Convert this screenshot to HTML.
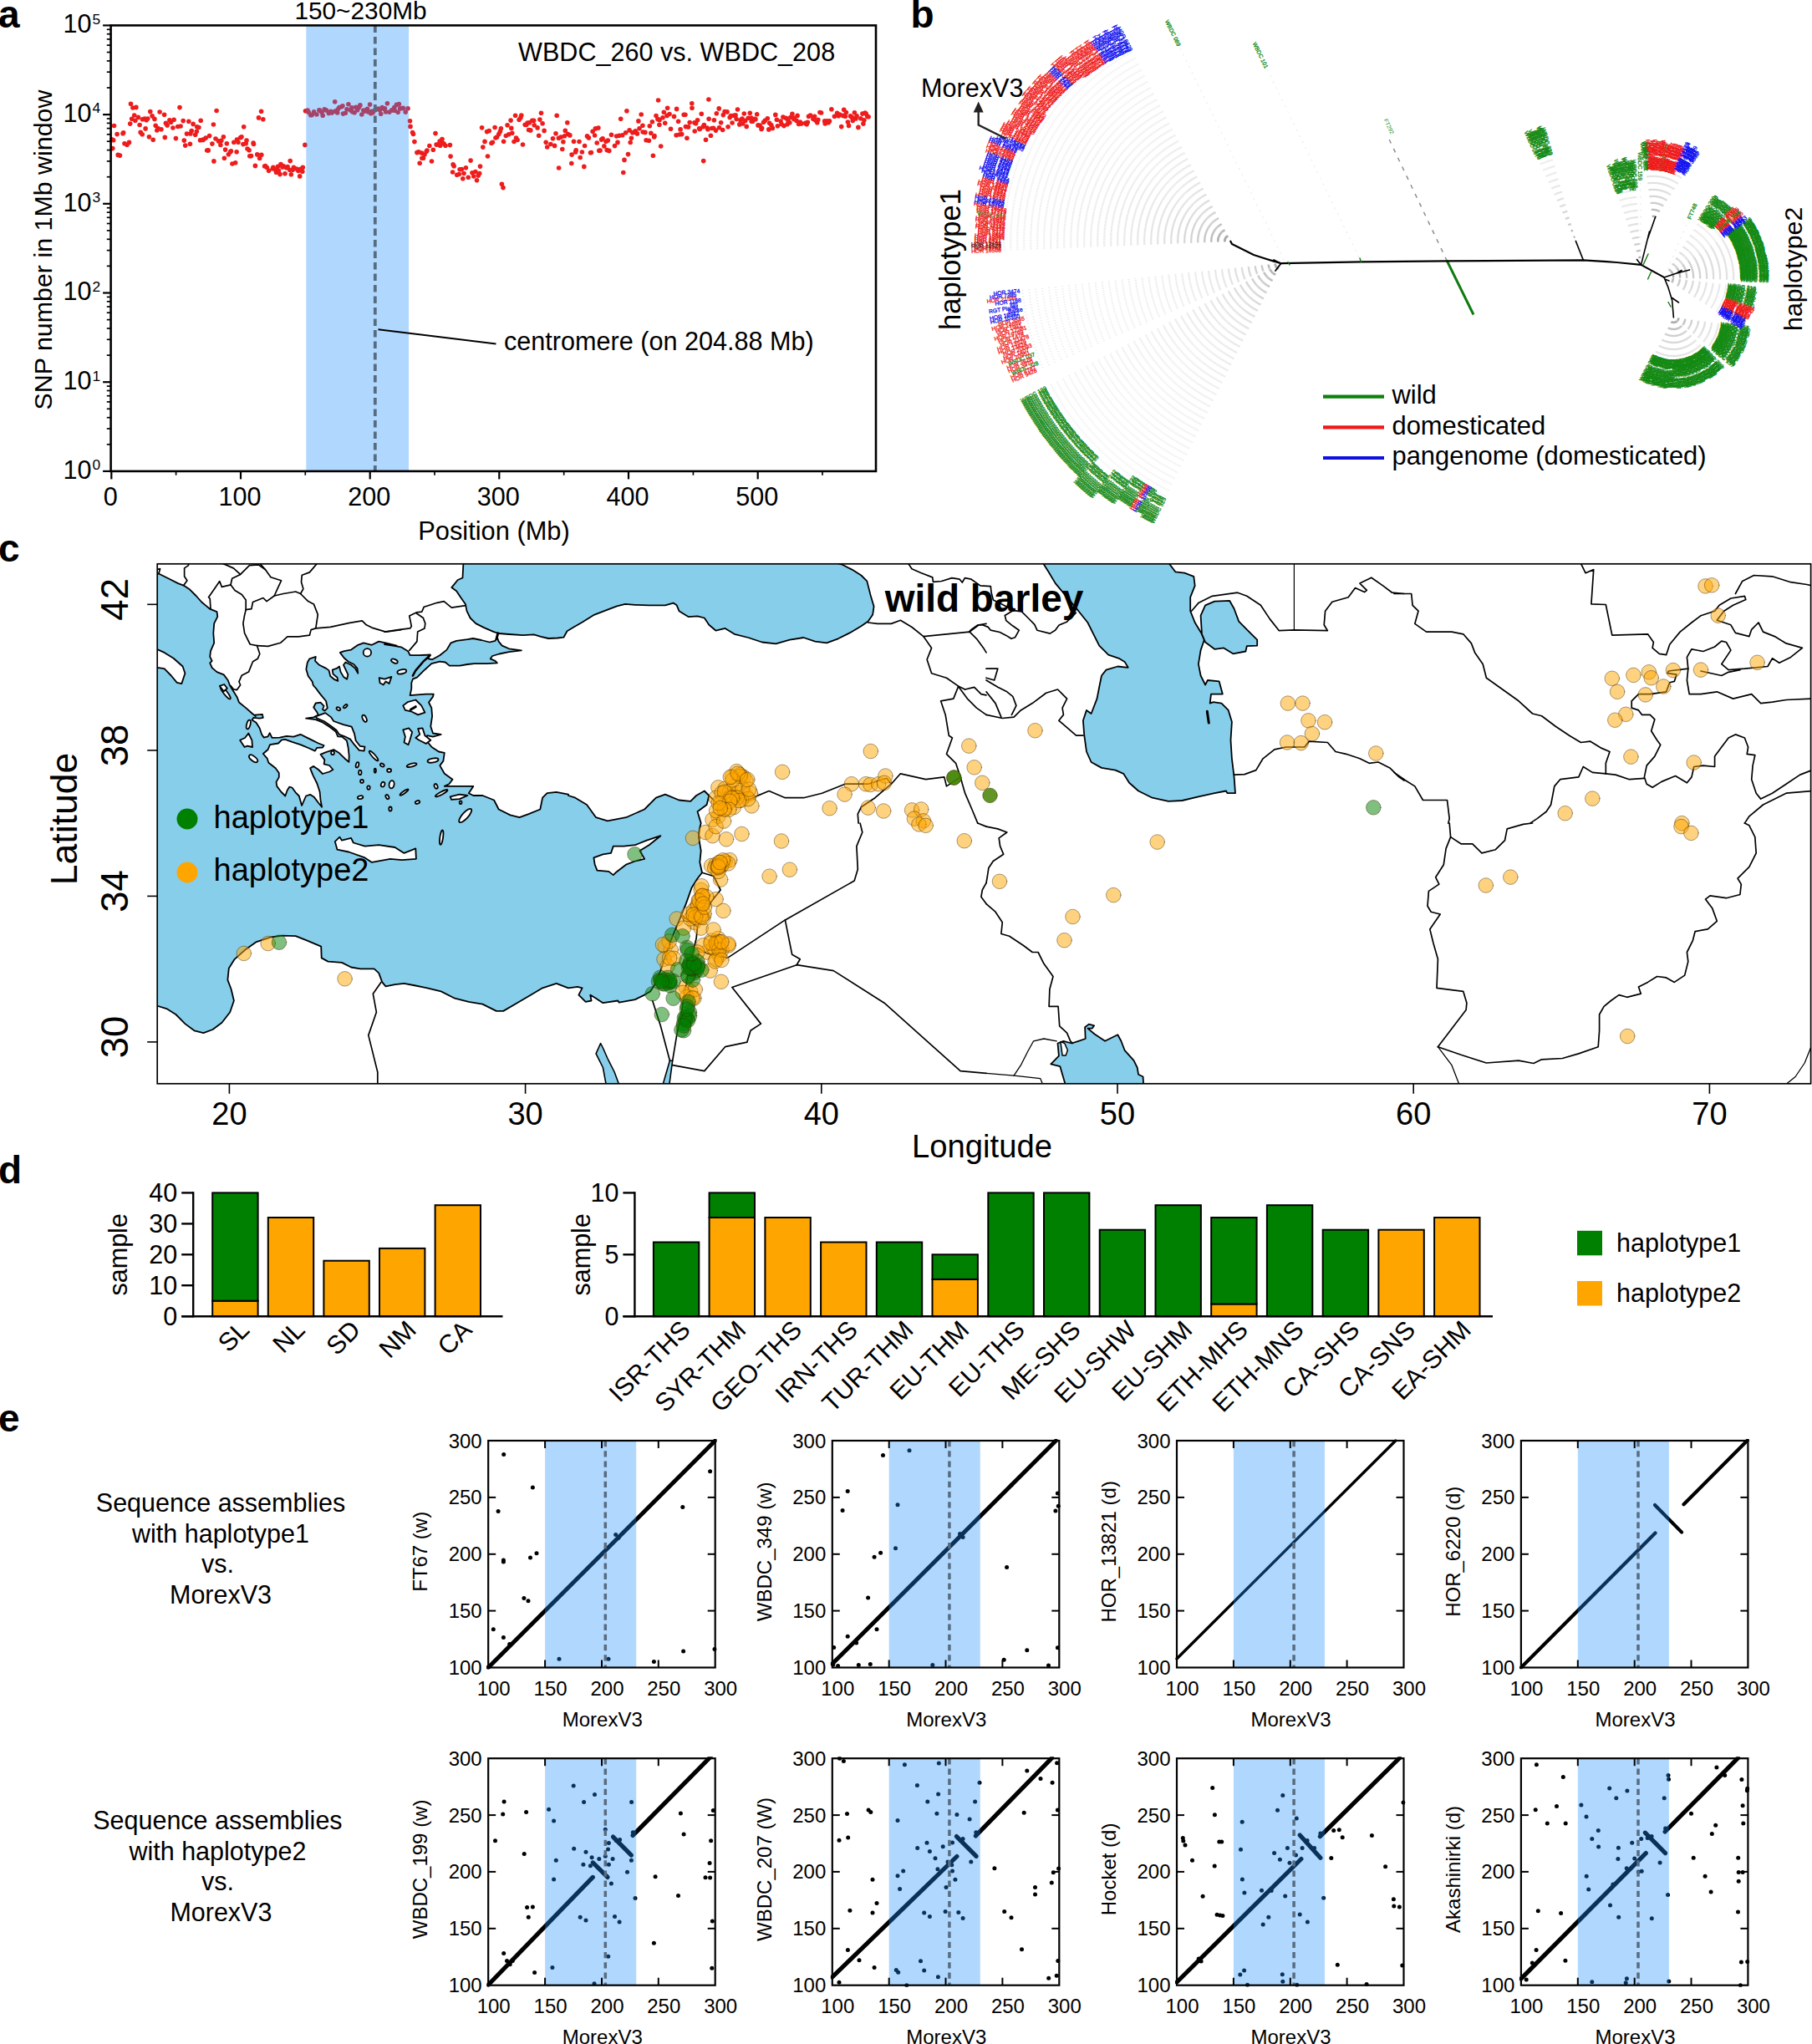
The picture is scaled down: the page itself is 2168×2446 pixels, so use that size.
<!DOCTYPE html>
<html><head><meta charset="utf-8"><title>Figure</title>
<style>
html,body{margin:0;padding:0;background:#fff}
svg{display:block}
text{font-family:"Liberation Sans",Arial,Helvetica,sans-serif}
</style></head><body>
<svg width="2168" height="2446" viewBox="0 0 2168 2446">
<rect width="2168" height="2446" fill="#fff"/>
<g id="panel-a">
<text x="-2" y="32.6" font-size="46" font-weight="bold">a</text>
<g fill="#ee1c1c"><circle cx="133.8" cy="166.7" r="2.8"/><circle cx="135.7" cy="167.8" r="2.8"/><circle cx="136.5" cy="150.5" r="2.8"/><circle cx="140.1" cy="160.6" r="2.8"/><circle cx="141.2" cy="185.4" r="2.8"/><circle cx="143.5" cy="186.1" r="2.8"/><circle cx="147" cy="159.8" r="2.8"/><circle cx="147.7" cy="158.7" r="2.8"/><circle cx="149" cy="171.7" r="2.8"/><circle cx="152" cy="173.2" r="2.8"/><circle cx="154.5" cy="170.4" r="2.8"/><circle cx="155.7" cy="148.1" r="2.8"/><circle cx="157.7" cy="142.2" r="2.8"/><circle cx="158.9" cy="129" r="2.8"/><circle cx="160.7" cy="138" r="2.8"/><circle cx="161.8" cy="144.2" r="2.8"/><circle cx="162.9" cy="128.4" r="2.8"/><circle cx="165.4" cy="140.4" r="2.8"/><circle cx="167.1" cy="149.5" r="2.8"/><circle cx="168.2" cy="158.4" r="2.8"/><circle cx="170.2" cy="160.8" r="2.8"/><circle cx="170.5" cy="142.8" r="2.8"/><circle cx="173" cy="142" r="2.8"/><circle cx="174.1" cy="153.9" r="2.8"/><circle cx="175.1" cy="143.7" r="2.8"/><circle cx="176.7" cy="142" r="2.8"/><circle cx="178.4" cy="163.7" r="2.8"/><circle cx="179.8" cy="133.6" r="2.8"/><circle cx="182.1" cy="138.7" r="2.8"/><circle cx="183.2" cy="167.3" r="2.8"/><circle cx="184.9" cy="142.4" r="2.8"/><circle cx="186.2" cy="150.2" r="2.8"/><circle cx="187.8" cy="156" r="2.8"/><circle cx="189" cy="153.6" r="2.8"/><circle cx="191.1" cy="134" r="2.8"/><circle cx="192.9" cy="154.7" r="2.8"/><circle cx="196.6" cy="137.3" r="2.8"/><circle cx="197.3" cy="164.4" r="2.8"/><circle cx="198.4" cy="147.4" r="2.8"/><circle cx="200.1" cy="149.9" r="2.8"/><circle cx="202.9" cy="143.9" r="2.8"/><circle cx="204.5" cy="146.3" r="2.8"/><circle cx="206.9" cy="153" r="2.8"/><circle cx="208.1" cy="143.3" r="2.8"/><circle cx="210.4" cy="165.6" r="2.8"/><circle cx="212.7" cy="151.5" r="2.8"/><circle cx="215" cy="128.6" r="2.8"/><circle cx="216.1" cy="151" r="2.8"/><circle cx="219.2" cy="144.6" r="2.8"/><circle cx="220.3" cy="168.1" r="2.8"/><circle cx="221.7" cy="174.1" r="2.8"/><circle cx="223.5" cy="160.1" r="2.8"/><circle cx="225.8" cy="145.2" r="2.8"/><circle cx="227.4" cy="172.3" r="2.8"/><circle cx="228" cy="159.9" r="2.8"/><circle cx="229.2" cy="156.6" r="2.8"/><circle cx="231.1" cy="148.4" r="2.8"/><circle cx="233.7" cy="161.3" r="2.8"/><circle cx="235.3" cy="157.2" r="2.8"/><circle cx="235.7" cy="151.7" r="2.8"/><circle cx="237.9" cy="152.5" r="2.8"/><circle cx="239.5" cy="167.7" r="2.8"/><circle cx="240.2" cy="144.3" r="2.8"/><circle cx="242.7" cy="167.4" r="2.8"/><circle cx="243.4" cy="167" r="2.8"/><circle cx="246.2" cy="165.1" r="2.8"/><circle cx="247.7" cy="180" r="2.8"/><circle cx="249.2" cy="179.9" r="2.8"/><circle cx="250.6" cy="162.6" r="2.8"/><circle cx="253.9" cy="172.1" r="2.8"/><circle cx="255.4" cy="149" r="2.8"/><circle cx="255.9" cy="192.9" r="2.8"/><circle cx="258" cy="166" r="2.8"/><circle cx="259.1" cy="132.5" r="2.8"/><circle cx="261.5" cy="168.9" r="2.8"/><circle cx="263.9" cy="173.5" r="2.8"/><circle cx="264.8" cy="168.3" r="2.8"/><circle cx="267.4" cy="163.8" r="2.8"/><circle cx="268.4" cy="189.2" r="2.8"/><circle cx="269.6" cy="179.1" r="2.8"/><circle cx="271.3" cy="171.8" r="2.8"/><circle cx="273.4" cy="184.7" r="2.8"/><circle cx="275.5" cy="182" r="2.8"/><circle cx="276.4" cy="180.8" r="2.8"/><circle cx="277.9" cy="196" r="2.8"/><circle cx="279.8" cy="170.2" r="2.8"/><circle cx="281.7" cy="194.8" r="2.8"/><circle cx="283.1" cy="181.8" r="2.8"/><circle cx="283.5" cy="167" r="2.8"/><circle cx="285" cy="170.2" r="2.8"/><circle cx="287.6" cy="164.8" r="2.8"/><circle cx="289" cy="163.7" r="2.8"/><circle cx="290.9" cy="172.6" r="2.8"/><circle cx="291.7" cy="151.8" r="2.8"/><circle cx="294.2" cy="171.7" r="2.8"/><circle cx="295" cy="168" r="2.8"/><circle cx="296" cy="178" r="2.8"/><circle cx="298.1" cy="179.7" r="2.8"/><circle cx="298.8" cy="186.7" r="2.8"/><circle cx="300.5" cy="186.6" r="2.8"/><circle cx="303.1" cy="171" r="2.8"/><circle cx="303.5" cy="172.5" r="2.8"/><circle cx="305.4" cy="198.4" r="2.8"/><circle cx="307.8" cy="184.9" r="2.8"/><circle cx="309.5" cy="140.9" r="2.8"/><circle cx="310.7" cy="189.5" r="2.8"/><circle cx="312.6" cy="133.3" r="2.8"/><circle cx="312.8" cy="185.2" r="2.8"/><circle cx="314.8" cy="142.7" r="2.8"/><circle cx="316.6" cy="199" r="2.8"/><circle cx="317.5" cy="198.5" r="2.8"/><circle cx="319.4" cy="200.5" r="2.8"/><circle cx="321.6" cy="204.3" r="2.8"/><circle cx="326.2" cy="202" r="2.8"/><circle cx="326.9" cy="200.2" r="2.8"/><circle cx="329.5" cy="203.1" r="2.8"/><circle cx="330.5" cy="206.3" r="2.8"/><circle cx="332.4" cy="199.3" r="2.8"/><circle cx="333.4" cy="204.2" r="2.8"/><circle cx="335" cy="208.6" r="2.8"/><circle cx="336" cy="196.5" r="2.8"/><circle cx="337.9" cy="199.9" r="2.8"/><circle cx="339.2" cy="198.7" r="2.8"/><circle cx="341" cy="207.8" r="2.8"/><circle cx="342.6" cy="200.8" r="2.8"/><circle cx="344.1" cy="199.6" r="2.8"/><circle cx="346.7" cy="203.3" r="2.8"/><circle cx="347.2" cy="192.6" r="2.8"/><circle cx="348.3" cy="208.8" r="2.8"/><circle cx="350.2" cy="203.2" r="2.8"/><circle cx="351.4" cy="200.4" r="2.8"/><circle cx="355" cy="202.1" r="2.8"/><circle cx="356.9" cy="204.5" r="2.8"/><circle cx="358.7" cy="210.9" r="2.8"/><circle cx="359.7" cy="202.3" r="2.8"/><circle cx="361.8" cy="205.2" r="2.8"/><circle cx="362.3" cy="200.3" r="2.8"/><circle cx="364.9" cy="173.4" r="2.8"/><circle cx="365.5" cy="132.8" r="2.8"/><circle cx="368.1" cy="132" r="2.8"/><circle cx="369.3" cy="134.5" r="2.8"/><circle cx="371.7" cy="137.8" r="2.8"/><circle cx="373.2" cy="137.4" r="2.8"/><circle cx="375.6" cy="133.9" r="2.8"/><circle cx="378.9" cy="137" r="2.8"/><circle cx="381.9" cy="131.9" r="2.8"/><circle cx="382.4" cy="132.1" r="2.8"/><circle cx="385" cy="134.6" r="2.8"/><circle cx="386.2" cy="138.2" r="2.8"/><circle cx="388.2" cy="130.9" r="2.8"/><circle cx="390.3" cy="131.9" r="2.8"/><circle cx="393.3" cy="135.4" r="2.8"/><circle cx="395.7" cy="133.4" r="2.8"/><circle cx="397.1" cy="134.9" r="2.8"/><circle cx="400.7" cy="121.8" r="2.8"/><circle cx="400.9" cy="133.1" r="2.8"/><circle cx="403.7" cy="135" r="2.8"/><circle cx="404.3" cy="130.7" r="2.8"/><circle cx="405.9" cy="128.5" r="2.8"/><circle cx="408.6" cy="127.7" r="2.8"/><circle cx="409.9" cy="126.7" r="2.8"/><circle cx="410.5" cy="136.1" r="2.8"/><circle cx="413.3" cy="135.2" r="2.8"/><circle cx="415" cy="130.7" r="2.8"/><circle cx="416.9" cy="124.7" r="2.8"/><circle cx="419.2" cy="131.7" r="2.8"/><circle cx="420.9" cy="128.9" r="2.8"/><circle cx="421.6" cy="133.8" r="2.8"/><circle cx="424.1" cy="134.7" r="2.8"/><circle cx="425.8" cy="128.3" r="2.8"/><circle cx="427.6" cy="131.8" r="2.8"/><circle cx="429.5" cy="128.4" r="2.8"/><circle cx="430.9" cy="125.9" r="2.8"/><circle cx="432.8" cy="137" r="2.8"/><circle cx="434.8" cy="132" r="2.8"/><circle cx="436.1" cy="133.1" r="2.8"/><circle cx="437.6" cy="132.1" r="2.8"/><circle cx="439.5" cy="130.4" r="2.8"/><circle cx="440.3" cy="133.8" r="2.8"/><circle cx="442.6" cy="125.1" r="2.8"/><circle cx="443.7" cy="135.8" r="2.8"/><circle cx="444.5" cy="133.3" r="2.8"/><circle cx="446.1" cy="134.8" r="2.8"/><circle cx="448.7" cy="131.7" r="2.8"/><circle cx="449.5" cy="131.1" r="2.8"/><circle cx="452.3" cy="130" r="2.8"/><circle cx="454.4" cy="131.8" r="2.8"/><circle cx="455.7" cy="136.2" r="2.8"/><circle cx="457.2" cy="128.6" r="2.8"/><circle cx="459.6" cy="130.5" r="2.8"/><circle cx="460.5" cy="129.8" r="2.8"/><circle cx="461.6" cy="134" r="2.8"/><circle cx="463.4" cy="123.8" r="2.8"/><circle cx="465.9" cy="134.1" r="2.8"/><circle cx="468.8" cy="131.8" r="2.8"/><circle cx="469.6" cy="131.8" r="2.8"/><circle cx="471.8" cy="128.6" r="2.8"/><circle cx="472.2" cy="132.3" r="2.8"/><circle cx="474.4" cy="125.4" r="2.8"/><circle cx="476.1" cy="134.2" r="2.8"/><circle cx="477.4" cy="124.5" r="2.8"/><circle cx="478.6" cy="129.9" r="2.8"/><circle cx="480.8" cy="129.5" r="2.8"/><circle cx="482.3" cy="129.4" r="2.8"/><circle cx="485.2" cy="134.1" r="2.8"/><circle cx="488" cy="129.8" r="2.8"/><circle cx="490.5" cy="144.8" r="2.8"/><circle cx="491" cy="151.4" r="2.8"/><circle cx="493.6" cy="158.5" r="2.8"/><circle cx="494.5" cy="160.5" r="2.8"/><circle cx="495.9" cy="169.6" r="2.8"/><circle cx="498.9" cy="182.6" r="2.8"/><circle cx="500.9" cy="181.9" r="2.8"/><circle cx="502.2" cy="195.2" r="2.8"/><circle cx="504.5" cy="183.1" r="2.8"/><circle cx="504.9" cy="189.3" r="2.8"/><circle cx="506.5" cy="189.2" r="2.8"/><circle cx="508" cy="185" r="2.8"/><circle cx="510.2" cy="181.2" r="2.8"/><circle cx="511" cy="180" r="2.8"/><circle cx="513.9" cy="174.5" r="2.8"/><circle cx="516.5" cy="193" r="2.8"/><circle cx="518.3" cy="179.2" r="2.8"/><circle cx="521" cy="159.6" r="2.8"/><circle cx="522.1" cy="173.1" r="2.8"/><circle cx="523.5" cy="173" r="2.8"/><circle cx="526.1" cy="169.1" r="2.8"/><circle cx="526.7" cy="174.3" r="2.8"/><circle cx="529" cy="166.5" r="2.8"/><circle cx="529.9" cy="171.2" r="2.8"/><circle cx="531.1" cy="172.1" r="2.8"/><circle cx="533" cy="174.3" r="2.8"/><circle cx="538.4" cy="173.6" r="2.8"/><circle cx="539.1" cy="187.1" r="2.8"/><circle cx="541.6" cy="206" r="2.8"/><circle cx="542.1" cy="196.9" r="2.8"/><circle cx="543.2" cy="198.8" r="2.8"/><circle cx="546.7" cy="209.2" r="2.8"/><circle cx="549.3" cy="208.5" r="2.8"/><circle cx="550.1" cy="202.7" r="2.8"/><circle cx="552.4" cy="202.6" r="2.8"/><circle cx="553.8" cy="213.7" r="2.8"/><circle cx="555" cy="207.5" r="2.8"/><circle cx="557.4" cy="200.8" r="2.8"/><circle cx="560.3" cy="212.2" r="2.8"/><circle cx="563.1" cy="192.1" r="2.8"/><circle cx="565" cy="206.8" r="2.8"/><circle cx="566.8" cy="211" r="2.8"/><circle cx="568.9" cy="205.5" r="2.8"/><circle cx="570.5" cy="215.7" r="2.8"/><circle cx="572.3" cy="210.1" r="2.8"/><circle cx="573.7" cy="207.5" r="2.8"/><circle cx="574.5" cy="199.1" r="2.8"/><circle cx="576.6" cy="152.7" r="2.8"/><circle cx="577.8" cy="176.1" r="2.8"/><circle cx="580" cy="169.4" r="2.8"/><circle cx="582.6" cy="157.6" r="2.8"/><circle cx="583.5" cy="187" r="2.8"/><circle cx="585.2" cy="156.6" r="2.8"/><circle cx="588" cy="171.3" r="2.8"/><circle cx="589.4" cy="170.2" r="2.8"/><circle cx="592.1" cy="152.5" r="2.8"/><circle cx="593" cy="165" r="2.8"/><circle cx="594.6" cy="164.1" r="2.8"/><circle cx="596.8" cy="160.6" r="2.8"/><circle cx="598.4" cy="157.3" r="2.8"/><circle cx="599.4" cy="153.8" r="2.8"/><circle cx="602.6" cy="169.2" r="2.8"/><circle cx="605.3" cy="162.5" r="2.8"/><circle cx="607.1" cy="149.7" r="2.8"/><circle cx="608.7" cy="160.7" r="2.8"/><circle cx="611.1" cy="144.1" r="2.8"/><circle cx="611.8" cy="153.4" r="2.8"/><circle cx="612.8" cy="159.2" r="2.8"/><circle cx="615" cy="169.5" r="2.8"/><circle cx="616.6" cy="138.2" r="2.8"/><circle cx="617.5" cy="165" r="2.8"/><circle cx="619.1" cy="167.5" r="2.8"/><circle cx="621.1" cy="143.3" r="2.8"/><circle cx="622.9" cy="141" r="2.8"/><circle cx="623.8" cy="138.1" r="2.8"/><circle cx="625.5" cy="173" r="2.8"/><circle cx="628.2" cy="149.2" r="2.8"/><circle cx="629.7" cy="149.5" r="2.8"/><circle cx="631.2" cy="147.1" r="2.8"/><circle cx="632.6" cy="155.5" r="2.8"/><circle cx="633.5" cy="146.7" r="2.8"/><circle cx="634.8" cy="155.9" r="2.8"/><circle cx="636.8" cy="144.2" r="2.8"/><circle cx="638.7" cy="144.3" r="2.8"/><circle cx="639.2" cy="149.8" r="2.8"/><circle cx="643.1" cy="152.9" r="2.8"/><circle cx="644.7" cy="162.3" r="2.8"/><circle cx="645.9" cy="143.1" r="2.8"/><circle cx="647.5" cy="135.2" r="2.8"/><circle cx="649.1" cy="147.7" r="2.8"/><circle cx="651.1" cy="156.4" r="2.8"/><circle cx="653.2" cy="170.2" r="2.8"/><circle cx="654.7" cy="176" r="2.8"/><circle cx="658.8" cy="172.5" r="2.8"/><circle cx="661.5" cy="165.7" r="2.8"/><circle cx="663.6" cy="174.4" r="2.8"/><circle cx="665" cy="159.8" r="2.8"/><circle cx="666.2" cy="138.3" r="2.8"/><circle cx="668.4" cy="165.2" r="2.8"/><circle cx="668.6" cy="201" r="2.8"/><circle cx="671.2" cy="164.1" r="2.8"/><circle cx="672.8" cy="178.5" r="2.8"/><circle cx="673.9" cy="169.7" r="2.8"/><circle cx="675.5" cy="162.7" r="2.8"/><circle cx="676.3" cy="156.4" r="2.8"/><circle cx="678.8" cy="146.8" r="2.8"/><circle cx="679.6" cy="160.5" r="2.8"/><circle cx="681.9" cy="161.9" r="2.8"/><circle cx="683.8" cy="195.5" r="2.8"/><circle cx="684.1" cy="185.1" r="2.8"/><circle cx="686.5" cy="169.3" r="2.8"/><circle cx="688.6" cy="181.9" r="2.8"/><circle cx="689.2" cy="179.8" r="2.8"/><circle cx="693" cy="169.5" r="2.8"/><circle cx="694.2" cy="188.5" r="2.8"/><circle cx="696.4" cy="182" r="2.8"/><circle cx="698.8" cy="199.4" r="2.8"/><circle cx="699.6" cy="174.5" r="2.8"/><circle cx="702.5" cy="162.9" r="2.8"/><circle cx="704.4" cy="164.9" r="2.8"/><circle cx="706.5" cy="182.7" r="2.8"/><circle cx="707.4" cy="182.5" r="2.8"/><circle cx="709.1" cy="157.3" r="2.8"/><circle cx="711.6" cy="162" r="2.8"/><circle cx="712.4" cy="153.9" r="2.8"/><circle cx="714.2" cy="171" r="2.8"/><circle cx="715.9" cy="153.1" r="2.8"/><circle cx="716.8" cy="180.3" r="2.8"/><circle cx="718.1" cy="180.1" r="2.8"/><circle cx="719.6" cy="167.1" r="2.8"/><circle cx="721.1" cy="165.7" r="2.8"/><circle cx="722.9" cy="174.9" r="2.8"/><circle cx="725" cy="169.2" r="2.8"/><circle cx="726.2" cy="179.6" r="2.8"/><circle cx="727.3" cy="168.1" r="2.8"/><circle cx="728.8" cy="180.4" r="2.8"/><circle cx="731.5" cy="161.3" r="2.8"/><circle cx="735.5" cy="174.6" r="2.8"/><circle cx="737.6" cy="163" r="2.8"/><circle cx="739" cy="170.4" r="2.8"/><circle cx="740.9" cy="162.3" r="2.8"/><circle cx="742.7" cy="142.3" r="2.8"/><circle cx="744.7" cy="161.8" r="2.8"/><circle cx="747" cy="191.4" r="2.8"/><circle cx="748.7" cy="158.7" r="2.8"/><circle cx="749.9" cy="132.7" r="2.8"/><circle cx="751.5" cy="184.6" r="2.8"/><circle cx="753.1" cy="155.9" r="2.8"/><circle cx="754.2" cy="170.5" r="2.8"/><circle cx="755.4" cy="165.3" r="2.8"/><circle cx="756.8" cy="158.7" r="2.8"/><circle cx="758.4" cy="158.2" r="2.8"/><circle cx="760.3" cy="156.9" r="2.8"/><circle cx="762.4" cy="159.9" r="2.8"/><circle cx="763.9" cy="144.9" r="2.8"/><circle cx="765" cy="153.7" r="2.8"/><circle cx="767.2" cy="137" r="2.8"/><circle cx="768.9" cy="150.2" r="2.8"/><circle cx="769.2" cy="158" r="2.8"/><circle cx="771.9" cy="158.4" r="2.8"/><circle cx="773.1" cy="167.7" r="2.8"/><circle cx="776.4" cy="168.3" r="2.8"/><circle cx="777.3" cy="150.8" r="2.8"/><circle cx="778.8" cy="159.3" r="2.8"/><circle cx="780.4" cy="145.8" r="2.8"/><circle cx="782.7" cy="164" r="2.8"/><circle cx="783" cy="162.6" r="2.8"/><circle cx="785" cy="138.5" r="2.8"/><circle cx="786.9" cy="142.6" r="2.8"/><circle cx="788.9" cy="149.2" r="2.8"/><circle cx="789.1" cy="143.4" r="2.8"/><circle cx="790.7" cy="175" r="2.8"/><circle cx="793" cy="140.7" r="2.8"/><circle cx="794.3" cy="134.2" r="2.8"/><circle cx="795.7" cy="147.2" r="2.8"/><circle cx="798" cy="138.4" r="2.8"/><circle cx="798.6" cy="129.2" r="2.8"/><circle cx="801" cy="136.5" r="2.8"/><circle cx="802.5" cy="154.3" r="2.8"/><circle cx="806.5" cy="139.4" r="2.8"/><circle cx="809.1" cy="161.7" r="2.8"/><circle cx="809.6" cy="130.4" r="2.8"/><circle cx="811.6" cy="145.3" r="2.8"/><circle cx="812.9" cy="161" r="2.8"/><circle cx="814.1" cy="154.9" r="2.8"/><circle cx="815.7" cy="160.6" r="2.8"/><circle cx="818.2" cy="137.3" r="2.8"/><circle cx="819.9" cy="137.2" r="2.8"/><circle cx="820.4" cy="151.6" r="2.8"/><circle cx="821.9" cy="165.3" r="2.8"/><circle cx="823.6" cy="151.9" r="2.8"/><circle cx="825.2" cy="146.5" r="2.8"/><circle cx="827.8" cy="123.7" r="2.8"/><circle cx="828" cy="129.3" r="2.8"/><circle cx="830.9" cy="146.8" r="2.8"/><circle cx="831.2" cy="157" r="2.8"/><circle cx="832.6" cy="147.8" r="2.8"/><circle cx="834.6" cy="143.8" r="2.8"/><circle cx="836.6" cy="153.7" r="2.8"/><circle cx="837.3" cy="154.4" r="2.8"/><circle cx="839.3" cy="136.2" r="2.8"/><circle cx="841.1" cy="151.8" r="2.8"/><circle cx="842.4" cy="149.5" r="2.8"/><circle cx="844.5" cy="167.3" r="2.8"/><circle cx="846.1" cy="153" r="2.8"/><circle cx="846.9" cy="154.8" r="2.8"/><circle cx="848.1" cy="142.2" r="2.8"/><circle cx="850.4" cy="162.2" r="2.8"/><circle cx="851.7" cy="153.5" r="2.8"/><circle cx="853.6" cy="153.2" r="2.8"/><circle cx="854.4" cy="143.8" r="2.8"/><circle cx="856.4" cy="156.1" r="2.8"/><circle cx="857.3" cy="135.7" r="2.8"/><circle cx="860.2" cy="129.9" r="2.8"/><circle cx="860.5" cy="152.8" r="2.8"/><circle cx="862.6" cy="146.7" r="2.8"/><circle cx="864.7" cy="155.5" r="2.8"/><circle cx="865.3" cy="137.6" r="2.8"/><circle cx="867.1" cy="133.5" r="2.8"/><circle cx="870" cy="133.9" r="2.8"/><circle cx="871.1" cy="151.8" r="2.8"/><circle cx="873.2" cy="140.6" r="2.8"/><circle cx="874.6" cy="138.5" r="2.8"/><circle cx="876.1" cy="147" r="2.8"/><circle cx="877.9" cy="138.2" r="2.8"/><circle cx="880.1" cy="137.9" r="2.8"/><circle cx="881.1" cy="142.5" r="2.8"/><circle cx="882.5" cy="131" r="2.8"/><circle cx="884.8" cy="148.9" r="2.8"/><circle cx="885.9" cy="143.7" r="2.8"/><circle cx="887.9" cy="142.1" r="2.8"/><circle cx="888.7" cy="148" r="2.8"/><circle cx="890.3" cy="136" r="2.8"/><circle cx="891.7" cy="144.4" r="2.8"/><circle cx="893.2" cy="151.4" r="2.8"/><circle cx="895.3" cy="141.3" r="2.8"/><circle cx="897.3" cy="135.2" r="2.8"/><circle cx="898.8" cy="141.1" r="2.8"/><circle cx="899.2" cy="145.2" r="2.8"/><circle cx="900.5" cy="145.3" r="2.8"/><circle cx="903.1" cy="142.2" r="2.8"/><circle cx="904" cy="142.8" r="2.8"/><circle cx="905.7" cy="136.8" r="2.8"/><circle cx="907" cy="149.9" r="2.8"/><circle cx="909.2" cy="150.1" r="2.8"/><circle cx="911" cy="154.4" r="2.8"/><circle cx="911.6" cy="153.2" r="2.8"/><circle cx="913.6" cy="146.3" r="2.8"/><circle cx="915.3" cy="144.3" r="2.8"/><circle cx="918.3" cy="141.7" r="2.8"/><circle cx="919.8" cy="154.9" r="2.8"/><circle cx="920.6" cy="147.2" r="2.8"/><circle cx="922.9" cy="149.8" r="2.8"/><circle cx="924.3" cy="153.4" r="2.8"/><circle cx="927.8" cy="137.4" r="2.8"/><circle cx="929.4" cy="143.3" r="2.8"/><circle cx="930.4" cy="150.7" r="2.8"/><circle cx="934.1" cy="145" r="2.8"/><circle cx="935.1" cy="148.6" r="2.8"/><circle cx="936.9" cy="140.1" r="2.8"/><circle cx="938" cy="150.6" r="2.8"/><circle cx="940.5" cy="141.4" r="2.8"/><circle cx="942" cy="148.8" r="2.8"/><circle cx="943.1" cy="144.7" r="2.8"/><circle cx="944.8" cy="146.8" r="2.8"/><circle cx="945.8" cy="140.5" r="2.8"/><circle cx="947.9" cy="136.3" r="2.8"/><circle cx="949.8" cy="142.4" r="2.8"/><circle cx="950.1" cy="141.1" r="2.8"/><circle cx="953" cy="144.4" r="2.8"/><circle cx="954.1" cy="138.4" r="2.8"/><circle cx="955.6" cy="148.5" r="2.8"/><circle cx="957.3" cy="146.1" r="2.8"/><circle cx="958.8" cy="147.9" r="2.8"/><circle cx="963.6" cy="147.4" r="2.8"/><circle cx="965.2" cy="148.8" r="2.8"/><circle cx="966.3" cy="146.4" r="2.8"/><circle cx="967.5" cy="139.3" r="2.8"/><circle cx="969.6" cy="138.1" r="2.8"/><circle cx="972.9" cy="142.2" r="2.8"/><circle cx="974.6" cy="139.3" r="2.8"/><circle cx="975.7" cy="144.1" r="2.8"/><circle cx="977.8" cy="146.7" r="2.8"/><circle cx="978.8" cy="143.3" r="2.8"/><circle cx="981" cy="134.5" r="2.8"/><circle cx="982.6" cy="135" r="2.8"/><circle cx="986.7" cy="144.9" r="2.8"/><circle cx="987.2" cy="148" r="2.8"/><circle cx="989.8" cy="144.9" r="2.8"/><circle cx="991.2" cy="146.8" r="2.8"/><circle cx="992.5" cy="144.9" r="2.8"/><circle cx="994.9" cy="130.8" r="2.8"/><circle cx="998.4" cy="139.2" r="2.8"/><circle cx="1001.6" cy="135.4" r="2.8"/><circle cx="1003.3" cy="138.7" r="2.8"/><circle cx="1004.7" cy="137" r="2.8"/><circle cx="1006.7" cy="151.6" r="2.8"/><circle cx="1008.7" cy="138.4" r="2.8"/><circle cx="1009.7" cy="131.2" r="2.8"/><circle cx="1011.4" cy="139.2" r="2.8"/><circle cx="1012.4" cy="134.6" r="2.8"/><circle cx="1014.4" cy="146" r="2.8"/><circle cx="1015.6" cy="150.4" r="2.8"/><circle cx="1017.5" cy="138.9" r="2.8"/><circle cx="1019.3" cy="140.4" r="2.8"/><circle cx="1020.3" cy="144.5" r="2.8"/><circle cx="1022.4" cy="134.8" r="2.8"/><circle cx="1024" cy="141.9" r="2.8"/><circle cx="1025.1" cy="138.8" r="2.8"/><circle cx="1026.9" cy="152.4" r="2.8"/><circle cx="1029.8" cy="141.8" r="2.8"/><circle cx="1031.9" cy="136.1" r="2.8"/><circle cx="1032.9" cy="148.1" r="2.8"/><circle cx="1033.9" cy="143.8" r="2.8"/><circle cx="1036.3" cy="136.3" r="2.8"/><circle cx="1037.8" cy="139.5" r="2.8"/><circle cx="1039.1" cy="139.7" r="2.8"/><circle cx="134.8" cy="177.6" r="2.8"/><circle cx="600.4" cy="220.3" r="2.8"/><circle cx="602" cy="224.6" r="2.8"/><circle cx="841.7" cy="192.6" r="2.8"/><circle cx="847.9" cy="119" r="2.8"/><circle cx="787.6" cy="120" r="2.8"/><circle cx="156.5" cy="124.3" r="2.8"/><circle cx="1035.1" cy="135" r="2.8"/><circle cx="745.8" cy="206.5" r="2.8"/><circle cx="781.4" cy="186.2" r="2.8"/></g>
<rect x="366.3" y="30.4" width="122.8" height="533.5" fill="rgba(30,144,255,0.35)"/>
<line x1="448.8" y1="30.4" x2="448.8" y2="563.9" stroke="#586c80" stroke-width="3.8" stroke-dasharray="8.5 5"/>
<rect x="132.6" y="30.4" width="915.4" height="533.5" fill="none" stroke="#000" stroke-width="2.6"/>
<line x1="123.1" y1="563.9" x2="132.6" y2="563.9" stroke="#000" stroke-width="2.2"/>
<text x="109.6" y="572.8" font-size="30.6" text-anchor="end">10</text>
<text x="110.6" y="562.2" font-size="17.4">0</text>
<line x1="127.8" y1="531.8" x2="132.6" y2="531.8" stroke="#000" stroke-width="1.7"/>
<line x1="127.8" y1="513" x2="132.6" y2="513" stroke="#000" stroke-width="1.7"/>
<line x1="127.8" y1="499.7" x2="132.6" y2="499.7" stroke="#000" stroke-width="1.7"/>
<line x1="127.8" y1="489.3" x2="132.6" y2="489.3" stroke="#000" stroke-width="1.7"/>
<line x1="127.8" y1="480.9" x2="132.6" y2="480.9" stroke="#000" stroke-width="1.7"/>
<line x1="127.8" y1="473.7" x2="132.6" y2="473.7" stroke="#000" stroke-width="1.7"/>
<line x1="127.8" y1="467.5" x2="132.6" y2="467.5" stroke="#000" stroke-width="1.7"/>
<line x1="127.8" y1="462.1" x2="132.6" y2="462.1" stroke="#000" stroke-width="1.7"/>
<line x1="123.1" y1="457.2" x2="132.6" y2="457.2" stroke="#000" stroke-width="2.2"/>
<text x="109.6" y="466.1" font-size="30.6" text-anchor="end">10</text>
<text x="110.6" y="455.5" font-size="17.4">1</text>
<line x1="127.8" y1="425.1" x2="132.6" y2="425.1" stroke="#000" stroke-width="1.7"/>
<line x1="127.8" y1="406.3" x2="132.6" y2="406.3" stroke="#000" stroke-width="1.7"/>
<line x1="127.8" y1="393" x2="132.6" y2="393" stroke="#000" stroke-width="1.7"/>
<line x1="127.8" y1="382.6" x2="132.6" y2="382.6" stroke="#000" stroke-width="1.7"/>
<line x1="127.8" y1="374.2" x2="132.6" y2="374.2" stroke="#000" stroke-width="1.7"/>
<line x1="127.8" y1="367" x2="132.6" y2="367" stroke="#000" stroke-width="1.7"/>
<line x1="127.8" y1="360.8" x2="132.6" y2="360.8" stroke="#000" stroke-width="1.7"/>
<line x1="127.8" y1="355.4" x2="132.6" y2="355.4" stroke="#000" stroke-width="1.7"/>
<line x1="123.1" y1="350.5" x2="132.6" y2="350.5" stroke="#000" stroke-width="2.2"/>
<text x="109.6" y="359.4" font-size="30.6" text-anchor="end">10</text>
<text x="110.6" y="348.8" font-size="17.4">2</text>
<line x1="127.8" y1="318.4" x2="132.6" y2="318.4" stroke="#000" stroke-width="1.7"/>
<line x1="127.8" y1="299.6" x2="132.6" y2="299.6" stroke="#000" stroke-width="1.7"/>
<line x1="127.8" y1="286.3" x2="132.6" y2="286.3" stroke="#000" stroke-width="1.7"/>
<line x1="127.8" y1="275.9" x2="132.6" y2="275.9" stroke="#000" stroke-width="1.7"/>
<line x1="127.8" y1="267.5" x2="132.6" y2="267.5" stroke="#000" stroke-width="1.7"/>
<line x1="127.8" y1="260.3" x2="132.6" y2="260.3" stroke="#000" stroke-width="1.7"/>
<line x1="127.8" y1="254.1" x2="132.6" y2="254.1" stroke="#000" stroke-width="1.7"/>
<line x1="127.8" y1="248.7" x2="132.6" y2="248.7" stroke="#000" stroke-width="1.7"/>
<line x1="123.1" y1="243.8" x2="132.6" y2="243.8" stroke="#000" stroke-width="2.2"/>
<text x="109.6" y="252.7" font-size="30.6" text-anchor="end">10</text>
<text x="110.6" y="242.1" font-size="17.4">3</text>
<line x1="127.8" y1="211.7" x2="132.6" y2="211.7" stroke="#000" stroke-width="1.7"/>
<line x1="127.8" y1="192.9" x2="132.6" y2="192.9" stroke="#000" stroke-width="1.7"/>
<line x1="127.8" y1="179.6" x2="132.6" y2="179.6" stroke="#000" stroke-width="1.7"/>
<line x1="127.8" y1="169.2" x2="132.6" y2="169.2" stroke="#000" stroke-width="1.7"/>
<line x1="127.8" y1="160.8" x2="132.6" y2="160.8" stroke="#000" stroke-width="1.7"/>
<line x1="127.8" y1="153.6" x2="132.6" y2="153.6" stroke="#000" stroke-width="1.7"/>
<line x1="127.8" y1="147.4" x2="132.6" y2="147.4" stroke="#000" stroke-width="1.7"/>
<line x1="127.8" y1="142" x2="132.6" y2="142" stroke="#000" stroke-width="1.7"/>
<line x1="123.1" y1="137.1" x2="132.6" y2="137.1" stroke="#000" stroke-width="2.2"/>
<text x="109.6" y="146" font-size="30.6" text-anchor="end">10</text>
<text x="110.6" y="135.4" font-size="17.4">4</text>
<line x1="127.8" y1="105" x2="132.6" y2="105" stroke="#000" stroke-width="1.7"/>
<line x1="127.8" y1="86.2" x2="132.6" y2="86.2" stroke="#000" stroke-width="1.7"/>
<line x1="127.8" y1="72.9" x2="132.6" y2="72.9" stroke="#000" stroke-width="1.7"/>
<line x1="127.8" y1="62.5" x2="132.6" y2="62.5" stroke="#000" stroke-width="1.7"/>
<line x1="127.8" y1="54.1" x2="132.6" y2="54.1" stroke="#000" stroke-width="1.7"/>
<line x1="127.8" y1="46.9" x2="132.6" y2="46.9" stroke="#000" stroke-width="1.7"/>
<line x1="127.8" y1="40.7" x2="132.6" y2="40.7" stroke="#000" stroke-width="1.7"/>
<line x1="127.8" y1="35.3" x2="132.6" y2="35.3" stroke="#000" stroke-width="1.7"/>
<line x1="123.1" y1="30.4" x2="132.6" y2="30.4" stroke="#000" stroke-width="2.2"/>
<text x="109.6" y="39.3" font-size="30.6" text-anchor="end">10</text>
<text x="110.6" y="28.7" font-size="17.4">5</text>
<line x1="133.3" y1="563.9" x2="133.3" y2="573.4" stroke="#000" stroke-width="2.2"/>
<text x="132.3" y="605" font-size="30.6" text-anchor="middle">0</text>
<line x1="210.6" y1="563.9" x2="210.6" y2="568.7" stroke="#000" stroke-width="1.7"/>
<line x1="288" y1="563.9" x2="288" y2="573.4" stroke="#000" stroke-width="2.2"/>
<text x="287" y="605" font-size="30.6" text-anchor="middle">100</text>
<line x1="365.3" y1="563.9" x2="365.3" y2="568.7" stroke="#000" stroke-width="1.7"/>
<line x1="442.7" y1="563.9" x2="442.7" y2="573.4" stroke="#000" stroke-width="2.2"/>
<text x="441.7" y="605" font-size="30.6" text-anchor="middle">200</text>
<line x1="520" y1="563.9" x2="520" y2="568.7" stroke="#000" stroke-width="1.7"/>
<line x1="597.3" y1="563.9" x2="597.3" y2="573.4" stroke="#000" stroke-width="2.2"/>
<text x="596.3" y="605" font-size="30.6" text-anchor="middle">300</text>
<line x1="674.7" y1="563.9" x2="674.7" y2="568.7" stroke="#000" stroke-width="1.7"/>
<line x1="752" y1="563.9" x2="752" y2="573.4" stroke="#000" stroke-width="2.2"/>
<text x="751" y="605" font-size="30.6" text-anchor="middle">400</text>
<line x1="829.4" y1="563.9" x2="829.4" y2="568.7" stroke="#000" stroke-width="1.7"/>
<line x1="906.7" y1="563.9" x2="906.7" y2="573.4" stroke="#000" stroke-width="2.2"/>
<text x="905.7" y="605" font-size="30.6" text-anchor="middle">500</text>
<line x1="984" y1="563.9" x2="984" y2="568.7" stroke="#000" stroke-width="1.7"/>
<text x="62" y="299" font-size="30.4" text-anchor="middle" transform="rotate(-90 62 299)">SNP number in 1Mb window</text>
<text x="591" y="646" font-size="30.8" text-anchor="middle">Position (Mb)</text>
<text x="431.5" y="22.5" font-size="29.8" text-anchor="middle">150~230Mb</text>
<text x="620" y="72.5" font-size="30.6">WBDC_260 vs. WBDC_208</text>
<text x="603" y="419" font-size="30.6">centromere (on 204.88 Mb)</text>
<line x1="452.5" y1="394.3" x2="593.5" y2="411.4" stroke="#000" stroke-width="2"/>
</g>
<g id="panel-b">
<text x="1089.5" y="32.8" font-size="46" font-weight="bold">b</text>
<path d="M1469.5 283.4L1353.9 62.2M1469.5 283.4L1351.9 63.1M1469.4 283.4L1349.8 64.1M1469.4 283.5L1347.8 65M1469.3 283.5L1345.7 65.9M1469.3 283.5L1343.7 66.9M1469.2 283.5L1341.7 67.9M1469.2 283.6L1339.7 68.9M1469.2 283.6L1337.7 69.9M1469.1 283.6L1335.7 71M1469.1 283.6L1333.7 72.1M1469 283.7L1331.7 73.1M1469 283.7L1329.8 74.2M1468.9 283.7L1327.8 75.3M1468.9 283.8L1325.8 76.5M1468.8 283.8L1323.9 77.6M1468.8 283.8L1322 78.8M1468.8 283.9L1320 80M1468.7 283.9L1318.1 81.2M1468.7 283.9L1316.2 82.4M1468.6 283.9L1314.3 83.7M1468.6 284L1312.4 84.9M1468.6 284L1310.5 86.2M1468.5 284L1308.7 87.5M1468.5 284.1L1306.8 88.8M1468.4 284.1L1305 90.1M1468.4 284.1L1303.1 91.5M1468.4 284.2L1301.3 92.8M1468.3 284.2L1299.5 94.2M1468.3 284.2L1295.7 93.4M1468.2 284.3L1293.9 94.8M1468.2 284.3L1292.1 96.3M1468.2 284.4L1290.3 97.7M1468.1 284.4L1288.5 99.2M1468.1 284.4L1286.7 100.7M1468 284.5L1285 102.2M1468 284.5L1283.2 103.7M1468 284.5L1281.5 105.3M1467.9 284.6L1279.8 106.8M1467.9 284.6L1278.1 108.4M1467.9 284.7L1276.4 110M1467.8 284.7L1274.7 111.6M1467.8 284.7L1273.1 113.3M1467.8 284.8L1271.4 114.9M1467.7 284.8L1269.8 116.5M1467.7 284.9L1268.2 118.2M1467.7 284.9L1266.5 119.9M1467.6 284.9L1264.9 121.6M1467.6 285L1263.4 123.3M1467.6 285L1261.8 125.1M1467.5 285.1L1260.2 126.8M1467.5 285.1L1258.7 128.6M1467.5 285.1L1257.2 130.3M1467.4 285.2L1255.7 132.1M1467.4 285.2L1254.2 133.9M1467.4 285.3L1252.7 135.7M1467.3 285.3L1251.2 137.6M1467.3 285.4L1252.3 141.1M1467.3 285.4L1250.9 142.9M1467.3 285.4L1249.4 144.8M1467.2 285.5L1248.1 146.6M1467.2 285.5L1246.7 148.5M1467.2 285.6L1245.3 150.4M1467.1 285.6L1244 152.3M1467.1 285.7L1242.8 154.3M1467.1 285.7L1241.6 156.3M1467.1 285.8L1240.4 158.3M1467 285.8L1239.3 160.4M1467 285.9L1235.6 161M1467 285.9L1234.4 163M1467 285.9L1233.4 165.1M1466.9 286L1232.3 167.2M1466.9 286L1231.2 169.3M1466.9 286.1L1230.2 171.4M1466.9 286.1L1229.2 173.6M1466.9 286.2L1228.2 175.7M1466.8 286.2L1227.2 177.8M1466.8 286.3L1226.3 180M1466.8 286.3L1218.9 179.4M1466.8 286.4L1217.9 181.6M1466.8 286.4L1217 183.8M1466.7 286.5L1216.1 186M1466.7 286.5L1215.2 188.3M1466.7 286.6L1214.3 190.5M1466.7 286.6L1213.5 192.8M1466.7 286.7L1212.7 195.1M1466.6 286.7L1211.9 197.3M1466.6 286.8L1211.1 199.6M1466.6 286.8L1210.3 201.9M1466.6 286.9L1209.6 204.2M1466.6 286.9L1208.8 206.5M1466.6 287L1208.1 208.8M1466.5 287L1207.4 211.1M1466.5 287.1L1206.8 213.4M1466.5 287.1L1209 216.5M1466.5 287.2L1208.4 218.8M1466.5 287.2L1207.8 221.2M1466.5 287.3L1207.2 223.5M1466.5 287.3L1206.6 225.8M1466.4 287.4L1206.1 228.1M1466.4 287.4L1205.6 230.4M1466.4 287.5L1205.1 232.8M1466.4 287.5L1204.6 235.1M1466.4 287.6L1204.2 237.5M1466.4 287.6L1203.7 239.8M1466.4 287.7L1203.3 242.1M1466.4 287.7L1202.9 244.5M1466.4 287.8L1202.5 246.9M1466.4 287.8L1202.2 249.2M1466.4 287.9L1205.8 252.1M1466.3 287.9L1205.5 254.5M1466.3 288L1205.2 256.8M1466.3 288L1204.9 259.1M1466.3 288.1L1204.7 261.5M1466.3 288.1L1204.5 263.8M1466.3 288.2L1204.2 266.1M1466.3 288.2L1204.1 268.5M1466.3 288.3L1203.9 270.8M1466.3 288.4L1203.7 273.2M1466.3 288.4L1203.6 275.5M1466.3 288.5L1203.5 277.9M1466.3 288.5L1203.4 280.2M1466.3 288.6L1203.4 282.6M1466.3 288.6L1203.3 284.9M1466.3 288.7L1199.3 287.3M1466.3 288.7L1199.3 289.6M1466.3 288.8L1199.3 292M1466.3 288.8L1199.4 294.4M1466.3 288.9L1199.4 296.8M1466.3 288.9L1199.5 299.2M1526.7 315.8L1221.9 347.9M1526.7 315.9L1217.4 352.1M1526.7 316L1217.8 355.8M1526.8 316L1223.3 358.9M1526.8 316.1L1218.9 363.3M1526.8 316.2L1219.4 367M1526.8 316.2L1225 369.8M1526.8 316.3L1220.8 374.4M1526.8 316.4L1221.5 378M1526.8 316.5L1227.1 380.7M1526.8 316.5L1223.1 385.4M1526.9 316.6L1223.9 389M1526.9 316.7L1229.6 391.5M1526.9 316.7L1225.7 396.3M1526.9 316.8L1226.7 399.9M1526.9 316.9L1232.5 402.1M1527 316.9L1228.8 407.1M1527 317L1229.9 410.7M1527 317.1L1235.8 412.7M1527 317.1L1232.2 417.8M1527 317.2L1233.5 421.4M1527.1 317.3L1239.4 423.2M1527.1 317.3L1236.1 428.4M1527.1 317.4L1237.4 431.9M1527.1 317.5L1243.5 433.5M1527.2 317.5L1240.3 438.9M1527.2 317.6L1241.8 442.3M1527.4 318L1253 463.3M1527.4 318L1254.2 465.5M1527.4 318.1L1255.4 467.7M1527.5 318.1L1256.6 469.9M1527.5 318.2L1257.8 472M1527.5 318.2L1259 474.2M1527.5 318.3L1260.3 476.4M1527.6 318.3L1261.6 478.5M1527.6 318.3L1262.9 480.6M1527.6 318.4L1264.2 482.8M1527.6 318.4L1265.5 484.9M1527.7 318.5L1266.9 487M1527.7 318.5L1268.2 489.1M1527.7 318.5L1269.6 491.2M1527.7 318.6L1271 493.2M1527.8 318.6L1272.4 495.3M1527.8 318.7L1273.9 497.3M1527.8 318.7L1275.3 499.4M1527.8 318.7L1276.8 501.4M1527.9 318.8L1278.2 503.4M1527.9 318.8L1279.7 505.4M1527.9 318.8L1281.2 507.4M1528 318.9L1282.8 509.4M1528 318.9L1284.3 511.3M1528 319L1285.9 513.3M1528.1 319L1287.4 515.2M1528.1 319L1289 517.2M1528.1 319.1L1290.6 519.1M1528.1 319.1L1292.2 521M1528.2 319.1L1293.9 522.9M1528.2 319.2L1295.5 524.7M1528.2 319.2L1297.2 526.6M1528.3 319.2L1298.8 528.5M1528.3 319.3L1300.5 530.3M1528.3 319.3L1302.2 532.1M1528.4 319.3L1303.9 533.9M1528.4 319.4L1305.7 535.7M1528.4 319.4L1307.4 537.5M1528.5 319.4L1309.2 539.3M1528.5 319.5L1311 541M1528.5 319.5L1312.7 542.8M1528.6 319.5L1314.5 544.5M1528.6 319.6L1310.2 552.8M1528.6 319.6L1312.1 554.5M1528.7 319.6L1314 556.3M1528.7 319.7L1315.9 558M1528.7 319.7L1317.8 559.7M1528.8 319.7L1319.8 561.4M1528.8 319.8L1321.7 563M1528.8 319.8L1323.7 564.7M1528.9 319.8L1325.6 566.3M1528.9 319.9L1327.6 568M1529 319.9L1335.9 561.8M1529 319.9L1337.8 563.3M1529 319.9L1339.8 564.8M1529.1 320L1341.7 566.4M1529.1 320L1343.7 567.9M1529.1 320L1345.7 569.3M1529.2 320.1L1347.7 570.8M1529.2 320.1L1349.8 572.3M1529.3 320.1L1351.8 573.7M1529.3 320.1L1358.4 568.5M1529.3 320.2L1360.4 569.9M1529.4 320.2L1362.4 571.2M1529.4 320.2L1364.4 572.6M1529.5 320.2L1366.5 573.9M1529.5 320.3L1368.5 575.2M1529.5 320.3L1370.6 576.5M1529.6 320.3L1372.6 577.7M1529.6 320.3L1374.7 579M1529.7 320.4L1376.8 580.2M1529.7 320.4L1378.9 581.5M1529.7 320.4L1381 582.7M1529.8 320.4L1383.1 583.9M1529.8 320.5L1383.3 588.5M1529.9 320.5L1385.5 589.7M1529.9 320.5L1387.6 590.9M1529.9 320.5L1389.8 592M1530 320.6L1392 593.1M1530 320.6L1394.2 594.2M1536.1 310.8L1411.3 56.2M1625.9 307.8L1516.1 82.7M1884.2 284.6L1856.2 187M1884.2 284.6L1855 187.4M1884.1 284.6L1852.8 184.9M1884.1 284.6L1851.5 185.3M1884 284.6L1851.2 188.5M1884 284.6L1850 189M1883.9 284.6L1848.8 189.4M1883.9 284.7L1847.6 189.9M1883.8 284.7L1846.3 190.4M1883.8 284.7L1844 188.1M1883.7 284.7L1843.9 191.3M1883.7 284.7L1842.7 191.9M1883.6 284.8L1840.3 189.7M1962.9 308.9L1957.2 226.6M1962.8 308.9L1955.9 226.7M1962.7 308.9L1955 229.8M1962.6 308.9L1953.5 227M1962.5 309L1952.6 230.1M1962.4 309L1951 227.3M1962.3 309L1949.2 223.5M1962.2 309L1947.9 223.7M1962.1 309L1947.3 227.9M1962 309L1946.1 228.1M1961.9 309.1L1944.9 228.3M1961.7 309.1L1943.6 228.6M1961.6 309.1L1941.5 225M1961.5 309.1L1941.2 229.2M1961.4 309.2L1940 229.5M1961.3 309.2L1939.6 232.7M1961.2 309.2L1938.5 233.1M1961.1 309.3L1937.3 233.4M1961 309.3L1935.2 230.9M1963.4 308.9L1962.5 217.4M1980.7 260.8L2013.1 210.9M1980.7 260.8L2013.1 209.1M1980.6 260.7L2012.3 208.6M1980.5 260.7L2011.4 208.1M1980.5 260.7L2010.6 207.6M1980.4 260.6L2009.7 207.1M1980.3 260.6L2008.9 206.7M1980.3 260.5L2007.3 207.5M1980.2 260.5L2007.1 205.8M1980.1 260.5L2006.2 205.3M1980.1 260.4L2005.3 204.9M1980 260.4L2004.4 204.5M1979.9 260.4L2001 210.1M1979.9 260.4L2000.7 208.4M1979.8 260.3L1999.4 209.5M1979.7 260.3L1998.5 209.2M1979.7 260.3L1997.7 208.9M1979.6 260.3L1996.9 208.6M1979.5 260.2L1996 208.3M1979.4 260.2L1995.2 208M1979.4 260.2L1994.3 207.8M1979.3 260.2L1993.5 207.5M1979.2 260.2L1992.6 207.3M1979.2 260.1L1992.1 205.6M1979.1 260.1L1990.9 206.9M1979 260.1L1990.3 205.3M1978.9 260.1L1989.1 206.6M1978.9 260.1L1988.3 206.4M1978.8 260.1L1987.4 206.2M1978.7 260.1L1986.5 206.1M1978.6 260L1985.8 204.5M1978.6 260L1984.8 205.9M1978.5 260L1983.9 205.8M1978.4 260L1983 205.7M1978.3 260L1982.1 205.6M1978.3 260L1981.3 204.1M1978.2 260L1980.4 204M1978.1 260L1979.5 204M1978 260L1978.6 205.5M1978 260L1977.7 205.5M1977.9 260L1976.8 205.5M1977.8 260L1975.8 204M1977.7 260L1974.9 204.1M1977.7 260L1974 204.1M1977.6 260L1973.1 204.2M1977.5 260L1972.2 204.3M1977.5 260L1971.3 204.4M1977.4 260L1970.4 204.5M1977.3 260L1969.7 206.1M2001 332.2L2080.5 334.7M2001 332.1L2080.5 333.9M2001 332L2080.5 333M2001 331.9L2080.5 332.1M2001 331.8L2080.5 331.3M2001 331.7L2080.5 330.4M2001 331.6L2081.3 329.5M2001 331.5L2080.4 328.7M2001 331.4L2080.4 327.8M2001 331.3L2080.4 327M2001 331.3L2081.1 326.1M2001 331.2L2080.3 325.3M2001 331.1L2081 324.3M2001 331L2080.1 323.5M2000.9 330.9L2080 322.7M2000.9 330.8L2080.7 321.7M2000.9 330.7L2079.8 321M2000.9 330.6L2080.5 320M2000.9 330.5L2080.4 319.2M2000.9 330.4L2080.3 318.3M2000.9 330.3L2079.3 317.6M2000.9 330.2L2079.2 316.7M2000.8 330.1L2079.1 315.9M2000.8 330L2079.7 314.9M2000.8 329.9L2079.5 314M2000.8 329.8L2078.6 313.3M2000.8 329.7L2078.4 312.5M2000.7 329.6L2078.2 311.7M2000.7 329.5L2078 310.8M2000.7 329.5L2077.8 310M2000.7 329.4L2077.6 309.2M2000.6 329.3L2077.3 308.3M2000.6 329.2L2077.9 307.3M2000.6 329.1L2076.9 306.7M2000.6 329L2076.6 305.8M2000.5 328.9L2076.4 305M2000.5 328.8L2076.9 304M2000.5 328.7L2075.8 303.4M2000.4 328.6L2076.3 302.3M2000.4 328.5L2075.3 301.8M2000.4 328.4L2075.7 300.7M2000.3 328.4L2074.7 300.1M2000.3 328.3L2074.4 299.3M2000.3 328.2L2074.1 298.5M2000.2 328.1L2073.7 297.7M2000.2 328L2074.1 296.6M2000.2 327.9L2073.1 296.2M2000.1 327.8L2072.7 295.4M2000.1 327.7L2072.4 294.6M2000 327.6L2072 293.8M2000 327.6L2072.3 292.7M2000 327.5L2072 291.9M1999.9 327.4L2070.9 291.5M1999.9 327.3L2070.5 290.7M1999.8 327.2L2070.8 289.6M1999.8 327.1L2069.7 289.2M1999.7 327L2069.2 288.5M1999.7 327L2069.5 287.3M1999.6 326.9L2068.4 287M1999.6 326.8L2068 286.2M1999.5 326.7L2068.2 285.1M1999.5 326.6L2067.1 284.7M1999.4 326.5L2066.6 284M1999.4 326.5L2066.1 283.3M1999.3 326.4L2065.7 282.6M1999.3 326.3L2065.9 281.4M1999.2 326.2L2060.4 283.7M1999.1 326.1L2059.7 282.7M1999 326L2059 281.7M1999 325.8L2058.3 280.8M1998.9 325.7L2057.5 279.8M1998.8 325.6L2056.8 278.9M1998.7 325.5L2056 277.9M1998.6 325.4L2055.2 277M1998.5 325.3L2054.4 276.1M1998.4 325.2L2053.6 275.2M1998.3 325.1L2052.8 274.3M1998.2 325L2052 273.4M1998.1 324.9L2051.2 272.6M1998 324.8L2047.3 274.4M1997.9 324.7L2046.5 273.6M1997.8 324.6L2044.3 274.3M1997.7 324.5L2044.8 272M1997.6 324.4L2042.6 272.7M1997.5 324.3L2043 270.5M1997.4 324.2L2042.1 269.7M1997.2 324.1L2041.2 269M1997.1 324L2039.1 269.9M1997 323.9L2039.4 267.6M1996.9 323.8L2037.3 268.5M1996.8 323.7L2036.4 267.8M1996.7 323.7L2035.4 267.2M1996.5 323.6L2035.6 264.9M1996.4 323.5L2034.6 264.3M1996.3 323.4L2032.6 265.3M1994.9 322.7L2020.3 263.4M2000.9 333.1L2065.9 341.1M2000.9 333.3L2065.8 342.2M2000.9 333.4L2065.6 343.3M2000.9 333.6L2065.5 344.4M2000.8 333.7L2067.2 345.8M2000.8 333.8L2065.1 346.6M2000.8 334L2064.8 347.6M2000.7 334.1L2064.6 348.7M2000.7 334.3L2066.3 350.3M2000.7 334.4L2064.1 350.9M2000.6 334.6L2063.8 351.9M2000.6 334.7L2063.5 353M2000.6 334.8L2063.2 354.1M2000.5 335L2064.7 355.7M2000.5 335.1L2062.5 356.2M2000.4 335.3L2064 357.9M2000.4 335.4L2061.8 358.2M2000.3 335.5L2063.2 360M2000.3 335.7L2061 360.3M2000.2 335.8L2060.5 361.3M2000.2 335.9L2060.1 362.3M2000.1 336.1L2059.6 363.3M2000 336.2L2059.2 364.3M2000 336.3L2058.7 365.3M1999.9 336.5L2060 367.2M1999.8 336.6L2057.7 367.3M1999.8 336.7L2057.2 368.3M1999.7 336.8L2058.4 370.2M1999.6 337L2056.1 370.2M1999.5 337.1L2057.2 372.2M1999.5 337.2L2054.9 372.1M1999.4 337.3L2056 374.1M2000.1 384.3L1979.3 424.3M2000.2 384.4L1980.7 423.3M2000.2 384.4L1981.4 423.6M2000.3 384.4L1982.1 423.9M2000.4 384.5L1982.1 425.6M2000.4 384.5L1983.4 424.5M2000.5 384.5L1983.6 426.2M2000.6 384.6L1984.3 426.5M2000.7 384.6L1985.1 426.8M2000.7 384.6L1986.3 425.6M2000.8 384.6L1987 425.9M2000.9 384.7L1987.7 426.1M2001 384.7L1988 427.8M2001 384.7L1989.2 426.6M2001.1 384.7L1989.9 426.8M2001.2 384.8L1990.7 427M2001.3 384.8L1991.4 427.1M2001.3 384.8L1992.2 427.3M2001.4 384.8L1992.6 428.9M2001.5 384.8L1993.6 427.6M2001.6 384.8L1994.1 429.2M2001.7 384.8L1995.1 427.9M2001.7 384.9L1995.7 429.4M2001.8 384.9L1996.5 429.5M2001.9 384.9L1997.3 429.6M2002 384.9L1998.2 428.2M2002 384.9L1998.9 428.3M2002.1 384.9L1999.7 428.3M2002.2 384.9L2000.5 428.4M2002.3 384.9L2001.2 428.4M2002.4 384.9L2002 428.4M2002.4 384.9L2002.7 428.4M2002.5 384.9L2003.5 428.4M2002.6 384.9L2004.3 428.4M2002.7 384.9L2005 428.3M2002.7 384.9L2005.9 429.8M2002.8 384.9L2006.5 428.2M2002.9 384.9L2007.5 429.6M2003 384.9L2008.1 428.1M2003.1 384.9L2008.8 428M2003.1 384.8L2009.6 427.9M2003.2 384.8L2010.3 427.7M2003.3 384.8L2011.3 429.1M2003.4 384.8L2011.8 427.5M2003.4 384.8L2012.9 428.8M2003.5 384.8L2013.6 428.6M2003.6 384.8L2014.1 427M2003.7 384.7L2014.8 426.8M2003.8 384.7L2015.5 426.6M2003.8 384.7L2016.7 427.8M2003.9 384.7L2017.4 427.6M2004 384.6L2017.7 425.9M2004.1 384.6L2018.4 425.7M2004.1 384.6L2019.1 425.4M2004.2 384.6L2020.4 426.5M2004.3 384.5L2020.6 424.9M2004.3 384.5L2021.3 424.6M2004.4 384.5L2022.6 425.6M2004.5 384.4L2023.3 425.3M2004.6 384.4L2023.4 423.6M2004.6 384.4L2024 423.3M2004.7 384.3L2024.7 423M2004.8 384.3L2025.4 422.6M2004.8 384.3L2026.1 422.2M2004.9 384.2L2026.7 421.9M2005 384.2L2027.4 421.5M2005 384.1L2028.8 422.3M2005.1 384.1L2029.5 421.9M2005.2 384.1L2029.3 420.2M2005.2 384L2029.9 419.8M2005.3 384L2031.4 420.6M2005.4 383.9L2032.1 420.1M2005.4 383.9L2031.8 418.5M2005.5 383.8L2032.4 418M2005.6 383.8L2033 417.5M2005.6 383.7L2033.6 417.1M2005.7 383.7L2034.2 416.6M2005.7 383.6L2034.7 416.1M2005.8 383.6L2035.3 415.5M2005.8 383.5L2036.9 416.1M2005.9 383.5L2036.4 414.5M2006.3 383L2047.1 416.1M2006.3 383L2047.7 415.4M2006.4 382.9L2046.6 413.4M2006.4 382.9L2047.1 412.7M2006.5 382.8L2047.7 412M2006.5 382.7L2048.2 411.3M2006.6 382.7L2050.3 411.7M2006.6 382.6L2049.1 409.8M2006.7 382.5L2049.6 409.1M2006.7 382.5L2051.8 409.3M2006.7 382.4L2050.5 407.6M2006.8 382.3L2051 406.8M2006.8 382.3L2051.4 406M2006.8 382.2L2051.8 405.2M2006.9 382.1L2054 405.3M2006.9 382L2052.6 403.6M2007 382L2054.8 403.7M2007 381.9L2055.1 402.8M2007 381.8L2053.6 401.2M2007 381.7L2055.8 401.1M2007.1 381.7L2054.3 399.6M2007.1 381.6L2054.6 398.7M2007.1 381.5L2056.8 398.6M2007.2 381.4L2055.2 397.1M2007.2 381.4L2055.4 396.2M2007.2 381.3L2055.7 395.4M2007.2 381.2L2055.9 394.5M2007.2 381.1L2056.2 393.7M2007.3 381.1L2058.3 393.3M2007.3 381L2058.5 392.4M2007.3 380.9L2056.8 391.1M2007.3 380.8L2056.9 390.2M2007.3 380.8L2059.1 389.7M2007.3 380.7L2057.2 388.5M2007.4 380.6L2057.4 387.6" fill="none" stroke="#a8a8a8" stroke-width="0.27" stroke-dasharray="2.2 5.8"/>
<g fill="#128a12" font-size="6.8" stroke="#128a12" stroke-width="0.3"><text x="1203.4" y="259" dy="2.3" text-anchor="end" transform="rotate(6.3 1203.4 259)">WBDC 018</text><text x="1238" y="423.7" dy="2.3" text-anchor="end" transform="rotate(-20.2 1238 423.7)">WBDC 037</text><text x="1242.1" y="434.1" dy="2.3" text-anchor="end" transform="rotate(-22.2 1242.1 434.1)">WBDC 328</text><text x="1251.7" y="464" dy="2.3" text-anchor="end" transform="rotate(-27.9 1251.7 464)">WBDC 199</text><text x="1252.8" y="466.2" dy="2.3" text-anchor="end" transform="rotate(-28.4 1252.8 466.2)">WBDC 298</text><text x="1254" y="468.4" dy="2.3" text-anchor="end" transform="rotate(-28.8 1254 468.4)">WBDC 235</text><text x="1255.3" y="470.6" dy="2.3" text-anchor="end" transform="rotate(-29.3 1255.3 470.6)">WBDC 226</text><text x="1256.5" y="472.8" dy="2.3" text-anchor="end" transform="rotate(-29.7 1256.5 472.8)">WBDC 237</text><text x="1257.7" y="475" dy="2.3" text-anchor="end" transform="rotate(-30.2 1257.7 475)">WBDC 278</text><text x="1259" y="477.1" dy="2.3" text-anchor="end" transform="rotate(-30.6 1259 477.1)">WBDC 043</text><text x="1260.3" y="479.3" dy="2.3" text-anchor="end" transform="rotate(-31.1 1260.3 479.3)">WBDC 266</text><text x="1261.6" y="481.4" dy="2.3" text-anchor="end" transform="rotate(-31.5 1261.6 481.4)">WBDC 264</text><text x="1262.9" y="483.6" dy="2.3" text-anchor="end" transform="rotate(-32 1262.9 483.6)">WBDC 016</text><text x="1264.3" y="485.7" dy="2.3" text-anchor="end" transform="rotate(-32.4 1264.3 485.7)">WBDC 159</text><text x="1265.6" y="487.8" dy="2.3" text-anchor="end" transform="rotate(-32.9 1265.6 487.8)">WBDC 308</text><text x="1267" y="489.9" dy="2.3" text-anchor="end" transform="rotate(-33.3 1267 489.9)">WBDC 045</text><text x="1268.4" y="492" dy="2.3" text-anchor="end" transform="rotate(-33.8 1268.4 492)">WBDC 247</text><text x="1269.8" y="494.1" dy="2.3" text-anchor="end" transform="rotate(-34.2 1269.8 494.1)">WBDC 058</text><text x="1271.2" y="496.1" dy="2.3" text-anchor="end" transform="rotate(-34.7 1271.2 496.1)">WBDC 255</text><text x="1272.6" y="498.2" dy="2.3" text-anchor="end" transform="rotate(-35.1 1272.6 498.2)">WBDC 315</text><text x="1274.1" y="500.2" dy="2.3" text-anchor="end" transform="rotate(-35.6 1274.1 500.2)">WBDC 338</text><text x="1275.5" y="502.3" dy="2.3" text-anchor="end" transform="rotate(-36 1275.5 502.3)">WBDC 249</text><text x="1277" y="504.3" dy="2.3" text-anchor="end" transform="rotate(-36.5 1277 504.3)">WBDC 131</text><text x="1278.5" y="506.3" dy="2.3" text-anchor="end" transform="rotate(-36.9 1278.5 506.3)">WBDC 006</text><text x="1280" y="508.3" dy="2.3" text-anchor="end" transform="rotate(-37.4 1280 508.3)">WBDC 189</text><text x="1281.6" y="510.3" dy="2.3" text-anchor="end" transform="rotate(-37.8 1281.6 510.3)">WBDC 348</text><text x="1283.1" y="512.3" dy="2.3" text-anchor="end" transform="rotate(-38.3 1283.1 512.3)">WBDC 314</text><text x="1284.7" y="514.2" dy="2.3" text-anchor="end" transform="rotate(-38.7 1284.7 514.2)">WBDC 104</text><text x="1286.3" y="516.2" dy="2.3" text-anchor="end" transform="rotate(-39.2 1286.3 516.2)">WBDC 266</text><text x="1287.9" y="518.1" dy="2.3" text-anchor="end" transform="rotate(-39.6 1287.9 518.1)">WBDC 087</text><text x="1289.5" y="520" dy="2.3" text-anchor="end" transform="rotate(-40.1 1289.5 520)">WBDC 176</text><text x="1291.1" y="521.9" dy="2.3" text-anchor="end" transform="rotate(-40.6 1291.1 521.9)">WBDC 338</text><text x="1292.7" y="523.8" dy="2.3" text-anchor="end" transform="rotate(-41 1292.7 523.8)">WBDC 227</text><text x="1294.4" y="525.7" dy="2.3" text-anchor="end" transform="rotate(-41.5 1294.4 525.7)">WBDC 256</text><text x="1296" y="527.6" dy="2.3" text-anchor="end" transform="rotate(-41.9 1296 527.6)">WBDC 124</text><text x="1297.7" y="529.5" dy="2.3" text-anchor="end" transform="rotate(-42.4 1297.7 529.5)">WBDC 168</text><text x="1299.4" y="531.3" dy="2.3" text-anchor="end" transform="rotate(-42.8 1299.4 531.3)">WBDC 208</text><text x="1301.1" y="533.1" dy="2.3" text-anchor="end" transform="rotate(-43.3 1301.1 533.1)">WBDC 102</text><text x="1302.9" y="535" dy="2.3" text-anchor="end" transform="rotate(-43.7 1302.9 535)">WBDC 325</text><text x="1304.6" y="536.8" dy="2.3" text-anchor="end" transform="rotate(-44.2 1304.6 536.8)">WBDC 221</text><text x="1306.4" y="538.6" dy="2.3" text-anchor="end" transform="rotate(-44.6 1306.4 538.6)">WBDC 103</text><text x="1308.1" y="540.3" dy="2.3" text-anchor="end" transform="rotate(-45.1 1308.1 540.3)">WBDC 110</text><text x="1309.9" y="542.1" dy="2.3" text-anchor="end" transform="rotate(-45.5 1309.9 542.1)">WBDC 197</text><text x="1311.7" y="543.9" dy="2.3" text-anchor="end" transform="rotate(-46 1311.7 543.9)">WBDC 113</text><text x="1313.5" y="545.6" dy="2.3" text-anchor="end" transform="rotate(-46.4 1313.5 545.6)">WBDC 299</text><text x="1309.2" y="553.9" dy="2.3" text-anchor="end" transform="rotate(-46.9 1309.2 553.9)">WBDC 163</text><text x="1311.1" y="555.6" dy="2.3" text-anchor="end" transform="rotate(-47.3 1311.1 555.6)">WBDC 108</text><text x="1313" y="557.4" dy="2.3" text-anchor="end" transform="rotate(-47.8 1313 557.4)">WBDC 070</text><text x="1314.9" y="559.1" dy="2.3" text-anchor="end" transform="rotate(-48.2 1314.9 559.1)">WBDC 069</text><text x="1316.8" y="560.8" dy="2.3" text-anchor="end" transform="rotate(-48.7 1316.8 560.8)">WBDC 255</text><text x="1318.8" y="562.5" dy="2.3" text-anchor="end" transform="rotate(-49.1 1318.8 562.5)">WBDC 180</text><text x="1320.7" y="564.2" dy="2.3" text-anchor="end" transform="rotate(-49.6 1320.7 564.2)">WBDC 021</text><text x="1322.7" y="565.9" dy="2.3" text-anchor="end" transform="rotate(-50 1322.7 565.9)">WBDC 033</text><text x="1324.7" y="567.5" dy="2.3" text-anchor="end" transform="rotate(-50.5 1324.7 567.5)">WBDC 142</text><text x="1326.7" y="569.1" dy="2.3" text-anchor="end" transform="rotate(-50.9 1326.7 569.1)">WBDC 087</text><text x="1334.9" y="562.9" dy="2.3" text-anchor="end" transform="rotate(-51.4 1334.9 562.9)">WBDC 242</text><text x="1336.9" y="564.5" dy="2.3" text-anchor="end" transform="rotate(-51.9 1336.9 564.5)">WBDC 141</text><text x="1338.9" y="566" dy="2.3" text-anchor="end" transform="rotate(-52.3 1338.9 566)">WBDC 110</text><text x="1340.8" y="567.5" dy="2.3" text-anchor="end" transform="rotate(-52.8 1340.8 567.5)">WBDC 212</text><text x="1342.8" y="569.1" dy="2.3" text-anchor="end" transform="rotate(-53.2 1342.8 569.1)">WBDC 196</text><text x="1344.8" y="570.5" dy="2.3" text-anchor="end" transform="rotate(-53.7 1344.8 570.5)">WBDC 321</text><text x="1346.9" y="572" dy="2.3" text-anchor="end" transform="rotate(-54.1 1346.9 572)">WBDC 267</text><text x="1348.9" y="573.5" dy="2.3" text-anchor="end" transform="rotate(-54.6 1348.9 573.5)">WBDC 253</text><text x="1350.9" y="574.9" dy="2.3" text-anchor="end" transform="rotate(-55 1350.9 574.9)">WBDC 345</text><text x="1357.5" y="569.8" dy="2.3" text-anchor="end" transform="rotate(-55.5 1357.5 569.8)">WBDC 232</text><text x="1359.5" y="571.1" dy="2.3" text-anchor="end" transform="rotate(-55.9 1359.5 571.1)">WBDC 165</text><text x="1361.6" y="572.5" dy="2.3" text-anchor="end" transform="rotate(-56.4 1361.6 572.5)">WBDC 039</text><text x="1363.6" y="573.8" dy="2.3" text-anchor="end" transform="rotate(-56.8 1363.6 573.8)">WBDC 017</text><text x="1365.6" y="575.1" dy="2.3" text-anchor="end" transform="rotate(-57.3 1365.6 575.1)">WBDC 143</text><text x="1367.7" y="576.5" dy="2.3" text-anchor="end" transform="rotate(-57.7 1367.7 576.5)">WBDC 312</text><text x="1369.8" y="577.8" dy="2.3" text-anchor="end" transform="rotate(-58.2 1369.8 577.8)">WBDC 022</text><text x="1378.1" y="582.8" dy="2.3" text-anchor="end" transform="rotate(-60 1378.1 582.8)">WBDC 329</text><text x="1380.2" y="584" dy="2.3" text-anchor="end" transform="rotate(-60.4 1380.2 584)">WBDC 070</text><text x="1382.4" y="585.2" dy="2.3" text-anchor="end" transform="rotate(-60.9 1382.4 585.2)">WBDC 208</text><text x="1382.6" y="589.9" dy="2.3" text-anchor="end" transform="rotate(-61.3 1382.6 589.9)">WBDC 013</text><text x="1384.8" y="591" dy="2.3" text-anchor="end" transform="rotate(-61.8 1384.8 591)">WBDC 137</text><text x="1386.9" y="592.2" dy="2.3" text-anchor="end" transform="rotate(-62.2 1386.9 592.2)">WBDC 122</text><text x="1389.1" y="593.3" dy="2.3" text-anchor="end" transform="rotate(-62.7 1389.1 593.3)">WBDC 073</text><text x="1391.3" y="594.5" dy="2.3" text-anchor="end" transform="rotate(-63.1 1391.3 594.5)">WBDC 025</text><text x="1393.5" y="595.6" dy="2.3" text-anchor="end" transform="rotate(-63.6 1393.5 595.6)">WBDC 323</text><text x="1410.7" y="54.9" dy="2.3" text-anchor="end" transform="rotate(63.9 1410.7 54.9)">WBDC 089</text><text x="1515.4" y="81.3" dy="2.3" text-anchor="end" transform="rotate(64 1515.4 81.3)">WBDC 101</text><text x="1855.8" y="185.5" dy="2.3" text-anchor="end" transform="rotate(74 1855.8 185.5)">WBDC 229</text><text x="1854.5" y="185.9" dy="2.3" text-anchor="end" transform="rotate(73.3 1854.5 185.9)">WBDC 323</text><text x="1852.4" y="183.4" dy="2.3" text-anchor="end" transform="rotate(72.6 1852.4 183.4)">WBDC 336</text><text x="1851.1" y="183.9" dy="2.3" text-anchor="end" transform="rotate(71.9 1851.1 183.9)">WBDC 189</text><text x="1850.8" y="187.1" dy="2.3" text-anchor="end" transform="rotate(71.2 1850.8 187.1)">WBDC 351</text><text x="1849.5" y="187.6" dy="2.3" text-anchor="end" transform="rotate(70.5 1849.5 187.6)">WBDC 103</text><text x="1848.3" y="188" dy="2.3" text-anchor="end" transform="rotate(69.8 1848.3 188)">WBDC 132</text><text x="1847" y="188.5" dy="2.3" text-anchor="end" transform="rotate(69 1847 188.5)">WBDC 006</text><text x="1845.8" y="189" dy="2.3" text-anchor="end" transform="rotate(68.3 1845.8 189)">WBDC 274</text><text x="1843.4" y="186.7" dy="2.3" text-anchor="end" transform="rotate(67.6 1843.4 186.7)">WBDC 019</text><text x="1843.3" y="190" dy="2.3" text-anchor="end" transform="rotate(66.9 1843.3 190)">WBDC 116</text><text x="1842.1" y="190.5" dy="2.3" text-anchor="end" transform="rotate(66.2 1842.1 190.5)">WBDC 178</text><text x="1839.7" y="188.3" dy="2.3" text-anchor="end" transform="rotate(65.5 1839.7 188.3)">WBDC 267</text><text x="1957.1" y="225.1" dy="2.3" text-anchor="end" transform="rotate(86 1957.1 225.1)">WBDC 202</text><text x="1955.8" y="225.2" dy="2.3" text-anchor="end" transform="rotate(85.2 1955.8 225.2)">WBDC 045</text><text x="1954.8" y="228.3" dy="2.3" text-anchor="end" transform="rotate(84.4 1954.8 228.3)">WBDC 199</text><text x="1953.3" y="225.5" dy="2.3" text-anchor="end" transform="rotate(83.6 1953.3 225.5)">WBDC 231</text><text x="1952.4" y="228.6" dy="2.3" text-anchor="end" transform="rotate(82.8 1952.4 228.6)">WBDC 101</text><text x="1950.8" y="225.8" dy="2.3" text-anchor="end" transform="rotate(82.1 1950.8 225.8)">WBDC 193</text><text x="1948.9" y="222" dy="2.3" text-anchor="end" transform="rotate(81.3 1948.9 222)">WBDC 238</text><text x="1947.6" y="222.2" dy="2.3" text-anchor="end" transform="rotate(80.5 1947.6 222.2)">WBDC 334</text><text x="1947" y="226.4" dy="2.3" text-anchor="end" transform="rotate(79.7 1947 226.4)">WBDC 051</text><text x="1945.8" y="226.6" dy="2.3" text-anchor="end" transform="rotate(78.9 1945.8 226.6)">WBDC 110</text><text x="1944.5" y="226.9" dy="2.3" text-anchor="end" transform="rotate(78.1 1944.5 226.9)">WBDC 200</text><text x="1943.3" y="227.1" dy="2.3" text-anchor="end" transform="rotate(77.3 1943.3 227.1)">WBDC 159</text><text x="1941.1" y="223.5" dy="2.3" text-anchor="end" transform="rotate(76.5 1941.1 223.5)">WBDC 135</text><text x="1940.8" y="227.7" dy="2.3" text-anchor="end" transform="rotate(75.7 1940.8 227.7)">WBDC 179</text><text x="1939.6" y="228.1" dy="2.3" text-anchor="end" transform="rotate(75 1939.6 228.1)">WBDC 020</text><text x="1939.2" y="231.3" dy="2.3" text-anchor="end" transform="rotate(74.2 1939.2 231.3)">WBDC 176</text><text x="1938" y="231.6" dy="2.3" text-anchor="end" transform="rotate(73.4 1938 231.6)">WBDC 141</text><text x="1936.9" y="232" dy="2.3" text-anchor="end" transform="rotate(72.6 1936.9 232)">WBDC 015</text><text x="1934.8" y="229.5" dy="2.3" text-anchor="end" transform="rotate(71.8 1934.8 229.5)">WBDC 033</text><text x="1962.4" y="215.9" dy="2.3" text-anchor="end" transform="rotate(89.4 1962.4 215.9)">WBDC 159</text><text x="1988.5" y="204.9" dy="2.3" transform="rotate(-80.1 1988.5 204.9)">WBDC 117</text><text x="1987.6" y="204.8" dy="2.3" transform="rotate(-80.9 1987.6 204.8)">WBDC 352</text><text x="1973" y="202.7" dy="2.3" text-anchor="end" transform="rotate(85.4 1973 202.7)">WBDC 112</text><text x="1972.1" y="202.8" dy="2.3" text-anchor="end" transform="rotate(84.6 1972.1 202.8)">WBDC 111</text><text x="1971.2" y="202.9" dy="2.3" text-anchor="end" transform="rotate(83.7 1971.2 202.9)">WBDC 314</text><text x="1970.2" y="203" dy="2.3" text-anchor="end" transform="rotate(82.9 1970.2 203)">WBDC 070</text><text x="1969.5" y="204.6" dy="2.3" text-anchor="end" transform="rotate(82 1969.5 204.6)">WBDC 322</text><text x="2082" y="334.8" dy="2.3" transform="rotate(1.8 2082 334.8)">WBDC 093</text><text x="2082" y="333.9" dy="2.3" transform="rotate(1.2 2082 333.9)">WBDC 309</text><text x="2082" y="333" dy="2.3" transform="rotate(0.7 2082 333)">WBDC 100</text><text x="2082" y="332.1" dy="2.3" transform="rotate(0.1 2082 332.1)">WBDC 100</text><text x="2082" y="331.3" dy="2.3" transform="rotate(-0.4 2082 331.3)">WBDC 069</text><text x="2082" y="330.4" dy="2.3" transform="rotate(-1 2082 330.4)">WBDC 068</text><text x="2082.8" y="329.5" dy="2.3" transform="rotate(-1.5 2082.8 329.5)">WBDC 046</text><text x="2081.9" y="328.6" dy="2.3" transform="rotate(-2.1 2081.9 328.6)">WBDC 199</text><text x="2081.9" y="327.8" dy="2.3" transform="rotate(-2.6 2081.9 327.8)">WBDC 223</text><text x="2081.9" y="326.9" dy="2.3" transform="rotate(-3.2 2081.9 326.9)">WBDC 279</text><text x="2082.6" y="326" dy="2.3" transform="rotate(-3.7 2082.6 326)">WBDC 065</text><text x="2081.7" y="325.1" dy="2.3" transform="rotate(-4.3 2081.7 325.1)">WBDC 207</text><text x="2082.5" y="324.2" dy="2.3" transform="rotate(-4.8 2082.5 324.2)">WBDC 351</text><text x="2081.6" y="323.4" dy="2.3" transform="rotate(-5.4 2081.6 323.4)">WBDC 050</text><text x="2081.5" y="322.5" dy="2.3" transform="rotate(-5.9 2081.5 322.5)">WBDC 292</text><text x="2082.2" y="321.6" dy="2.3" transform="rotate(-6.5 2082.2 321.6)">WBDC 184</text><text x="2081.3" y="320.8" dy="2.3" transform="rotate(-7 2081.3 320.8)">WBDC 060</text><text x="2082" y="319.8" dy="2.3" transform="rotate(-7.6 2082 319.8)">WBDC 259</text><text x="2081.9" y="318.9" dy="2.3" transform="rotate(-8.1 2081.9 318.9)">WBDC 176</text><text x="2081.8" y="318.1" dy="2.3" transform="rotate(-8.7 2081.8 318.1)">WBDC 352</text><text x="2080.8" y="317.3" dy="2.3" transform="rotate(-9.2 2080.8 317.3)">WBDC 037</text><text x="2080.7" y="316.5" dy="2.3" transform="rotate(-9.8 2080.7 316.5)">WBDC 055</text><text x="2080.5" y="315.6" dy="2.3" transform="rotate(-10.3 2080.5 315.6)">WBDC 020</text><text x="2081.2" y="314.6" dy="2.3" transform="rotate(-10.9 2081.2 314.6)">WBDC 315</text><text x="2081" y="313.7" dy="2.3" transform="rotate(-11.4 2081 313.7)">WBDC 292</text><text x="2080" y="313" dy="2.3" transform="rotate(-12 2080 313)">WBDC 076</text><text x="2079.8" y="312.2" dy="2.3" transform="rotate(-12.5 2079.8 312.2)">WBDC 095</text><text x="2079.6" y="311.3" dy="2.3" transform="rotate(-13.1 2079.6 311.3)">WBDC 105</text><text x="2079.4" y="310.5" dy="2.3" transform="rotate(-13.6 2079.4 310.5)">WBDC 081</text><text x="2079.2" y="309.6" dy="2.3" transform="rotate(-14.2 2079.2 309.6)">WBDC 345</text><text x="2079" y="308.8" dy="2.3" transform="rotate(-14.7 2079 308.8)">WBDC 297</text><text x="2078.8" y="307.9" dy="2.3" transform="rotate(-15.3 2078.8 307.9)">WBDC 069</text><text x="2079.3" y="306.9" dy="2.3" transform="rotate(-15.8 2079.3 306.9)">WBDC 237</text><text x="2078.3" y="306.2" dy="2.3" transform="rotate(-16.4 2078.3 306.2)">WBDC 050</text><text x="2078.1" y="305.4" dy="2.3" transform="rotate(-16.9 2078.1 305.4)">WBDC 201</text><text x="2077.8" y="304.6" dy="2.3" transform="rotate(-17.5 2077.8 304.6)">WBDC 219</text><text x="2078.3" y="303.5" dy="2.3" transform="rotate(-18 2078.3 303.5)">WBDC 182</text><text x="2077.3" y="302.9" dy="2.3" transform="rotate(-18.6 2077.3 302.9)">WBDC 108</text><text x="2077.7" y="301.8" dy="2.3" transform="rotate(-19.1 2077.7 301.8)">WBDC 192</text><text x="2076.7" y="301.3" dy="2.3" transform="rotate(-19.7 2076.7 301.3)">WBDC 325</text><text x="2077.1" y="300.2" dy="2.3" transform="rotate(-20.2 2077.1 300.2)">WBDC 021</text><text x="2076.1" y="299.6" dy="2.3" transform="rotate(-20.8 2076.1 299.6)">WBDC 093</text><text x="2075.8" y="298.8" dy="2.3" transform="rotate(-21.3 2075.8 298.8)">WBDC 233</text><text x="2075.4" y="298" dy="2.3" transform="rotate(-21.9 2075.4 298)">WBDC 190</text><text x="2075.1" y="297.2" dy="2.3" transform="rotate(-22.4 2075.1 297.2)">WBDC 100</text><text x="2075.5" y="296.1" dy="2.3" transform="rotate(-23 2075.5 296.1)">WBDC 085</text><text x="2074.4" y="295.6" dy="2.3" transform="rotate(-23.5 2074.4 295.6)">WBDC 263</text><text x="2074.1" y="294.8" dy="2.3" transform="rotate(-24.1 2074.1 294.8)">WBDC 166</text><text x="2073.7" y="294" dy="2.3" transform="rotate(-24.6 2073.7 294)">WBDC 323</text><text x="2073.3" y="293.2" dy="2.3" transform="rotate(-25.2 2073.3 293.2)">WBDC 292</text><text x="2073.7" y="292" dy="2.3" transform="rotate(-25.7 2073.7 292)">WBDC 098</text><text x="2073.3" y="291.2" dy="2.3" transform="rotate(-26.3 2073.3 291.2)">WBDC 300</text><text x="2072.2" y="290.8" dy="2.3" transform="rotate(-26.8 2072.2 290.8)">WBDC 133</text><text x="2071.8" y="290" dy="2.3" transform="rotate(-27.4 2071.8 290)">WBDC 060</text><text x="2072.1" y="288.9" dy="2.3" transform="rotate(-27.9 2072.1 288.9)">WBDC 082</text><text x="2071" y="288.5" dy="2.3" transform="rotate(-28.5 2071 288.5)">WBDC 069</text><text x="2070.6" y="287.7" dy="2.3" transform="rotate(-29 2070.6 287.7)">WBDC 276</text><text x="2070.8" y="286.6" dy="2.3" transform="rotate(-29.6 2070.8 286.6)">WBDC 190</text><text x="2069.7" y="286.2" dy="2.3" transform="rotate(-30.1 2069.7 286.2)">WBDC 093</text><text x="2069.3" y="285.4" dy="2.3" transform="rotate(-30.7 2069.3 285.4)">WBDC 106</text><text x="2069.5" y="284.3" dy="2.3" transform="rotate(-31.2 2069.5 284.3)">WBDC 095</text><text x="2068.3" y="284" dy="2.3" transform="rotate(-31.8 2068.3 284)">WBDC 175</text><text x="2067.9" y="283.2" dy="2.3" transform="rotate(-32.3 2067.9 283.2)">WBDC 241</text><text x="2067.4" y="282.5" dy="2.3" transform="rotate(-32.9 2067.4 282.5)">WBDC 006</text><text x="2066.9" y="281.7" dy="2.3" transform="rotate(-33.4 2066.9 281.7)">WBDC 328</text><text x="2067.1" y="280.6" dy="2.3" transform="rotate(-34 2067.1 280.6)">WBDC 026</text><text x="2056.4" y="276" dy="2.3" transform="rotate(-40.5 2056.4 276)">WBDC 295</text><text x="2055.6" y="275.1" dy="2.3" transform="rotate(-41.3 2055.6 275.1)">WBDC 012</text><text x="2054.8" y="274.2" dy="2.3" transform="rotate(-42.1 2054.8 274.2)">WBDC 059</text><text x="2048.4" y="273.3" dy="2.3" transform="rotate(-45.6 2048.4 273.3)">WBDC 228</text><text x="2047.5" y="272.5" dy="2.3" transform="rotate(-46.4 2047.5 272.5)">WBDC 259</text><text x="2045.3" y="273.2" dy="2.3" transform="rotate(-47.3 2045.3 273.2)">WBDC 101</text><text x="2045.8" y="270.9" dy="2.3" transform="rotate(-48.1 2045.8 270.9)">WBDC 006</text><text x="2043.6" y="271.6" dy="2.3" transform="rotate(-48.9 2043.6 271.6)">WBDC 133</text><text x="2044" y="269.3" dy="2.3" transform="rotate(-49.7 2044 269.3)">WBDC 142</text><text x="2043.1" y="268.6" dy="2.3" transform="rotate(-50.6 2043.1 268.6)">WBDC 282</text><text x="2042.2" y="267.8" dy="2.3" transform="rotate(-51.4 2042.2 267.8)">WBDC 267</text><text x="2040" y="268.7" dy="2.3" transform="rotate(-52.2 2040 268.7)">WBDC 327</text><text x="2040.3" y="266.4" dy="2.3" transform="rotate(-53 2040.3 266.4)">WBDC 331</text><text x="2038.2" y="267.3" dy="2.3" transform="rotate(-53.9 2038.2 267.3)">WBDC 282</text><text x="2037.2" y="266.6" dy="2.3" transform="rotate(-54.7 2037.2 266.6)">WBDC 198</text><text x="2036.3" y="266" dy="2.3" transform="rotate(-55.5 2036.3 266)">WBDC 198</text><text x="2036.4" y="263.6" dy="2.3" transform="rotate(-56.3 2036.4 263.6)">WBDC 087</text><text x="2035.5" y="263" dy="2.3" transform="rotate(-57.2 2035.5 263)">WBDC 278</text><text x="2033.4" y="264.1" dy="2.3" transform="rotate(-58 2033.4 264.1)">WBDC 220</text><text x="2020.9" y="262" dy="2.3" transform="rotate(-66.8 2020.9 262)">FT748</text><text x="2067.4" y="341.3" dy="2.3" transform="rotate(7 2067.4 341.3)">WBDC 216</text><text x="2067.3" y="342.4" dy="2.3" transform="rotate(7.8 2067.3 342.4)">WBDC 270</text><text x="2067.1" y="343.5" dy="2.3" transform="rotate(8.7 2067.1 343.5)">WBDC 307</text><text x="2066.9" y="344.6" dy="2.3" transform="rotate(9.5 2066.9 344.6)">WBDC 188</text><text x="2068.7" y="346.1" dy="2.3" transform="rotate(10.4 2068.7 346.1)">WBDC 147</text><text x="2066.5" y="346.8" dy="2.3" transform="rotate(11.2 2066.5 346.8)">WBDC 336</text><text x="2066.3" y="348" dy="2.3" transform="rotate(12 2066.3 348)">WBDC 288</text><text x="2066.1" y="349.1" dy="2.3" transform="rotate(12.9 2066.1 349.1)">WBDC 340</text><text x="2067.7" y="350.6" dy="2.3" transform="rotate(13.7 2067.7 350.6)">WBDC 152</text><text x="2065.5" y="351.2" dy="2.3" transform="rotate(14.5 2065.5 351.2)">WBDC 008</text><text x="2065.2" y="352.3" dy="2.3" transform="rotate(15.4 2065.2 352.3)">WBDC 300</text><text x="2064.9" y="353.4" dy="2.3" transform="rotate(16.2 2064.9 353.4)">WBDC 325</text><text x="2064.6" y="354.5" dy="2.3" transform="rotate(17.1 2064.6 354.5)">WBDC 210</text><text x="2066.2" y="356.2" dy="2.3" transform="rotate(17.9 2066.2 356.2)">WBDC 200</text><text x="2063.9" y="356.6" dy="2.3" transform="rotate(18.7 2063.9 356.6)">WBDC 162</text><text x="1978.6" y="425.6" dy="2.3" text-anchor="end" transform="rotate(-62.5 1978.6 425.6)">WBDC 066</text><text x="1980" y="424.6" dy="2.3" text-anchor="end" transform="rotate(-63.4 1980 424.6)">WBDC 247</text><text x="1980.7" y="425" dy="2.3" text-anchor="end" transform="rotate(-64.3 1980.7 425)">WBDC 258</text><text x="1981.4" y="425.3" dy="2.3" text-anchor="end" transform="rotate(-65.2 1981.4 425.3)">WBDC 260</text><text x="1981.5" y="427" dy="2.3" text-anchor="end" transform="rotate(-66.1 1981.5 427)">WBDC 184</text><text x="1982.9" y="425.9" dy="2.3" text-anchor="end" transform="rotate(-67 1982.9 425.9)">WBDC 140</text><text x="1983" y="427.6" dy="2.3" text-anchor="end" transform="rotate(-67.9 1983 427.6)">WBDC 351</text><text x="1983.8" y="427.9" dy="2.3" text-anchor="end" transform="rotate(-68.8 1983.8 427.9)">WBDC 290</text><text x="1984.5" y="428.2" dy="2.3" text-anchor="end" transform="rotate(-69.7 1984.5 428.2)">WBDC 303</text><text x="1985.8" y="427.1" dy="2.3" text-anchor="end" transform="rotate(-70.6 1985.8 427.1)">WBDC 325</text><text x="1986.5" y="427.3" dy="2.3" text-anchor="end" transform="rotate(-71.5 1986.5 427.3)">WBDC 123</text><text x="1987.3" y="427.6" dy="2.3" text-anchor="end" transform="rotate(-72.4 1987.3 427.6)">WBDC 128</text><text x="1987.6" y="429.2" dy="2.3" text-anchor="end" transform="rotate(-73.3 1987.6 429.2)">WBDC 335</text><text x="1988.8" y="428" dy="2.3" text-anchor="end" transform="rotate(-74.2 1988.8 428)">WBDC 350</text><text x="1989.5" y="428.2" dy="2.3" text-anchor="end" transform="rotate(-75.1 1989.5 428.2)">WBDC 322</text><text x="1990.3" y="428.4" dy="2.3" text-anchor="end" transform="rotate(-76 1990.3 428.4)">WBDC 005</text><text x="1991.1" y="428.6" dy="2.3" text-anchor="end" transform="rotate(-76.9 1991.1 428.6)">WBDC 133</text><text x="1991.8" y="428.8" dy="2.3" text-anchor="end" transform="rotate(-77.8 1991.8 428.8)">WBDC 014</text><text x="1992.3" y="430.4" dy="2.3" text-anchor="end" transform="rotate(-78.7 1992.3 430.4)">WBDC 020</text><text x="1993.4" y="429.1" dy="2.3" text-anchor="end" transform="rotate(-79.6 1993.4 429.1)">WBDC 114</text><text x="1993.9" y="430.7" dy="2.3" text-anchor="end" transform="rotate(-80.5 1993.9 430.7)">WBDC 143</text><text x="1994.9" y="429.3" dy="2.3" text-anchor="end" transform="rotate(-81.4 1994.9 429.3)">WBDC 045</text><text x="1995.5" y="430.9" dy="2.3" text-anchor="end" transform="rotate(-82.3 1995.5 430.9)">WBDC 083</text><text x="1996.3" y="431" dy="2.3" text-anchor="end" transform="rotate(-83.2 1996.3 431)">WBDC 121</text><text x="1997.1" y="431.1" dy="2.3" text-anchor="end" transform="rotate(-84.1 1997.1 431.1)">WBDC 192</text><text x="1998" y="429.7" dy="2.3" text-anchor="end" transform="rotate(-85 1998 429.7)">WBDC 246</text><text x="1998.8" y="429.8" dy="2.3" text-anchor="end" transform="rotate(-85.9 1998.8 429.8)">WBDC 108</text><text x="1999.6" y="429.8" dy="2.3" text-anchor="end" transform="rotate(-86.8 1999.6 429.8)">WBDC 176</text><text x="2000.4" y="429.9" dy="2.3" text-anchor="end" transform="rotate(-87.7 2000.4 429.9)">WBDC 069</text><text x="2001.2" y="429.9" dy="2.3" text-anchor="end" transform="rotate(-88.6 2001.2 429.9)">WBDC 062</text><text x="2002" y="429.9" dy="2.3" text-anchor="end" transform="rotate(-89.5 2002 429.9)">WBDC 320</text><text x="2002.7" y="429.9" dy="2.3" transform="rotate(-270.4 2002.7 429.9)">WBDC 228</text><text x="2003.5" y="429.9" dy="2.3" transform="rotate(-271.3 2003.5 429.9)">WBDC 133</text><text x="2004.3" y="429.9" dy="2.3" transform="rotate(-272.2 2004.3 429.9)">WBDC 078</text><text x="2005.1" y="429.8" dy="2.3" transform="rotate(-273.1 2005.1 429.8)">WBDC 079</text><text x="2006" y="431.3" dy="2.3" transform="rotate(-274 2006 431.3)">WBDC 306</text><text x="2006.7" y="429.7" dy="2.3" transform="rotate(-274.9 2006.7 429.7)">WBDC 149</text><text x="2007.6" y="431.1" dy="2.3" transform="rotate(-275.8 2007.6 431.1)">WBDC 095</text><text x="2008.2" y="429.6" dy="2.3" transform="rotate(-276.7 2008.2 429.6)">WBDC 335</text><text x="2009" y="429.5" dy="2.3" transform="rotate(-277.6 2009 429.5)">WBDC 298</text><text x="2009.8" y="429.4" dy="2.3" transform="rotate(-278.5 2009.8 429.4)">WBDC 237</text><text x="2010.6" y="429.2" dy="2.3" transform="rotate(-279.4 2010.6 429.2)">WBDC 041</text><text x="2011.6" y="430.6" dy="2.3" transform="rotate(-280.3 2011.6 430.6)">WBDC 043</text><text x="2012.1" y="428.9" dy="2.3" transform="rotate(-281.2 2012.1 428.9)">WBDC 289</text><text x="2013.2" y="430.3" dy="2.3" transform="rotate(-282.1 2013.2 430.3)">WBDC 249</text><text x="2014" y="430.1" dy="2.3" transform="rotate(-283 2014 430.1)">WBDC 238</text><text x="2014.4" y="428.4" dy="2.3" transform="rotate(-283.9 2014.4 428.4)">WBDC 005</text><text x="2015.2" y="428.2" dy="2.3" transform="rotate(-284.8 2015.2 428.2)">WBDC 159</text><text x="2015.9" y="428" dy="2.3" transform="rotate(-285.7 2015.9 428)">WBDC 339</text><text x="2017.1" y="429.3" dy="2.3" transform="rotate(-286.6 2017.1 429.3)">WBDC 042</text><text x="2017.9" y="429" dy="2.3" transform="rotate(-287.5 2017.9 429)">WBDC 156</text><text x="2018.2" y="427.3" dy="2.3" transform="rotate(-288.4 2018.2 427.3)">WBDC 168</text><text x="2018.9" y="427.1" dy="2.3" transform="rotate(-289.3 2018.9 427.1)">WBDC 074</text><text x="2019.7" y="426.8" dy="2.3" transform="rotate(-290.2 2019.7 426.8)">WBDC 184</text><text x="2020.9" y="427.9" dy="2.3" transform="rotate(-291.1 2020.9 427.9)">WBDC 168</text><text x="2021.1" y="426.3" dy="2.3" transform="rotate(-292 2021.1 426.3)">WBDC 061</text><text x="2021.9" y="426" dy="2.3" transform="rotate(-292.9 2021.9 426)">WBDC 226</text><text x="2023.2" y="427" dy="2.3" transform="rotate(-293.8 2023.2 427)">WBDC 305</text><text x="2023.9" y="426.7" dy="2.3" transform="rotate(-294.7 2023.9 426.7)">WBDC 143</text><text x="2024" y="425" dy="2.3" transform="rotate(-295.6 2024 425)">WBDC 272</text><text x="2024.7" y="424.6" dy="2.3" transform="rotate(-296.5 2024.7 424.6)">WBDC 235</text><text x="2025.4" y="424.3" dy="2.3" transform="rotate(-297.4 2025.4 424.3)">WBDC 114</text><text x="2026.1" y="423.9" dy="2.3" transform="rotate(-298.3 2026.1 423.9)">WBDC 265</text><text x="2026.8" y="423.5" dy="2.3" transform="rotate(-299.2 2026.8 423.5)">WBDC 044</text><text x="2027.5" y="423.2" dy="2.3" transform="rotate(-300.1 2027.5 423.2)">WBDC 188</text><text x="2028.2" y="422.8" dy="2.3" transform="rotate(-301 2028.2 422.8)">WBDC 187</text><text x="2029.6" y="423.6" dy="2.3" transform="rotate(-301.9 2029.6 423.6)">WBDC 203</text><text x="2030.3" y="423.2" dy="2.3" transform="rotate(-302.8 2030.3 423.2)">WBDC 199</text><text x="2030.1" y="421.5" dy="2.3" transform="rotate(-303.7 2030.1 421.5)">WBDC 289</text><text x="2030.8" y="421.1" dy="2.3" transform="rotate(-304.6 2030.8 421.1)">WBDC 200</text><text x="2032.3" y="421.8" dy="2.3" transform="rotate(-305.5 2032.3 421.8)">WBDC 080</text><text x="2033" y="421.4" dy="2.3" transform="rotate(-306.4 2033 421.4)">WBDC 289</text><text x="2032.7" y="419.7" dy="2.3" transform="rotate(-307.3 2032.7 419.7)">WBDC 091</text><text x="2033.3" y="419.2" dy="2.3" transform="rotate(-308.2 2033.3 419.2)">WBDC 233</text><text x="2033.9" y="418.7" dy="2.3" transform="rotate(-309.1 2033.9 418.7)">WBDC 012</text><text x="2034.5" y="418.2" dy="2.3" transform="rotate(-310 2034.5 418.2)">WBDC 265</text><text x="2035.1" y="417.7" dy="2.3" transform="rotate(-310.9 2035.1 417.7)">WBDC 279</text><text x="2035.7" y="417.2" dy="2.3" transform="rotate(-311.8 2035.7 417.2)">WBDC 291</text><text x="2036.3" y="416.6" dy="2.3" transform="rotate(-312.7 2036.3 416.6)">WBDC 012</text><text x="2037.9" y="417.2" dy="2.3" transform="rotate(-313.6 2037.9 417.2)">WBDC 217</text><text x="2037.4" y="415.6" dy="2.3" transform="rotate(-314.5 2037.4 415.6)">WBDC 298</text><text x="2048.3" y="417" dy="2.3" transform="rotate(-321 2048.3 417)">WBDC 157</text><text x="2048.8" y="416.3" dy="2.3" transform="rotate(-321.9 2048.8 416.3)">WBDC 044</text><text x="2047.8" y="414.3" dy="2.3" transform="rotate(-322.8 2047.8 414.3)">WBDC 042</text><text x="2048.4" y="413.6" dy="2.3" transform="rotate(-323.7 2048.4 413.6)">WBDC 054</text><text x="2048.9" y="412.9" dy="2.3" transform="rotate(-324.6 2048.9 412.9)">WBDC 044</text><text x="2049.4" y="412.1" dy="2.3" transform="rotate(-325.6 2049.4 412.1)">WBDC 325</text><text x="2051.6" y="412.5" dy="2.3" transform="rotate(-326.5 2051.6 412.5)">WBDC 074</text><text x="2050.4" y="410.6" dy="2.3" transform="rotate(-327.4 2050.4 410.6)">WBDC 333</text><text x="2050.9" y="409.9" dy="2.3" transform="rotate(-328.3 2050.9 409.9)">WBDC 126</text><text x="2053.1" y="410.1" dy="2.3" transform="rotate(-329.2 2053.1 410.1)">WBDC 113</text><text x="2051.8" y="408.3" dy="2.3" transform="rotate(-330.1 2051.8 408.3)">WBDC 268</text><text x="2052.3" y="407.5" dy="2.3" transform="rotate(-331 2052.3 407.5)">WBDC 236</text><text x="2052.7" y="406.7" dy="2.3" transform="rotate(-331.9 2052.7 406.7)">WBDC 180</text><text x="2053.1" y="405.9" dy="2.3" transform="rotate(-332.9 2053.1 405.9)">WBDC 171</text><text x="2055.3" y="406" dy="2.3" transform="rotate(-333.8 2055.3 406)">WBDC 070</text><text x="2053.9" y="404.3" dy="2.3" transform="rotate(-334.7 2053.9 404.3)">WBDC 250</text><text x="2056.1" y="404.3" dy="2.3" transform="rotate(-335.6 2056.1 404.3)">WBDC 038</text><text x="2056.5" y="403.4" dy="2.3" transform="rotate(-336.5 2056.5 403.4)">WBDC 317</text><text x="2055" y="401.8" dy="2.3" transform="rotate(-337.4 2055 401.8)">WBDC 211</text><text x="2057.2" y="401.7" dy="2.3" transform="rotate(-338.3 2057.2 401.7)">WBDC 179</text><text x="2055.7" y="400.1" dy="2.3" transform="rotate(-339.2 2055.7 400.1)">WBDC 194</text><text x="2056" y="399.3" dy="2.3" transform="rotate(-340.1 2056 399.3)">WBDC 238</text><text x="2058.2" y="399.1" dy="2.3" transform="rotate(-341.1 2058.2 399.1)">WBDC 328</text><text x="2056.6" y="397.5" dy="2.3" transform="rotate(-342 2056.6 397.5)">WBDC 269</text><text x="2056.9" y="396.7" dy="2.3" transform="rotate(-342.9 2056.9 396.7)">WBDC 006</text><text x="2057.1" y="395.8" dy="2.3" transform="rotate(-343.8 2057.1 395.8)">WBDC 216</text><text x="2057.4" y="394.9" dy="2.3" transform="rotate(-344.7 2057.4 394.9)">WBDC 075</text><text x="2057.6" y="394.1" dy="2.3" transform="rotate(-345.6 2057.6 394.1)">WBDC 084</text><text x="2059.8" y="393.6" dy="2.3" transform="rotate(-346.5 2059.8 393.6)">WBDC 193</text><text x="2060" y="392.7" dy="2.3" transform="rotate(-347.4 2060 392.7)">WBDC 086</text><text x="2058.2" y="391.4" dy="2.3" transform="rotate(-348.4 2058.2 391.4)">WBDC 105</text><text x="2058.4" y="390.5" dy="2.3" transform="rotate(-349.3 2058.4 390.5)">WBDC 218</text><text x="2060.5" y="390" dy="2.3" transform="rotate(-350.2 2060.5 390)">WBDC 150</text><text x="2058.7" y="388.7" dy="2.3" transform="rotate(-351.1 2058.7 388.7)">WBDC 031</text><text x="2058.8" y="387.8" dy="2.3" transform="rotate(-352 2058.8 387.8)">WBDC 158</text></g>
<g fill="#f01818" font-size="6.8" stroke="#f01818" stroke-width="0.3"><text x="1323" y="76.4" dy="2.3" text-anchor="end" transform="rotate(54.9 1323 76.4)">HOR 8525</text><text x="1321.1" y="77.6" dy="2.3" text-anchor="end" transform="rotate(54.4 1321.1 77.6)">HOR 17806</text><text x="1319.2" y="78.8" dy="2.3" text-anchor="end" transform="rotate(53.9 1319.2 78.8)">HOR 10471</text><text x="1317.2" y="80" dy="2.3" text-anchor="end" transform="rotate(53.4 1317.2 80)">HOR 1974</text><text x="1315.3" y="81.2" dy="2.3" text-anchor="end" transform="rotate(52.9 1315.3 81.2)">HOR 3301</text><text x="1313.4" y="82.5" dy="2.3" text-anchor="end" transform="rotate(52.4 1313.4 82.5)">HOR 19453</text><text x="1311.5" y="83.7" dy="2.3" text-anchor="end" transform="rotate(51.9 1311.5 83.7)">HOR 4536</text><text x="1309.6" y="85" dy="2.3" text-anchor="end" transform="rotate(51.4 1309.6 85)">HOR 14120</text><text x="1307.7" y="86.3" dy="2.3" text-anchor="end" transform="rotate(50.9 1307.7 86.3)">HOR 4532</text><text x="1305.9" y="87.7" dy="2.3" text-anchor="end" transform="rotate(50.4 1305.9 87.7)">HOR 10532</text><text x="1304" y="89" dy="2.3" text-anchor="end" transform="rotate(49.9 1304 89)">HOR 13665</text><text x="1302.2" y="90.3" dy="2.3" text-anchor="end" transform="rotate(49.4 1302.2 90.3)">HOR 3189</text><text x="1300.3" y="91.7" dy="2.3" text-anchor="end" transform="rotate(48.9 1300.3 91.7)">HOR 1553</text><text x="1298.5" y="93.1" dy="2.3" text-anchor="end" transform="rotate(48.4 1298.5 93.1)">HOR 1017</text><text x="1294.7" y="92.3" dy="2.3" text-anchor="end" transform="rotate(47.9 1294.7 92.3)">HOR 2714</text><text x="1292.9" y="93.7" dy="2.3" text-anchor="end" transform="rotate(47.4 1292.9 93.7)">HOR 16400</text><text x="1291" y="95.2" dy="2.3" text-anchor="end" transform="rotate(46.9 1291 95.2)">HOR 13303</text><text x="1289.2" y="96.6" dy="2.3" text-anchor="end" transform="rotate(46.4 1289.2 96.6)">HOR 14022</text><text x="1287.5" y="98.1" dy="2.3" text-anchor="end" transform="rotate(45.9 1287.5 98.1)">HOR 14755</text><text x="1285.7" y="99.6" dy="2.3" text-anchor="end" transform="rotate(45.4 1285.7 99.6)">HOR 3393</text><text x="1283.9" y="101.2" dy="2.3" text-anchor="end" transform="rotate(44.9 1283.9 101.2)">HOR 19554</text><text x="1277" y="107.4" dy="2.3" text-anchor="end" transform="rotate(42.9 1277 107.4)">HOR 9073</text><text x="1275.3" y="109" dy="2.3" text-anchor="end" transform="rotate(42.4 1275.3 109)">HOR 4311</text><text x="1273.6" y="110.6" dy="2.3" text-anchor="end" transform="rotate(41.9 1273.6 110.6)">HOR 1358</text><text x="1271.9" y="112.3" dy="2.3" text-anchor="end" transform="rotate(41.4 1271.9 112.3)">HOR 2962</text><text x="1270.3" y="113.9" dy="2.3" text-anchor="end" transform="rotate(40.9 1270.3 113.9)">HOR 16235</text><text x="1268.6" y="115.6" dy="2.3" text-anchor="end" transform="rotate(40.4 1268.6 115.6)">HOR 16952</text><text x="1267" y="117.3" dy="2.3" text-anchor="end" transform="rotate(39.9 1267 117.3)">HOR 6822</text><text x="1265.4" y="119" dy="2.3" text-anchor="end" transform="rotate(39.4 1265.4 119)">HOR 19326</text><text x="1263.8" y="120.7" dy="2.3" text-anchor="end" transform="rotate(38.9 1263.8 120.7)">HOR 17674</text><text x="1262.2" y="122.4" dy="2.3" text-anchor="end" transform="rotate(38.4 1262.2 122.4)">HOR 7248</text><text x="1260.6" y="124.1" dy="2.3" text-anchor="end" transform="rotate(37.9 1260.6 124.1)">HOR 5291</text><text x="1259.1" y="125.9" dy="2.3" text-anchor="end" transform="rotate(37.4 1259.1 125.9)">HOR 14737</text><text x="1257.5" y="127.7" dy="2.3" text-anchor="end" transform="rotate(36.9 1257.5 127.7)">HOR 13574</text><text x="1256" y="129.4" dy="2.3" text-anchor="end" transform="rotate(36.4 1256 129.4)">HOR 4817</text><text x="1254.5" y="131.2" dy="2.3" text-anchor="end" transform="rotate(35.9 1254.5 131.2)">HOR 13938</text><text x="1253" y="133.1" dy="2.3" text-anchor="end" transform="rotate(35.4 1253 133.1)">HOR 14787</text><text x="1251.5" y="134.9" dy="2.3" text-anchor="end" transform="rotate(34.9 1251.5 134.9)">HOR 7975</text><text x="1250" y="136.7" dy="2.3" text-anchor="end" transform="rotate(34.4 1250 136.7)">HOR 1015</text><text x="1251" y="140.3" dy="2.3" text-anchor="end" transform="rotate(33.9 1251 140.3)">HOR 20422</text><text x="1249.6" y="142.1" dy="2.3" text-anchor="end" transform="rotate(33.4 1249.6 142.1)">HOR 10966</text><text x="1248.2" y="144" dy="2.3" text-anchor="end" transform="rotate(32.9 1248.2 144)">HOR 1643</text><text x="1246.8" y="145.8" dy="2.3" text-anchor="end" transform="rotate(32.4 1246.8 145.8)">HOR 7904</text><text x="1245.4" y="147.7" dy="2.3" text-anchor="end" transform="rotate(31.9 1245.4 147.7)">HOR 7137</text><text x="1244" y="149.6" dy="2.3" text-anchor="end" transform="rotate(31.4 1244 149.6)">HOR 13919</text><text x="1242.7" y="151.6" dy="2.3" text-anchor="end" transform="rotate(30.9 1242.7 151.6)">HOR 20726</text><text x="1241.5" y="153.5" dy="2.3" text-anchor="end" transform="rotate(30.4 1241.5 153.5)">HOR 19905</text><text x="1240.3" y="155.6" dy="2.3" text-anchor="end" transform="rotate(29.8 1240.3 155.6)">HOR 4287</text><text x="1239.1" y="157.6" dy="2.3" text-anchor="end" transform="rotate(29.3 1239.1 157.6)">HOR 2379</text><text x="1238" y="159.6" dy="2.3" text-anchor="end" transform="rotate(28.8 1238 159.6)">HOR 5795</text><text x="1234.2" y="160.3" dy="2.3" text-anchor="end" transform="rotate(28.3 1234.2 160.3)">HOR 9463</text><text x="1233.1" y="162.3" dy="2.3" text-anchor="end" transform="rotate(27.8 1233.1 162.3)">HOR 1313</text><text x="1232" y="164.4" dy="2.3" text-anchor="end" transform="rotate(27.3 1232 164.4)">HOR 20999</text><text x="1231" y="166.5" dy="2.3" text-anchor="end" transform="rotate(26.8 1231 166.5)">HOR 11779</text><text x="1229.9" y="168.7" dy="2.3" text-anchor="end" transform="rotate(26.3 1229.9 168.7)">HOR 10709</text><text x="1228.9" y="170.8" dy="2.3" text-anchor="end" transform="rotate(25.8 1228.9 170.8)">HOR 13654</text><text x="1227.8" y="172.9" dy="2.3" text-anchor="end" transform="rotate(25.3 1227.8 172.9)">HOR 3405</text><text x="1215.6" y="183.2" dy="2.3" text-anchor="end" transform="rotate(22.3 1215.6 183.2)">HOR 13651</text><text x="1214.7" y="185.5" dy="2.3" text-anchor="end" transform="rotate(21.8 1214.7 185.5)">HOR 6990</text><text x="1213.8" y="187.7" dy="2.3" text-anchor="end" transform="rotate(21.3 1213.8 187.7)">HOR 21553</text><text x="1212.9" y="190" dy="2.3" text-anchor="end" transform="rotate(20.8 1212.9 190)">HOR 6050</text><text x="1212.1" y="192.3" dy="2.3" text-anchor="end" transform="rotate(20.3 1212.1 192.3)">HOR 11184</text><text x="1206.3" y="220.8" dy="2.3" text-anchor="end" transform="rotate(14.3 1206.3 220.8)">HOR 3266</text><text x="1205.8" y="223.1" dy="2.3" text-anchor="end" transform="rotate(13.8 1205.8 223.1)">HOR 9820</text><text x="1205.2" y="225.4" dy="2.3" text-anchor="end" transform="rotate(13.3 1205.2 225.4)">HOR 14481</text><text x="1204.6" y="227.8" dy="2.3" text-anchor="end" transform="rotate(12.8 1204.6 227.8)">HOR 15604</text><text x="1204.1" y="230.1" dy="2.3" text-anchor="end" transform="rotate(12.3 1204.1 230.1)">HOR 9161</text><text x="1203.6" y="232.5" dy="2.3" text-anchor="end" transform="rotate(11.8 1203.6 232.5)">HOR 2981</text><text x="1203.1" y="234.8" dy="2.3" text-anchor="end" transform="rotate(11.3 1203.1 234.8)">HOR 2526</text><text x="1202.7" y="237.2" dy="2.3" text-anchor="end" transform="rotate(10.8 1202.7 237.2)">HOR 6775</text><text x="1202.2" y="239.5" dy="2.3" text-anchor="end" transform="rotate(10.3 1202.2 239.5)">HOR 10239</text><text x="1200.7" y="249" dy="2.3" text-anchor="end" transform="rotate(8.3 1200.7 249)">HOR 20329</text><text x="1204.3" y="251.9" dy="2.3" text-anchor="end" transform="rotate(7.8 1204.3 251.9)">HOR 16558</text><text x="1204" y="254.3" dy="2.3" text-anchor="end" transform="rotate(7.3 1204 254.3)">HOR 12713</text><text x="1203.7" y="256.6" dy="2.3" text-anchor="end" transform="rotate(6.8 1203.7 256.6)">HOR 11217</text><text x="1203.2" y="261.3" dy="2.3" text-anchor="end" transform="rotate(5.8 1203.2 261.3)">HOR 1696</text><text x="1203" y="263.7" dy="2.3" text-anchor="end" transform="rotate(5.3 1203 263.7)">HOR 20607</text><text x="1202.8" y="266" dy="2.3" text-anchor="end" transform="rotate(4.8 1202.8 266)">HOR 21846</text><text x="1202.6" y="268.4" dy="2.3" text-anchor="end" transform="rotate(4.3 1202.6 268.4)">HOR 3204</text><text x="1202.4" y="270.7" dy="2.3" text-anchor="end" transform="rotate(3.8 1202.4 270.7)">HOR 11192</text><text x="1202.3" y="273.1" dy="2.3" text-anchor="end" transform="rotate(3.3 1202.3 273.1)">HOR 11449</text><text x="1202.1" y="275.4" dy="2.3" text-anchor="end" transform="rotate(2.8 1202.1 275.4)">HOR 5476</text><text x="1202" y="277.8" dy="2.3" text-anchor="end" transform="rotate(2.3 1202 277.8)">HOR 3373</text><text x="1201.9" y="280.2" dy="2.3" text-anchor="end" transform="rotate(1.8 1201.9 280.2)">HOR 3466</text><text x="1201.9" y="282.5" dy="2.3" text-anchor="end" transform="rotate(1.3 1201.9 282.5)">HOR 15846</text><text x="1201.8" y="284.9" dy="2.3" text-anchor="end" transform="rotate(0.8 1201.8 284.9)">HOR 18894</text><text x="1197.8" y="287.2" dy="2.3" text-anchor="end" transform="rotate(0.3 1197.8 287.2)">HOR 2457</text><text x="1197.8" y="289.6" dy="2.3" text-anchor="end" transform="rotate(-0.2 1197.8 289.6)">HOR 5244</text><text x="1197.9" y="296.8" dy="2.3" text-anchor="end" transform="rotate(-1.7 1197.9 296.8)">HOR 3782</text><text x="1198" y="299.2" dy="2.3" text-anchor="end" transform="rotate(-2.2 1198 299.2)">HOR 16508</text><text x="1216.3" y="356" dy="2.3" text-anchor="end" transform="rotate(-7.4 1216.3 356)">HOR 21599</text><text x="1225.7" y="381" dy="2.3" text-anchor="end" transform="rotate(-12.1 1225.7 381)">HOR 3545</text><text x="1221.6" y="385.7" dy="2.3" text-anchor="end" transform="rotate(-12.8 1221.6 385.7)">HOR 14669</text><text x="1222.4" y="389.4" dy="2.3" text-anchor="end" transform="rotate(-13.4 1222.4 389.4)">HOR 1991</text><text x="1228.2" y="391.8" dy="2.3" text-anchor="end" transform="rotate(-14.1 1228.2 391.8)">HOR 17381</text><text x="1224.3" y="396.7" dy="2.3" text-anchor="end" transform="rotate(-14.8 1224.3 396.7)">HOR 19769</text><text x="1225.3" y="400.3" dy="2.3" text-anchor="end" transform="rotate(-15.5 1225.3 400.3)">HOR 1476</text><text x="1231.1" y="402.6" dy="2.3" text-anchor="end" transform="rotate(-16.2 1231.1 402.6)">HOR 21478</text><text x="1227.4" y="407.6" dy="2.3" text-anchor="end" transform="rotate(-16.8 1227.4 407.6)">HOR 13528</text><text x="1228.5" y="411.2" dy="2.3" text-anchor="end" transform="rotate(-17.5 1228.5 411.2)">HOR 13424</text><text x="1234.4" y="413.2" dy="2.3" text-anchor="end" transform="rotate(-18.2 1234.4 413.2)">HOR 20093</text><text x="1230.8" y="418.3" dy="2.3" text-anchor="end" transform="rotate(-18.9 1230.8 418.3)">HOR 1407</text><text x="1232.1" y="421.9" dy="2.3" text-anchor="end" transform="rotate(-19.5 1232.1 421.9)">HOR 20951</text><text x="1234.7" y="429" dy="2.3" text-anchor="end" transform="rotate(-20.9 1234.7 429)">HOR 3628</text><text x="1236" y="432.5" dy="2.3" text-anchor="end" transform="rotate(-21.6 1236 432.5)">HOR 3970</text><text x="1238.9" y="439.4" dy="2.3" text-anchor="end" transform="rotate(-22.9 1238.9 439.4)">HOR 4787</text><text x="1240.4" y="442.9" dy="2.3" text-anchor="end" transform="rotate(-23.6 1240.4 442.9)">HOR 9428</text><text x="1371.8" y="579" dy="2.3" text-anchor="end" transform="rotate(-58.6 1371.8 579)">HOR 10210</text><text x="1373.9" y="580.3" dy="2.3" text-anchor="end" transform="rotate(-59.1 1373.9 580.3)">HOR 19696</text><text x="2001.6" y="208.7" dy="2.3" transform="rotate(-67.2 2001.6 208.7)">HOR 4054</text><text x="2001.3" y="207" dy="2.3" transform="rotate(-68.1 2001.3 207)">HOR 6464</text><text x="1999.9" y="208.1" dy="2.3" transform="rotate(-69 1999.9 208.1)">HOR 18652</text><text x="1999.1" y="207.7" dy="2.3" transform="rotate(-69.8 1999.1 207.7)">HOR 14558</text><text x="1998.2" y="207.4" dy="2.3" transform="rotate(-70.7 1998.2 207.4)">HOR 9821</text><text x="1997.3" y="207.1" dy="2.3" transform="rotate(-71.5 1997.3 207.1)">HOR 16504</text><text x="1996.5" y="206.9" dy="2.3" transform="rotate(-72.4 1996.5 206.9)">HOR 5160</text><text x="1995.6" y="206.6" dy="2.3" transform="rotate(-73.2 1995.6 206.6)">HOR 15210</text><text x="1994.7" y="206.3" dy="2.3" transform="rotate(-74.1 1994.7 206.3)">HOR 18202</text><text x="1993.9" y="206.1" dy="2.3" transform="rotate(-74.9 1993.9 206.1)">HOR 4559</text><text x="1993" y="205.9" dy="2.3" transform="rotate(-75.8 1993 205.9)">HOR 14747</text><text x="1992.4" y="204.2" dy="2.3" transform="rotate(-76.6 1992.4 204.2)">HOR 1963</text><text x="1991.2" y="205.4" dy="2.3" transform="rotate(-77.5 1991.2 205.4)">HOR 5242</text><text x="1990.6" y="203.8" dy="2.3" transform="rotate(-78.4 1990.6 203.8)">HOR 1746</text><text x="1989.4" y="205.1" dy="2.3" transform="rotate(-79.2 1989.4 205.1)">HOR 7360</text><text x="1986.7" y="204.6" dy="2.3" transform="rotate(-81.8 1986.7 204.6)">HOR 11553</text><text x="1986" y="203" dy="2.3" transform="rotate(-82.6 1986 203)">HOR 12644</text><text x="1984.9" y="204.4" dy="2.3" transform="rotate(-83.5 1984.9 204.4)">HOR 21308</text><text x="1984" y="204.3" dy="2.3" transform="rotate(-84.3 1984 204.3)">HOR 4436</text><text x="1983.1" y="204.2" dy="2.3" transform="rotate(-85.2 1983.1 204.2)">HOR 20078</text><text x="1982.2" y="204.1" dy="2.3" transform="rotate(-86 1982.2 204.1)">HOR 17727</text><text x="1981.4" y="202.6" dy="2.3" transform="rotate(-86.9 1981.4 202.6)">HOR 9210</text><text x="1980.5" y="202.5" dy="2.3" transform="rotate(-87.8 1980.5 202.5)">HOR 7479</text><text x="1979.5" y="202.5" dy="2.3" transform="rotate(-88.6 1979.5 202.5)">HOR 18378</text><text x="1978.6" y="204" dy="2.3" transform="rotate(-89.5 1978.6 204)">HOR 1761</text><text x="1977.7" y="204" dy="2.3" text-anchor="end" transform="rotate(89.7 1977.7 204)">HOR 21742</text><text x="1976.8" y="204" dy="2.3" text-anchor="end" transform="rotate(88.8 1976.8 204)">HOR 18345</text><text x="1975.8" y="202.5" dy="2.3" text-anchor="end" transform="rotate(88 1975.8 202.5)">HOR 6233</text><text x="1974.9" y="202.6" dy="2.3" text-anchor="end" transform="rotate(87.1 1974.9 202.6)">HOR 7693</text><text x="1973.9" y="202.6" dy="2.3" text-anchor="end" transform="rotate(86.3 1973.9 202.6)">HOR 18498</text><text x="2058.7" y="278.9" dy="2.3" transform="rotate(-38.1 2058.7 278.9)">HOR 7986</text><text x="2057.9" y="277.9" dy="2.3" transform="rotate(-38.9 2057.9 277.9)">HOR 4919</text><text x="2057.2" y="277" dy="2.3" transform="rotate(-39.7 2057.2 277)">HOR 13955</text><text x="2053.9" y="273.3" dy="2.3" transform="rotate(-43 2053.9 273.3)">HOR 21165</text><text x="2053.1" y="272.4" dy="2.3" transform="rotate(-43.8 2053.1 272.4)">HOR 4540</text><text x="2052.2" y="271.5" dy="2.3" transform="rotate(-44.6 2052.2 271.5)">HOR 8767</text><text x="2065.4" y="358.4" dy="2.3" transform="rotate(19.6 2065.4 358.4)">HOR 14034</text><text x="2063.2" y="358.8" dy="2.3" transform="rotate(20.4 2063.2 358.8)">HOR 20062</text><text x="2064.6" y="360.5" dy="2.3" transform="rotate(21.3 2064.6 360.5)">HOR 11460</text><text x="2062.3" y="360.9" dy="2.3" transform="rotate(22.1 2062.3 360.9)">HOR 8330</text><text x="2061.9" y="361.9" dy="2.3" transform="rotate(22.9 2061.9 361.9)">HOR 16650</text><text x="2061.5" y="362.9" dy="2.3" transform="rotate(23.8 2061.5 362.9)">HOR 8985</text><text x="2061" y="364" dy="2.3" transform="rotate(24.6 2061 364)">HOR 18149</text><text x="2060.5" y="365" dy="2.3" transform="rotate(25.5 2060.5 365)">HOR 16346</text><text x="2060" y="366" dy="2.3" transform="rotate(26.3 2060 366)">HOR 9034</text><text x="2061.3" y="367.9" dy="2.3" transform="rotate(27.1 2061.3 367.9)">HOR 4771</text></g>
<g fill="#1010f0" font-size="6.8" stroke="#1010f0" stroke-width="0.3"><text x="1353.2" y="60.9" dy="2.3" text-anchor="end" transform="rotate(62.4 1353.2 60.9)">HOR 8629</text><text x="1351.2" y="61.8" dy="2.3" text-anchor="end" transform="rotate(61.9 1351.2 61.8)">HOR 17640</text><text x="1349.1" y="62.7" dy="2.3" text-anchor="end" transform="rotate(61.4 1349.1 62.7)">HOR 17774</text><text x="1347" y="63.7" dy="2.3" text-anchor="end" transform="rotate(60.9 1347 63.7)">HOR 8316</text><text x="1345" y="64.6" dy="2.3" text-anchor="end" transform="rotate(60.4 1345 64.6)">HOR 5646</text><text x="1343" y="65.6" dy="2.3" text-anchor="end" transform="rotate(59.9 1343 65.6)">HOR 7490</text><text x="1340.9" y="66.6" dy="2.3" text-anchor="end" transform="rotate(59.4 1340.9 66.6)">HOR 21170</text><text x="1338.9" y="67.6" dy="2.3" text-anchor="end" transform="rotate(58.9 1338.9 67.6)">HOR 18313</text><text x="1336.9" y="68.7" dy="2.3" text-anchor="end" transform="rotate(58.4 1336.9 68.7)">HOR 2168</text><text x="1334.9" y="69.7" dy="2.3" text-anchor="end" transform="rotate(57.9 1334.9 69.7)">HOR 1492</text><text x="1332.9" y="70.8" dy="2.3" text-anchor="end" transform="rotate(57.4 1332.9 70.8)">HOR 11691</text><text x="1330.9" y="71.9" dy="2.3" text-anchor="end" transform="rotate(56.9 1330.9 71.9)">HOR 4828</text><text x="1328.9" y="73" dy="2.3" text-anchor="end" transform="rotate(56.4 1328.9 73)">HOR 17376</text><text x="1327" y="74.1" dy="2.3" text-anchor="end" transform="rotate(55.9 1327 74.1)">HOR 5557</text><text x="1325" y="75.3" dy="2.3" text-anchor="end" transform="rotate(55.4 1325 75.3)">HOR 5161</text><text x="1282.2" y="102.7" dy="2.3" text-anchor="end" transform="rotate(44.4 1282.2 102.7)">HOR 4252</text><text x="1280.4" y="104.2" dy="2.3" text-anchor="end" transform="rotate(43.9 1280.4 104.2)">HOR 2427</text><text x="1278.7" y="105.8" dy="2.3" text-anchor="end" transform="rotate(43.4 1278.7 105.8)">HOR 1248</text><text x="1226.8" y="175.1" dy="2.3" text-anchor="end" transform="rotate(24.8 1226.8 175.1)">Morex</text><text x="1225.8" y="177.2" dy="2.3" text-anchor="end" transform="rotate(24.3 1225.8 177.2)">HOR 3434</text><text x="1224.9" y="179.4" dy="2.3" text-anchor="end" transform="rotate(23.8 1224.9 179.4)">HOR 20095</text><text x="1217.5" y="178.8" dy="2.3" text-anchor="end" transform="rotate(23.3 1217.5 178.8)">HOR 13179</text><text x="1216.6" y="181" dy="2.3" text-anchor="end" transform="rotate(22.8 1216.6 181)">HOR 20243</text><text x="1211.3" y="194.5" dy="2.3" text-anchor="end" transform="rotate(19.8 1211.3 194.5)">HOR 8483</text><text x="1210.4" y="196.8" dy="2.3" text-anchor="end" transform="rotate(19.3 1210.4 196.8)">HOR 4220</text><text x="1209.7" y="199.1" dy="2.3" text-anchor="end" transform="rotate(18.8 1209.7 199.1)">HOR 2286</text><text x="1208.9" y="201.4" dy="2.3" text-anchor="end" transform="rotate(18.3 1208.9 201.4)">HOR 2553</text><text x="1208.1" y="203.7" dy="2.3" text-anchor="end" transform="rotate(17.8 1208.1 203.7)">HOR 9394</text><text x="1207.4" y="206" dy="2.3" text-anchor="end" transform="rotate(17.3 1207.4 206)">HOR 7416</text><text x="1206.7" y="208.4" dy="2.3" text-anchor="end" transform="rotate(16.8 1206.7 208.4)">HOR 9044</text><text x="1206" y="210.7" dy="2.3" text-anchor="end" transform="rotate(16.3 1206 210.7)">HOR 18041</text><text x="1205.3" y="213" dy="2.3" text-anchor="end" transform="rotate(15.8 1205.3 213)">HOR 4742</text><text x="1207.6" y="216.1" dy="2.3" text-anchor="end" transform="rotate(15.3 1207.6 216.1)">HOR 2214</text><text x="1206.9" y="218.5" dy="2.3" text-anchor="end" transform="rotate(14.8 1206.9 218.5)">HOR 7959</text><text x="1201.8" y="241.9" dy="2.3" text-anchor="end" transform="rotate(9.8 1201.8 241.9)">HOR 13084</text><text x="1201.4" y="244.3" dy="2.3" text-anchor="end" transform="rotate(9.3 1201.4 244.3)">HOR 4020</text><text x="1201" y="246.6" dy="2.3" text-anchor="end" transform="rotate(8.8 1201 246.6)">HOR 15756</text><text x="1220.4" y="348" dy="2.3" text-anchor="end" transform="rotate(-6 1220.4 348)">HOR 3474</text><text x="1215.9" y="352.3" dy="2.3" text-anchor="end" transform="rotate(-6.7 1215.9 352.3)">HOR 7385</text><text x="1221.8" y="359.1" dy="2.3" text-anchor="end" transform="rotate(-8 1221.8 359.1)">HOR 1168</text><text x="1217.4" y="363.5" dy="2.3" text-anchor="end" transform="rotate(-8.7 1217.4 363.5)">Igri</text><text x="1218" y="367.2" dy="2.3" text-anchor="end" transform="rotate(-9.4 1218 367.2)">RGT Planet</text><text x="1223.5" y="370.1" dy="2.3" text-anchor="end" transform="rotate(-10.1 1223.5 370.1)">Barke</text><text x="1219.3" y="374.6" dy="2.3" text-anchor="end" transform="rotate(-10.7 1219.3 374.6)">HOR 18942</text><text x="1220" y="378.3" dy="2.3" text-anchor="end" transform="rotate(-11.4 1220 378.3)">HOR 10350</text><text x="1376" y="581.5" dy="2.3" text-anchor="end" transform="rotate(-59.5 1376 581.5)">HOR 12606</text><text x="2013.9" y="209.6" dy="2.3" transform="rotate(-57 2013.9 209.6)">HOR 3832</text><text x="2013.9" y="207.8" dy="2.3" transform="rotate(-57.9 2013.9 207.8)">HOR 5603</text><text x="2013.1" y="207.3" dy="2.3" transform="rotate(-58.7 2013.1 207.3)">HOR 8211</text><text x="2012.2" y="206.8" dy="2.3" transform="rotate(-59.6 2012.2 206.8)">HOR 4627</text><text x="2011.3" y="206.3" dy="2.3" transform="rotate(-60.4 2011.3 206.3)">HOR 19309</text><text x="2010.4" y="205.8" dy="2.3" transform="rotate(-61.3 2010.4 205.8)">HOR 5202</text><text x="2009.6" y="205.3" dy="2.3" transform="rotate(-62.1 2009.6 205.3)">HOR 4411</text><text x="2008" y="206.2" dy="2.3" transform="rotate(-63 2008 206.2)">HOR 9588</text><text x="2007.8" y="204.4" dy="2.3" transform="rotate(-63.8 2007.8 204.4)">HOR 4292</text><text x="2006.9" y="204" dy="2.3" transform="rotate(-64.7 2006.9 204)">HOR 4744</text><text x="2005.9" y="203.6" dy="2.3" transform="rotate(-65.5 2005.9 203.6)">HOR 13354</text><text x="2005" y="203.1" dy="2.3" transform="rotate(-66.4 2005 203.1)">HOR 14126</text><text x="2061.6" y="282.8" dy="2.3" transform="rotate(-34.8 2061.6 282.8)">HOR 5472</text><text x="2060.9" y="281.8" dy="2.3" transform="rotate(-35.6 2060.9 281.8)">HOR 4539</text><text x="2060.2" y="280.8" dy="2.3" transform="rotate(-36.4 2060.2 280.8)">HOR 19663</text><text x="2059.5" y="279.8" dy="2.3" transform="rotate(-37.2 2059.5 279.8)">HOR 9432</text><text x="2059" y="368" dy="2.3" transform="rotate(28 2059 368)">HOR 7834</text><text x="2058.5" y="369" dy="2.3" transform="rotate(28.8 2058.5 369)">HOR 1852</text><text x="2059.7" y="371" dy="2.3" transform="rotate(29.6 2059.7 371)">HOR 3036</text><text x="2057.4" y="371" dy="2.3" transform="rotate(30.5 2057.4 371)">HOR 7831</text><text x="2058.5" y="373" dy="2.3" transform="rotate(31.3 2058.5 373)">Akashinriki</text><text x="2056.2" y="372.9" dy="2.3" transform="rotate(32.2 2056.2 372.9)">HOR 7873</text><text x="2057.3" y="374.9" dy="2.3" transform="rotate(33 2057.3 374.9)">HOR 3244</text></g>
<g fill="#7a1010" font-size="6.8" stroke="#7a1010" stroke-width="0.3"><text x="1197.8" y="292" dy="2.3" text-anchor="end" transform="rotate(-0.7 1197.8 292)">HOR 12194</text><text x="1197.9" y="294.4" dy="2.3" text-anchor="end" transform="rotate(-1.2 1197.9 294.4)">HOR 12528</text></g>
<line x1="1731.4" y1="312.4" x2="1660.5" y2="163.5" stroke="#8c8c8c" stroke-width="1.5" stroke-dasharray="5 7"/>
<line x1="1731.4" y1="312.4" x2="1763" y2="376.5" stroke="#0e7a0e" stroke-width="3"/>
<text x="1655.5" y="143.5" font-size="6.8" fill="#128a12" transform="rotate(64.5 1655.5 143.5)" style="fill:#128a12">FT292</text>
<path d="M1472.3 288.7 L1474 292 L1500 305 Q1518 311 1532.7 315.2 L1628.5 313.4 L1731.4 312.4 L1894.4 311.4 Q1930 313 1963.5 316.9 L1991 331.9" fill="none" stroke="#000" stroke-width="2.2" stroke-linecap="round" stroke-linejoin="round"/>
<path d="M1532.7 315.2 L1526 324 M1532.7 315.2 L1524 311" fill="none" stroke="#000" stroke-width="1.8" stroke-linecap="round" stroke-linejoin="round"/>
<path d="M1894.4 311.4 L1885.3 288.4" fill="none" stroke="#000" stroke-width="1.6" stroke-linecap="round" stroke-linejoin="round"/>
<path d="M1963.5 316.9 L1971 287 L1980.7 259.6 M1963.5 316.9 L1958.5 310.5 M1971 287 L1973.5 277" fill="none" stroke="#000" stroke-width="1.6" stroke-linecap="round" stroke-linejoin="round"/>
<path d="M1991 331.9 L2006 327 L2021.5 322.9 M2006 327 L2012 323.5 M1991 331.9 L1996.1 344.4 L2000.6 359.2 L2002.4 379.9 M2000.6 356.5 L2008.5 362 M1993 334.5 L1997 336" fill="none" stroke="#000" stroke-width="1.6" stroke-linecap="round" stroke-linejoin="round"/>
<path d="M1975.7 325 L1971.6 334 M1996 361.5 L1999 367 M1628.5 313.4 L1627 309 M1543 317 L1541 313.5 M1966 317 L1972 304" fill="none" stroke="#0e7a0e" stroke-width="1.4" stroke-linecap="round" stroke-linejoin="round"/>
<line x1="1583" y1="474.6" x2="1656" y2="474.6" stroke="#0e800e" stroke-width="4.2"/>
<text x="1665.5" y="482.8" font-size="30.9">wild</text>
<line x1="1583" y1="511.3" x2="1656" y2="511.3" stroke="#f01818" stroke-width="4.2"/>
<text x="1665.5" y="519.5" font-size="30.9">domesticated</text>
<line x1="1583" y1="548" x2="1656" y2="548" stroke="#1010e0" stroke-width="4.2"/>
<text x="1665.5" y="556.2" font-size="30.9">pangenome (domesticated)</text>
<text x="1148.6" y="310.5" font-size="34.5" text-anchor="middle" transform="rotate(-90 1148.6 310.5)">haplotype1</text>
<text x="2155.8" y="321.8" font-size="30.3" text-anchor="middle" transform="rotate(-90 2155.8 321.8)">haplotype2</text>
<text x="1102" y="116.3" font-size="30.6">MorexV3</text>
<path d="M1203.7 166 L1170.7 149.6 L1170.7 132" fill="none" stroke="#222" stroke-width="2.4" stroke-linejoin="miter"/><path d="M1170.7 121.5 L1176.7 134.5 L1164.7 134.5 Z" fill="#222"/>
</g>
<g id="panel-c">
<text x="-2" y="672.4" font-size="46" font-weight="bold">c</text>
<clipPath id="mapclip"><rect x="188.2" y="674.8" width="1978.4" height="622"/></clipPath>
<g clip-path="url(#mapclip)" stroke-linejoin="round" stroke-linecap="round">
<polygon points="183.2,687 189.9,686.5 201.5,692.3 213.1,698.1 219.7,700.6 227.2,705.6 234.6,713 241.3,720.5 246.2,724.6 251.2,728.7 259.5,732.1 260.3,737.8 256.2,746.1 255.3,757.7 256.2,769.3 252,779.2 251.2,785.9 253.7,790.8 251.2,793.3 253.7,799.1 259.5,804.1 267.7,807.4 272.7,814 275.2,820.6 279.3,827.3 283.5,833.9 286,840.5 294.2,847.1 301.7,853.7 305.8,857.1 304.8,855.6 313.9,854.8 314.8,858.9 310.6,859.7 303.2,858.9 301.5,861.4 306.5,864.7 310.6,871.3 313.1,878.8 315.6,882.6 320.6,881.3 322.7,877.1 325.5,882.9 334.6,882.6 342.9,880.9 351.2,881.6 359.5,878.8 366.1,882.1 372.7,885.4 381,889.5 387.6,892 386,894.5 379.3,894.8 376.9,898.6 369.4,895.3 359.5,891.2 349.5,887.9 341.3,884.9 337.1,885.4 333,889.5 323,891.2 320.6,897 314.8,902 319.7,907.7 321.4,912.7 329.7,919.3 333.8,925.1 333.8,930.1 330.5,935.9 331.3,940.9 336.3,947.5 341.3,952.5 343.7,945.8 346.2,941.7 349.5,942.5 353.7,948.3 357.8,952.5 361.1,964 366.1,952.5 371.1,950.8 376,954.1 381,960.7 385.1,965.7 383.5,957.4 382.6,947.5 379.3,937.5 374.4,927.6 371.1,919.3 375.2,916.9 381,921 386,926 394.2,923.5 398.4,921 394.2,916 387.6,914.4 388.4,909.4 383.5,902.8 389.3,900.3 399.2,897 405.8,901.1 412.5,907.7 417.4,911.9 417.7,904.4 416.6,894.5 414.9,886.2 409.1,881.6 404.2,881.3 401.7,875.5 394.2,869.7 386,864.4 377.7,861.1 366.1,859.7 375.2,858.4 381,855.6 379.3,852.3 375.2,846.5 377.7,841.5 383.5,840.7 387.6,844.8 386,849 388.4,850.6 391.8,847.3 390.1,839 382.6,829.9 377.7,823.3 374.7,820 373.7,815.7 368.7,809 366.3,800.8 367.9,792.5 370.4,788.3 377.8,785.9 377,790.8 382,795.8 390.3,799.9 393.6,802.4 395.2,809 400.2,813.2 404.3,814.8 403.5,810.7 398.5,806.6 397.7,801.6 402.7,799.9 406,797.5 407.6,804.1 411,809.9 415.1,812.7 416.4,807.4 413.4,800.8 411,795.8 413.4,792.5 420.1,795.8 425,799.9 428.3,805.7 427.5,799.9 423.4,795 416.8,791.7 411.8,787.5 406.8,780.9 411.8,779.2 420.1,777.6 428.3,771.8 435,769.3 444.9,771.8 453.2,767.6 461.5,769.3 474.7,772.6 460,771 469.9,772.6 479.9,774.3 488.1,779.2 490.6,784.2 501.4,784.2 514.6,783.5 512.2,788.3 517.1,789.2 526.2,784.2 534.5,777.6 539.5,769.3 546.1,766.8 559.3,765.2 566,764 575.9,766 585.8,768.5 592.5,766.8 594.9,762.7 596.6,767.6 600.7,772.6 609,776.3 623.9,778.4 609,780.1 597.4,782.5 589.1,785 586.7,788.3 592.5,790.8 594.9,793.3 582.5,794.1 567.6,794.1 559.3,795 550.2,796.6 537.8,796.6 532.8,792.5 526.2,791.7 516.3,794.1 507.2,802.4 498.9,810.7 493.9,812.7 492.3,817.3 492.3,823.9 490.6,832.2 499.7,831.4 509.7,830.6 518.8,830.6 517.9,833.9 513,840.5 516.3,847.1 517.1,857.1 515.3,869.2 518,877.5 527.7,878.9 518,881.6 511.1,880.2 509.7,885.8 516.6,894 524.9,899.5 531.8,900.9 530.4,910.6 526.3,916.1 531.8,925.8 541.5,932.7 537.3,938.2 531.8,940.9 549.8,940.9 566.3,940.9 560.8,949.2 566.3,952 577.4,952 591.1,957.5 596.7,968.5 610.5,975.4 621.5,978.2 632.5,974.1 646.3,968.5 649.1,954.7 654.6,949.2 665.7,947.8 680,950.6 680,952 688.3,954.7 702.1,963 713.1,978.2 726.9,982.3 749,978.2 771.1,968.5 784.9,954.7 795.9,950.6 812.5,957.5 826.2,958.9 833.1,952 842.8,946.5 848.3,952 845.6,963 834.5,971.3 838.7,985.1 837.3,990.5 835.9,1001.6 838.7,1018.1 837.3,1031.9 840,1044.3 834.5,1051.2 827.6,1062.3 820.7,1081.6 815.2,1095.4 808.3,1111.9 801.4,1128.5 795.9,1145 790.4,1161.6 783.5,1178.2 778,1186.4 771.1,1190.6 760,1196.1 740.7,1199.7 739.3,1197.5 721.4,1200.2 713.1,1194.7 706.2,1190.6 707.6,1197.5 700.7,1198.9 692.4,1190.6 696.6,1182.3 691,1180.9 680,1182.3 665.7,1176.8 649.1,1182.3 635.3,1190.6 618.7,1200.2 602.2,1209.9 593.9,1209.9 577.4,1201.6 560.8,1198.9 544.2,1194.7 527.7,1186.4 511.1,1182.3 497.3,1179.5 483.5,1176.8 472.5,1178.2 461.5,1180.4 457.3,1175.4 453.2,1164.4 447.7,1159.4 431.1,1159.4 420.1,1157.5 409,1151.9 392.5,1150.6 384.7,1146.4 384.2,1132.6 367.6,1125.7 353.8,1120.2 337.3,1119.7 323.5,1121.6 306.9,1127.1 293.1,1136.8 280.7,1147.8 273.8,1158.8 272.4,1172.6 276.6,1183.7 279.9,1197.5 275.2,1211.3 265.5,1223.7 254.5,1232 243.5,1236.1 232.4,1233.3 221.4,1225.1 210.4,1214 199.3,1207.1 187.7,1203.5 183.2,1203" fill="#87ceeb" stroke="#000" stroke-width="1.8"/>
<polyline points="514.6,784.2 506.4,791.7 497.3,802.4 493.9,808.7" fill="none" stroke="#000" stroke-width="2.5"/>
<polygon points="183.2,776 187.7,776.8 196.6,780.9 207.6,787.8 218.6,797.5 221.4,805.7 217.3,818.1 211.7,816.8 204.8,808.5 196.6,800.2 187.7,798.8 183.2,799" fill="#fff" stroke="#000" stroke-width="1.8"/>
<polygon points="554.4,674.1 553.5,691.5 547.7,694 540.3,703.1 546.1,707.2 551.1,714.7 556.9,722.9 558.5,731.2 562.6,739.5 569.3,746.1 579.2,751.1 590.8,756.1 596.6,758 609,759 625.6,760.2 638.8,759.4 647.1,761.9 656.2,764 667,763.5 674.4,762.7 678.5,755.2 686.8,750.3 696.8,744.5 710,736.2 724.9,730.4 738.1,725.4 748.1,722.9 760,723.8 776.6,724.3 795.9,724.3 805.6,721.6 809.7,724.3 812.5,731.2 823.5,738.1 834.5,737.3 842.8,739.5 848.3,747.8 856.6,754.7 867.6,751.9 878.7,758.8 895.2,763 911.8,768.5 928.3,770.4 944.9,765.7 961.5,763 975.3,767.6 989.1,769.3 1002.8,764.3 1016.6,757.4 1030.4,749.2 1038.7,743.6 1044.2,735.4 1045.6,725.7 1041.5,711.9 1037.3,695.4 1030.4,688.5 1019.4,681.6 1008.4,676 1000.1,673.3" fill="#87ceeb" stroke="#000" stroke-width="1.8"/>
<polyline points="595.8,757.7 594.1,764.3" fill="none" stroke="#000" stroke-width="3"/>
<polygon points="1247.6,673.3 1254.5,684.3 1262.8,698.1 1276.6,714.7 1290.4,731.2 1301.4,745 1308.3,758.8 1315.2,772.6 1326.2,783.7 1338.7,787.8 1345.6,791.9 1349.7,798.8 1337.3,797.5 1323.5,801.6 1318,808.5 1315.2,822.3 1312.5,836.1 1305.6,854 1300,849.9 1295.9,862.3 1297.3,880.2 1300,899.5 1305.6,912 1318,918.9 1334.5,921.6 1344.2,925.8 1351.1,936.8 1362.1,946.5 1378.7,954.7 1398,958.9 1414.5,958 1433.9,953.4 1453.2,949.2 1467,946.5 1468.4,949.2 1478,949.2 1476.6,929.9 1473.9,907.8 1472.5,885.8 1473.9,863.7 1469.7,849.9 1461.5,841.6 1451.8,840.2 1447.7,841.6 1449,830.6 1462.8,830.6 1458.7,815.4 1444.9,814 1442.1,819.5 1436.6,808.5 1433.9,794.7 1436.6,778.1 1440.8,765.7 1438,758.8 1429.7,745 1424.2,731.2 1424.2,714.7 1429.7,700.9 1428.3,689.8 1417.3,685.7 1406.3,684.3 1398,673.3" fill="#87ceeb" stroke="#000" stroke-width="1.8"/>
<polygon points="1438,758.8 1436.6,736.7 1442.1,724.3 1453.2,719.6 1471.1,718.8 1476.6,728.5 1482.2,743.6 1494.6,756.1 1504.2,765.7 1504.2,772.6 1491.8,773.2 1490.4,779.5 1475.3,782.3 1464.2,775.4 1453.2,776.8 1442.1,768.5" fill="#87ceeb" stroke="#000" stroke-width="1.8"/>
<polyline points="1444.3,851.3 1446.3,865.1" fill="none" stroke="#000" stroke-width="3"/>
<polygon points="1275.2,1299.6 1268.3,1276.1 1257.3,1273.4 1266.9,1263.7 1265.5,1248.5 1272.4,1245.8 1282.1,1248.5 1290.4,1245.8 1298.7,1243 1298.1,1229.2 1302.8,1225.6 1309.1,1227.3 1306.9,1230.6 1301.4,1230.6 1309.7,1237.5 1322.1,1245.8 1337.3,1238.3 1341.4,1245.8 1345.6,1256.8 1356.6,1269.2 1360.7,1277.5 1362.1,1285.8 1367.6,1288.5 1368.2,1299.6" fill="#87ceeb" stroke="#000" stroke-width="1.8"/>
<polygon points="1268.9,1246.6 1273.8,1248.5 1277.4,1256.8 1275.2,1263.1 1271.1,1263.1" fill="#fff" stroke="#000" stroke-width="1.5"/>
<polygon points="718.6,1248.5 713.1,1260.9 721.4,1277.5 725.5,1299.6 741.3,1299.6 735.2,1283 726.9,1266.5 721.4,1254" fill="#87ceeb" stroke="#000" stroke-width="1.6"/>
<polygon points="801.4,1269.2 792.6,1299.6 800.6,1299.6 804.7,1269.2" fill="#87ceeb" stroke="#000" stroke-width="1.6"/>
<polygon points="377.7,857.3 389.3,853.1 395.9,858.1 399.2,863 410.8,867.2 420.7,869.7 424,877.9 425.7,886.2 430.7,892.8 436.5,893.7 435.6,898.6 429.8,897.8 424,891.2 419.1,884.6 412.5,881.3 405.8,878.8 402.5,873.8 395.9,868.8 387.6,863 379.3,859.7" fill="#fff" stroke="#000" stroke-width="1.8"/>
<polygon points="400.8,1007.1 406.3,1001.6 409,1005.7 420.1,1002.9 422.8,1008.5 436.6,1012.6 453.2,1011.2 472.5,1014 483.5,1020.9 497.3,1015.4 497.9,1027.8 480.8,1029.2 467,1027.8 444.9,1031.9 436.6,1026.4 417.3,1019.5 403.5,1016.7" fill="#fff" stroke="#000" stroke-width="1.8"/>
<ellipse cx="528.2" cy="1002.1" rx="1.9" ry="8.8" fill="#fff" stroke="#000" stroke-width="1.8" transform="rotate(8 528.2 1002.1)"/>
<polygon points="710.4,1026.4 721.4,1022.3 731,1020.9 733.8,1012.6 746.2,1012.6 760,1011.2 773.8,1005.7 790.4,1000.2 776.6,1011.2 765.5,1018.1 771.1,1027.8 760,1030.5 749,1034.7 736.6,1044.3 733.8,1047.1 728.3,1042.9 714.5,1041.6 711.7,1034.7" fill="#fff" stroke="#000" stroke-width="1.8"/>
<polygon points="482.2,844.4 487.7,840.2 497.3,837.5 504.2,844.4 508.4,852.6 500.1,855.4 491.8,851.3 484.9,849.9" fill="#fff" stroke="#000" stroke-width="1.8"/>
<polyline points="491.3,849.3 497.3,845.7" fill="none" stroke="#000" stroke-width="3"/>
<polygon points="482.2,873.3 489.1,871.4 493.2,876.1 490.4,885.8 488.5,891.3 483.5,888.5 484.9,881.6" fill="#fff" stroke="#000" stroke-width="1.8"/>
<polygon points="500.1,872 505.6,871.4 508.4,880.2 515.3,885.8 509.7,889.9 501.5,885.8 497.3,883 502.3,878.9" fill="#fff" stroke="#000" stroke-width="1.8"/>
<polygon points="453.7,811.2 460.1,812.6 468.4,809.9 465.6,818.1 461.5,815.4 458.7,819.5 454.6,817.3" fill="#fff" stroke="#000" stroke-width="1.8"/>
<ellipse cx="439.4" cy="780.9" rx="4.7" ry="4.7" fill="#fff" stroke="#000" stroke-width="1.8" transform="rotate(0 439.4 780.9)"/>
<ellipse cx="471.9" cy="791.1" rx="4.1" ry="2.2" fill="#fff" stroke="#000" stroke-width="1.8" transform="rotate(25 471.9 791.1)"/>
<ellipse cx="480.8" cy="803.8" rx="5.5" ry="2.5" fill="#fff" stroke="#000" stroke-width="1.8" transform="rotate(-12 480.8 803.8)"/>
<ellipse cx="436.1" cy="859.8" rx="2.2" ry="4.4" fill="#fff" stroke="#000" stroke-width="1.8" transform="rotate(-25 436.1 859.8)"/>
<ellipse cx="404.9" cy="848.2" rx="2.5" ry="1.7" fill="#fff" stroke="#000" stroke-width="1.8" transform="rotate(30 404.9 848.2)"/>
<ellipse cx="413.2" cy="845.2" rx="2.8" ry="1.4" fill="#fff" stroke="#000" stroke-width="1.8" transform="rotate(-40 413.2 845.2)"/>
<ellipse cx="447.1" cy="904.5" rx="7.7" ry="1.9" fill="#fff" stroke="#000" stroke-width="1.8" transform="rotate(48 447.1 904.5)"/>
<ellipse cx="457.3" cy="915.6" rx="2.5" ry="1.7" fill="#fff" stroke="#000" stroke-width="1.8" transform="rotate(30 457.3 915.6)"/>
<ellipse cx="465.6" cy="921.9" rx="2.5" ry="1.9" fill="#fff" stroke="#000" stroke-width="1.8" transform="rotate(0 465.6 921.9)"/>
<ellipse cx="427.5" cy="915.3" rx="1.7" ry="3.3" fill="#fff" stroke="#000" stroke-width="1.8" transform="rotate(15 427.5 915.3)"/>
<ellipse cx="430.8" cy="924.4" rx="1.7" ry="2.8" fill="#fff" stroke="#000" stroke-width="1.8" transform="rotate(0 430.8 924.4)"/>
<ellipse cx="433" cy="934.9" rx="1.9" ry="1.9" fill="#fff" stroke="#000" stroke-width="1.8" transform="rotate(0 433 934.9)"/>
<ellipse cx="441" cy="942.6" rx="1.7" ry="2.2" fill="#fff" stroke="#000" stroke-width="1.8" transform="rotate(0 441 942.6)"/>
<ellipse cx="431.1" cy="954.2" rx="3.3" ry="1.9" fill="#fff" stroke="#000" stroke-width="1.8" transform="rotate(-10 431.1 954.2)"/>
<ellipse cx="448.8" cy="922.2" rx="1.1" ry="2.5" fill="#fff" stroke="#000" stroke-width="1.8" transform="rotate(0 448.8 922.2)"/>
<ellipse cx="458.1" cy="938.7" rx="2.2" ry="3" fill="#fff" stroke="#000" stroke-width="1.8" transform="rotate(20 458.1 938.7)"/>
<ellipse cx="468.6" cy="938.7" rx="3" ry="4.7" fill="#fff" stroke="#000" stroke-width="1.8" transform="rotate(10 468.6 938.7)"/>
<ellipse cx="483.5" cy="948.1" rx="6.1" ry="1.4" fill="#fff" stroke="#000" stroke-width="1.8" transform="rotate(-35 483.5 948.1)"/>
<ellipse cx="463.4" cy="953.6" rx="1.7" ry="2.8" fill="#fff" stroke="#000" stroke-width="1.8" transform="rotate(-30 463.4 953.6)"/>
<ellipse cx="467" cy="968" rx="1.7" ry="2.5" fill="#fff" stroke="#000" stroke-width="1.8" transform="rotate(0 467 968)"/>
<ellipse cx="499.5" cy="960" rx="2.8" ry="1.7" fill="#fff" stroke="#000" stroke-width="1.8" transform="rotate(-20 499.5 960)"/>
<ellipse cx="492.6" cy="915.6" rx="6.1" ry="1.9" fill="#fff" stroke="#000" stroke-width="1.8" transform="rotate(-15 492.6 915.6)"/>
<ellipse cx="518" cy="910" rx="6.6" ry="2.5" fill="#fff" stroke="#000" stroke-width="1.8" transform="rotate(-10 518 910)"/>
<ellipse cx="521.6" cy="940.9" rx="1.9" ry="3" fill="#fff" stroke="#000" stroke-width="1.8" transform="rotate(-20 521.6 940.9)"/>
<ellipse cx="528.2" cy="949.2" rx="8.3" ry="1.7" fill="#fff" stroke="#000" stroke-width="1.8" transform="rotate(-28 528.2 949.2)"/>
<polygon points="538.7,953.4 549.8,950.6 559.4,952 549.8,956.1 540.1,956.9" fill="#fff" stroke="#000" stroke-width="1.8"/>
<ellipse cx="551.1" cy="960.3" rx="1.4" ry="1.9" fill="#fff" stroke="#000" stroke-width="1.8" transform="rotate(0 551.1 960.3)"/>
<ellipse cx="556.7" cy="976" rx="10.5" ry="3.6" fill="#fff" stroke="#000" stroke-width="1.8" transform="rotate(-48 556.7 976)"/>
<ellipse cx="269.7" cy="828.9" rx="9.4" ry="2.2" fill="#fff" stroke="#000" stroke-width="1.8" transform="rotate(52 269.7 828.9)"/>
<polygon points="262.8,820.9 268.3,819 271.9,823.7 267.7,827.3" fill="#fff" stroke="#000" stroke-width="1.8"/>
<ellipse cx="297.3" cy="867" rx="2.2" ry="5.5" fill="#fff" stroke="#000" stroke-width="1.8" transform="rotate(15 297.3 867)"/>
<polygon points="287.1,885.8 293.1,883 297.3,877.5 301.4,885.8 302,894 295.9,892.6 292.6,894" fill="#fff" stroke="#000" stroke-width="1.8"/>
<ellipse cx="303.1" cy="907.8" rx="6.1" ry="2.8" fill="#fff" stroke="#000" stroke-width="1.8" transform="rotate(38 303.1 907.8)"/>
<ellipse cx="398" cy="900.9" rx="1.9" ry="2.2" fill="#fff" stroke="#000" stroke-width="1.8" transform="rotate(0 398 900.9)"/>
<polyline points="1548.4,673.3 1548.4,753.9" fill="none" stroke="#000" stroke-width="1.2"/>
<polyline points="219.7,700.6 223.9,694.8 220.6,689.8 220.6,679.9 225.5,676.6 225.5,674.1" fill="none" stroke="#000" stroke-width="1.7"/>
<polyline points="252,728.7 251.2,716.3 249.5,714.7 255.3,706.4 262.8,695.6 265.3,702.3 276,699.8 281,706.4 289.3,711.4 294.2,718 294.2,729.6 292.6,736.2 290.9,746.1 292.6,757.7 299.2,771 307.5,772.6 310.8,782.5 308.3,788.3 302.5,791.7 297.5,804.1 289.3,808.2 286,815.7 287.6,819.8 283.5,825.6 279.3,824.8 276,820.6" fill="none" stroke="#000" stroke-width="1.7"/>
<polyline points="276,699.8 277.7,692.3 287.6,687.4 298.4,676.6 309.1,675.8 317.4,681.6 324,690.7 336.5,694.8 332.3,703.9 328.2,713" fill="none" stroke="#000" stroke-width="1.7"/>
<polyline points="266.1,674.1 279.3,679.9 287.6,687.4" fill="none" stroke="#000" stroke-width="1.7"/>
<polyline points="310.8,674.1 317.4,681.6" fill="none" stroke="#000" stroke-width="1.7"/>
<polyline points="294.2,729.6 300.9,728.7 302.5,720.5 314.9,715.5 319.1,719.6 328.2,713 338.9,710.5 353.8,708 359.6,710.5 368.7,719.6 375.4,722.9 380.3,735.4 377.8,751.9 372.1,753.6 370.4,760.2 357.2,761.9 343.9,761.9 335.6,769.3 320.7,773.4 307.5,772.6" fill="none" stroke="#000" stroke-width="1.7"/>
<polyline points="359.6,710.5 362.9,704.7 360.5,696.5 361.3,688.2 370.4,684.9 379.5,674.1" fill="none" stroke="#000" stroke-width="1.7"/>
<polyline points="377.8,751.9 395.2,750.3 418.4,745.3 433.3,742.8 438.3,747.8 444.9,751.1 461.5,756.1 480,753.6" fill="none" stroke="#000" stroke-width="1.7"/>
<polyline points="187.5,681.6 191.6,680.7 189.9,686.5" fill="none" stroke="#000" stroke-width="1.7"/>
<polyline points="460,756.1 476.6,753.6 490.6,751.9 492.3,749.4 489.8,737 498.1,732.9 504.7,732.1 507.2,726.3 522.9,721.3 531.2,719.6 540.3,727.1 556.9,724.6" fill="none" stroke="#000" stroke-width="1.7"/>
<polyline points="498.1,733.7 506.4,739.5 508.8,746.1 508,751.9 499.7,756.1 498.9,767.6 489.8,778.4" fill="none" stroke="#000" stroke-width="1.7"/>
<polyline points="1038.7,745 1049.8,746.4 1066.3,746.4 1077.4,742.3 1091.1,750.5 1104.9,761.6 1132.5,758.8 1160.1,756.1 1171.2,747.8 1180,746.4" fill="none" stroke="#000" stroke-width="1.7"/>
<polyline points="1104.9,761.6 1114.6,775.4 1109.1,789.2 1114.6,805.7 1132.5,811.2 1146.3,820.9 1154.6,825" fill="none" stroke="#000" stroke-width="1.7"/>
<polyline points="1146.3,822.3 1140.8,836.1 1125.6,838.8 1131.2,855.4 1135.3,880.2 1139.4,883 1132.5,902.3 1143.6,913.3 1149.1,929.9 1132.5,940.9 1129.8,929.9 1107.7,932.7 1077.4,925.8 1066.3,938.2 1060.8,931.3 1038.7,938.2 1011.1,938.2 983.5,949.2 961.5,954.7 939.4,954.7 920.1,946.5 903.5,953.4 895.2,957.5 884.2,954.7 873.2,961.6 859.4,963 848.3,952" fill="none" stroke="#000" stroke-width="1.7"/>
<polyline points="1149.1,929.9 1154.6,949.2 1162.9,968.5 1169.8,985.1" fill="none" stroke="#000" stroke-width="1.7"/>
<polyline points="1066.3,938.2 1047,954.7 1030.4,965.8 1026.3,974.1 1027.1,985.1" fill="none" stroke="#000" stroke-width="1.7"/>
<polyline points="1146.3,820.9 1157.4,836.1 1168.4,847.1 1180,855.4" fill="none" stroke="#000" stroke-width="1.7"/>
<polyline points="1154.6,825 1165.7,822.3 1173.9,830.6 1180,831.9" fill="none" stroke="#000" stroke-width="1.7"/>
<polyline points="1160.1,756.1 1168.4,764.3 1176.7,775.4 1180,780.9" fill="none" stroke="#000" stroke-width="1.7"/>
<polyline points="1295.9,880.2 1287.6,880.2 1276.6,870.6 1266.9,862.3 1272.4,855.4 1271.1,847.1 1276.6,836.1 1265.5,825 1251.7,829.2 1235.2,841.6 1221.4,849.9 1213.1,858.2 1199.3,859.5 1180,855.4" fill="none" stroke="#000" stroke-width="1.7"/>
<polyline points="1180,800.2 1193.8,800.2 1189.7,814 1180,811.2" fill="none" stroke="#000" stroke-width="1.7"/>
<polyline points="1180,814 1193.8,822.3 1204.8,827.8 1211.7,833.3 1215.9,844.4 1210.4,855.4" fill="none" stroke="#000" stroke-width="1.7"/>
<polyline points="1180,827.8 1191,841.6 1197.9,858.2" fill="none" stroke="#000" stroke-width="1.7"/>
<polyline points="1425.6,731.2 1433.9,721.6 1450.4,713.3 1480.8,709.2 1491.8,713.3 1508.4,724.3 1519.4,740.9 1530.4,754.7 1548.4,753.9 1588.4,754.7 1584.2,747.8 1585.6,731.2 1593.9,720.2 1613.2,714.7 1621.5,703.6 1632.5,708.6 1635.3,706.4 1627,698.1 1640.8,691.2 1654.6,700.9 1665.7,709.2 1680,710.5" fill="none" stroke="#000" stroke-width="1.7"/>
<polyline points="1476.6,927.1 1489.1,926.6 1502.8,921.6 1511.1,907.8 1524.9,896.8 1538.7,894 1560.8,894 1566.3,887.1 1588.4,888.5 1598,899.5 1610.5,902.3 1627,907.8 1638.1,913.3 1649.1,912 1662.9,918.9 1673.9,929.9 1680,934" fill="none" stroke="#000" stroke-width="1.7"/>
<polyline points="1086.4,673.9 1091,680.8 1101.8,685.5 1115.7,690.9 1116.5,696.3 1126.5,695.5 1138.9,691.6 1148.2,693.2 1151.3,697 1154.4,691.6 1162.1,693.2 1169.8,698.6 1172.9,700.9 1185.3,701.7 1186,708.6 1188.4,717.9 1196.1,721.8 1206.9,727.2 1211.5,731" fill="none" stroke="#000" stroke-width="1.7"/>
<polyline points="1211.5,731 1202.3,736.5 1203.8,742.6 1211.5,748.8 1219.3,754.2 1214.6,762.7 1210,764.3 1203.8,760.4 1196.1,756.5 1185.3,754.2 1182.2,750.4 1176,748 1169.8,748 1162.1,753.4 1159,756.5" fill="none" stroke="#000" stroke-width="1.7"/>
<polyline points="1211.5,730.3 1222.4,731.8 1230.1,739.5 1237.8,747.3 1240.9,754.2 1256.3,758.1 1262.5,754.2 1267.2,748 1276.4,744.2 1287.3,733.4" fill="none" stroke="#000" stroke-width="1.7"/>
<polyline points="1180,1056.7 1175.3,1065 1173.9,1073.3 1180,1081.6" fill="none" stroke="#000" stroke-width="1.7"/>
<polyline points="1169.8,985 1180,989.1" fill="none" stroke="#000" stroke-width="1.7"/>
<polyline points="1668,710.5 1688.7,710.5 1690.1,724.3 1697,731.2 1692.8,746.4 1706.6,756.1 1737,756.1 1750.8,758.8 1760.4,769.9 1764.6,780.9 1774.2,794.7 1778.4,811.2 1797.7,825 1817,838.8 1833.6,854 1844.6,856.8 1861.2,869.2 1877.7,880.2 1891.5,888.5 1902.5,887.1 1916.3,895.4 1926,899.5 1921.3,913.3 1921.3,925.8" fill="none" stroke="#000" stroke-width="1.7"/>
<polyline points="1891,673.3 1897,685.7 1906.7,681.6 1903.9,722.9 1921.3,723.5 1928.8,760.2 1971.5,758.8 1978.4,768.5 1977.1,775.4 1985.3,782.3 1993.6,783.7 1997.7,771.2 2010.2,756.1 2024,745 2035,736.7 2051.6,731.2 2057.1,724.3 2070.9,716 2087.4,713.3 2088.8,717.4 2073.6,724.3 2062.6,731.2 2054.3,742.3 2070.9,747.8 2076.4,757.4 2092.9,761.6 2095.7,753.3 2104,745 2109.5,756.1 2123.3,761.6 2137.1,769.9 2156.4,775.4 2142.6,786.4 2128.8,793.3 2120.5,787.8 2115,797.5 2087.4,800.2 2068.1,801.6 2059.8,794.7 2070.9,778.1 2065.4,768.5 2059.8,767.1 2051.6,774 2037.8,779.5 2024,776.8 2018.4,786.4 2019.8,800.2 1996.4,803 1995,805.7 2006,807.1 2003.3,815.4 1997.7,816.8 1993.6,827.8 1974.3,830.6 1960.5,830.6 1952.2,838.8 1952.2,847.1 1960.5,849.9 1964.6,855.4 1974.3,855.4 1979.8,860.9 1975.7,874.7 1982.6,885.8 1986.7,891.3 1979.8,905.1 1970.2,916.1 1967.4,929.9 1970.2,938.2 1977.1,942.3 1988.1,935.4 2004.6,928.5 2018.4,936.8 2024,929.9 2026.7,917.5 2037.8,916.1 2051.6,917.5 2051.6,905.1 2059.8,894 2068.1,883 2076.4,878.9 2087.4,883 2091.6,894 2090.2,902.3 2099.8,903.7 2097.1,916.1 2095.7,932.7 2101.2,949.2 2106.7,956.1 2120.5,949.2 2137.1,938.2 2153.7,927.1 2168,921.6" fill="none" stroke="#000" stroke-width="1.7"/>
<polyline points="2076.4,710.5 2084.7,695.4 2098.5,688.5 2120.5,689.8 2142.6,696.7 2161.9,699.5 2168,700.9" fill="none" stroke="#000" stroke-width="1.7"/>
<polyline points="2019.8,800.2 2018.4,814 2021.2,830.6 2035,830.6 2054.3,827.8 2073.6,836.1 2095.7,830.6 2106.7,841.6 2120.5,840.2 2137.1,837.5 2168,836.1" fill="none" stroke="#000" stroke-width="1.7"/>
<polyline points="2035,803 2059.8,808.5 2068.1,804.3 2081.9,801.6" fill="none" stroke="#000" stroke-width="1.7"/>
<polyline points="1921.3,925.8 1932.9,927.1 1949.5,932.7 1967.4,931.3" fill="none" stroke="#000" stroke-width="1.7"/>
<polyline points="1921.3,925.8 1905.3,924.4 1894.3,917.5 1888.8,929.9 1866.7,932.7 1859.8,940.9 1855.6,963 1850.1,971.3 1839.1,979.6 1830.8,985.1" fill="none" stroke="#000" stroke-width="1.7"/>
<polyline points="1668,924.4 1681.8,934 1692.8,940.9 1702.5,957.5 1731.5,957.5 1734.2,979.6 1732.8,985.1" fill="none" stroke="#000" stroke-width="1.7"/>
<polyline points="2168,946.5 2137.1,949.2 2109.5,963 2092.9,976.8 2087.4,985.1" fill="none" stroke="#000" stroke-width="1.7"/>
<polyline points="455.9,1175.4 446.3,1189.2 450.4,1211.3 440.8,1238.9 446.3,1260.9 451.8,1283 451.8,1299.6" fill="none" stroke="#000" stroke-width="1.7"/>
<polyline points="780.7,1197.5 790.4,1227.8 801.4,1269.2" fill="none" stroke="#000" stroke-width="1.7"/>
<polyline points="804.7,1269.2 809.7,1238.9 815.2,1214 818,1194.7 823.5,1164.4 829,1139.5 833.1,1123 834.5,1109.2" fill="none" stroke="#000" stroke-width="1.7"/>
<polyline points="840,1044.3 853.8,1048.5 862.1,1065 851.1,1078.8 840,1098.1 834.5,1109.2 815.2,1095.4" fill="none" stroke="#000" stroke-width="1.7"/>
<polyline points="834.5,1134 845.6,1140.9 870.4,1146.4 939.4,1100.9 1022.2,1054 1026.3,1040.2 1024.9,1012.6 1031.8,996 1029.1,985" fill="none" stroke="#000" stroke-width="1.7"/>
<polyline points="939.4,1100.9 947.7,1142.3 957.3,1147.8 953.2,1154.7" fill="none" stroke="#000" stroke-width="1.7"/>
<polyline points="953.2,1154.7 875.9,1181.5 910.4,1225.1 898,1233.3 893.9,1247.1 867.6,1252.7 842.8,1281.6 804.7,1274.7" fill="none" stroke="#000" stroke-width="1.7"/>
<polyline points="953.2,1154.7 997.3,1161.6 1058,1200.2 1110.5,1247.1 1149.1,1281.6 1180,1284.4" fill="none" stroke="#000" stroke-width="1.7"/>
<polyline points="1180,989.1 1193.8,991.9 1204.8,996 1195.2,1002.9 1196.6,1012.6 1200.7,1022.3 1188.3,1030.5 1182.8,1038.8 1181.4,1048.5 1180,1056.7" fill="none" stroke="#000" stroke-width="1.7"/>
<polyline points="1180,1081.6 1191,1091.2 1199.3,1103.7 1197.9,1117.5 1207.6,1120.2 1224.2,1131.2 1235.2,1139.5 1242.1,1139.5 1249,1153.3 1260,1168.5 1255.9,1183.7 1255.1,1204.4 1266.1,1204.4 1267.7,1227.8 1276.6,1236.1 1280.7,1245.8 1283.5,1248.5" fill="none" stroke="#000" stroke-width="1.7"/>
<polyline points="1734.2,985 1735.6,1001.6 1730.1,1015.4 1727.3,1034.7 1717.7,1049.8 1721.8,1058.1 1709.4,1066.4 1708,1084.3 1712.2,1091.2 1723.2,1094 1710.8,1111.9 1714.9,1128.5 1720.4,1147.8 1719,1182.3 1750.8,1186.4 1754.9,1200.2 1754.1,1208.5 1720.4,1252.7" fill="none" stroke="#000" stroke-width="1.7"/>
<polyline points="1735.6,1001.6 1748,1009.8 1761.8,1009.8 1772.9,1020.9 1789.4,1016.7 1800.5,1005.7 1803.2,991.9 1822.5,986.4 1833.6,985" fill="none" stroke="#000" stroke-width="1.7"/>
<polyline points="1720.4,1252.7 1748,1262.3 1778.4,1272 1817,1269.2 1834.9,1272.5 1844.6,1267.8 1869.4,1266.5 1888.8,1260.9 1912.2,1252.7 1913.6,1233.3 1913.6,1214 1919.1,1204.4 1927.4,1197.5 1937,1190.6 1946.7,1193.3 1963.3,1189.2 1960.5,1180.9 1971.5,1175.4 1982.6,1168.5 1993.6,1169.9 2003.3,1175.4 2015.7,1167.1 2019.8,1150.6 2018.4,1139.5 2025.3,1125.7 2028.1,1114.7 2043.3,1111.9 2054.3,1102.3 2048.8,1087.1 2040.5,1076.1 2046,1071.9 2065.4,1074.7 2081.9,1070.5 2083.3,1058.1 2079.1,1051.2 2092.9,1037.4 2101.2,1020.9 2099.8,1001.6 2092.9,987.8 2087.4,985" fill="none" stroke="#000" stroke-width="1.7"/>
<polyline points="1264.2,1245.8 1249,1243 1236.6,1245.8 1229.7,1258.2 1221.4,1274.7 1213.1,1287.2 1180,1284.4" fill="none" stroke="#000" stroke-width="1.3"/>
<polyline points="1213.1,1287.2 1244.8,1290.7 1248.4,1299.6" fill="none" stroke="#000" stroke-width="1.3"/>
<polyline points="1720.4,1252.7 1737,1274.7 1746.6,1299.6" fill="none" stroke="#000" stroke-width="1.3"/>
<polyline points="2168,1249.9 2159.2,1272 2148.1,1288.5 2134.3,1299.6" fill="none" stroke="#000" stroke-width="1.3"/>
<g fill="rgba(255,165,0,0.5)" stroke="rgba(60,40,0,0.55)" stroke-width="0.8"><circle cx="1041.8" cy="899" r="8.8"/><circle cx="936.1" cy="923.8" r="8.8"/><circle cx="881.4" cy="923" r="8.8"/><circle cx="889.7" cy="929.9" r="8.8"/><circle cx="892.5" cy="934" r="8.8"/><circle cx="859.4" cy="942.3" r="8.8"/><circle cx="867.6" cy="943.7" r="8.8"/><circle cx="873.2" cy="946.5" r="8.8"/><circle cx="882.8" cy="949.2" r="8.8"/><circle cx="892.5" cy="952" r="8.8"/><circle cx="898" cy="949.2" r="8.8"/><circle cx="856.6" cy="954.7" r="8.8"/><circle cx="899.4" cy="964.4" r="8.8"/><circle cx="867.6" cy="968.5" r="8.8"/><circle cx="859.4" cy="976.8" r="8.8"/><circle cx="852.5" cy="980.9" r="8.8"/><circle cx="1018.9" cy="938.2" r="8.8"/><circle cx="1036" cy="938.2" r="8.8"/><circle cx="1041.5" cy="939" r="8.8"/><circle cx="1051.1" cy="938.2" r="8.8"/><circle cx="1059.4" cy="928.5" r="8.8"/><circle cx="1058" cy="936.8" r="8.8"/><circle cx="1010.6" cy="950.6" r="8.8"/><circle cx="992.6" cy="967.2" r="8.8"/><circle cx="1038.7" cy="966.6" r="8.8"/><circle cx="1057.2" cy="970.5" r="8.8"/><circle cx="1091.1" cy="969.4" r="8.8"/><circle cx="1102.2" cy="968.5" r="8.8"/><circle cx="1093.9" cy="979.6" r="8.8"/><circle cx="1104.9" cy="982.3" r="8.8"/><circle cx="1159.3" cy="892.6" r="8.8"/><circle cx="1165.7" cy="918.3" r="8.8"/><circle cx="1175.3" cy="936.8" r="8.8"/><circle cx="885.6" cy="927.1" r="8.8"/><circle cx="878.7" cy="940.9" r="8.8"/><circle cx="888.3" cy="943.7" r="8.8"/><circle cx="863.5" cy="949.2" r="8.8"/><circle cx="874.5" cy="953.4" r="8.8"/><circle cx="887" cy="957.5" r="8.8"/><circle cx="895.2" cy="956.1" r="8.8"/><circle cx="862.1" cy="961.6" r="8.8"/><circle cx="829" cy="1002.9" r="8.8"/><circle cx="844.2" cy="996" r="8.8"/><circle cx="852.5" cy="1000.2" r="8.8"/><circle cx="856.6" cy="989.1" r="8.8"/><circle cx="869" cy="1004.3" r="8.8"/><circle cx="887.5" cy="998" r="8.8"/><circle cx="935" cy="1006.5" r="8.8"/><circle cx="944.9" cy="1040.7" r="8.8"/><circle cx="920.6" cy="1048.7" r="8.8"/><circle cx="1153.8" cy="1006.2" r="8.8"/><circle cx="1099.4" cy="986.4" r="8.8"/><circle cx="1107.7" cy="987.8" r="8.8"/><circle cx="851.1" cy="1036" r="8.8"/><circle cx="856.6" cy="1034.7" r="8.8"/><circle cx="860.7" cy="1031.9" r="8.8"/><circle cx="863.5" cy="1036" r="8.8"/><circle cx="867.6" cy="1030.5" r="8.8"/><circle cx="873.2" cy="1029.2" r="8.8"/><circle cx="862.1" cy="1052.6" r="8.8"/><circle cx="838.7" cy="1065" r="8.8"/><circle cx="840" cy="1073.3" r="8.8"/><circle cx="840" cy="1081.6" r="8.8"/><circle cx="856.6" cy="1076.1" r="8.8"/><circle cx="834.5" cy="1089.9" r="8.8"/><circle cx="829" cy="1095.4" r="8.8"/><circle cx="865.4" cy="1089.9" r="8.8"/><circle cx="809.7" cy="1099.5" r="8.8"/><circle cx="830.4" cy="1103.7" r="8.8"/><circle cx="838.7" cy="1110.6" r="8.8"/><circle cx="818" cy="1110.6" r="8.8"/><circle cx="851.1" cy="1125.7" r="8.8"/><circle cx="859.4" cy="1123" r="8.8"/><circle cx="862.1" cy="1131.2" r="8.8"/><circle cx="856.6" cy="1138.1" r="8.8"/><circle cx="860.7" cy="1143.7" r="8.8"/><circle cx="845.6" cy="1139.5" r="8.8"/><circle cx="795.9" cy="1132.6" r="8.8"/><circle cx="802.8" cy="1136.8" r="8.8"/><circle cx="794.5" cy="1147.8" r="8.8"/><circle cx="798.7" cy="1156.1" r="8.8"/><circle cx="849.7" cy="1161.6" r="8.8"/><circle cx="862.9" cy="1174.8" r="8.8"/><circle cx="820.7" cy="1180.9" r="8.8"/><circle cx="826.2" cy="1186.4" r="8.8"/><circle cx="830.4" cy="1194.7" r="8.8"/><circle cx="855.2" cy="1038.8" r="8.8"/><circle cx="859.4" cy="1042.9" r="8.8"/><circle cx="835.9" cy="1077.4" r="8.8"/><circle cx="833.1" cy="1085.7" r="8.8"/><circle cx="826.2" cy="1099.5" r="8.8"/><circle cx="823.5" cy="1094" r="8.8"/><circle cx="856.6" cy="1128.5" r="8.8"/><circle cx="863.5" cy="1136.8" r="8.8"/><circle cx="853.8" cy="1134" r="8.8"/><circle cx="841.4" cy="1131.2" r="8.8"/><circle cx="834.5" cy="1139.5" r="8.8"/><circle cx="1238.5" cy="874.2" r="8.8"/><circle cx="1540.9" cy="841.6" r="8.8"/><circle cx="1558.6" cy="841.6" r="8.8"/><circle cx="1565.5" cy="862.3" r="8.8"/><circle cx="1585.1" cy="864.2" r="8.8"/><circle cx="1569.9" cy="878" r="8.8"/><circle cx="1540.1" cy="888.5" r="8.8"/><circle cx="1556.7" cy="889.1" r="8.8"/><circle cx="1646.3" cy="901.5" r="8.8"/><circle cx="2040.5" cy="701.4" r="8.8"/><circle cx="2048.2" cy="700.3" r="8.8"/><circle cx="2055.7" cy="736.7" r="8.8"/><circle cx="2102.6" cy="792.8" r="8.8"/><circle cx="2035" cy="801.6" r="8.8"/><circle cx="2001.9" cy="802.1" r="8.8"/><circle cx="1972.9" cy="804.3" r="8.8"/><circle cx="1975.7" cy="811.2" r="8.8"/><circle cx="1954.4" cy="807.9" r="8.8"/><circle cx="1928.8" cy="811.8" r="8.8"/><circle cx="1935.1" cy="827.8" r="8.8"/><circle cx="1968.8" cy="831.4" r="8.8"/><circle cx="1990.3" cy="821.5" r="8.8"/><circle cx="1945.3" cy="854.8" r="8.8"/><circle cx="1932.3" cy="861.7" r="8.8"/><circle cx="1951.4" cy="905.6" r="8.8"/><circle cx="2026.7" cy="912.5" r="8.8"/><circle cx="1905.3" cy="955.6" r="8.8"/><circle cx="1872.7" cy="973.2" r="8.8"/><circle cx="2012.4" cy="985.1" r="8.8"/><circle cx="1777.8" cy="1059.5" r="8.8"/><circle cx="1807.3" cy="1049.6" r="8.8"/><circle cx="2011.5" cy="989.1" r="8.8"/><circle cx="2023.4" cy="996.9" r="8.8"/><circle cx="1947.2" cy="1240" r="8.8"/><circle cx="1384.7" cy="1007.6" r="8.8"/><circle cx="1196" cy="1054.8" r="8.8"/><circle cx="1332.3" cy="1071.1" r="8.8"/><circle cx="1283.5" cy="1097" r="8.8"/><circle cx="1273.5" cy="1125.2" r="8.8"/><circle cx="291.8" cy="1140.9" r="8.8"/><circle cx="320.7" cy="1129" r="8.8"/><circle cx="412.6" cy="1171.3" r="8.8"/><circle cx="830" cy="1089.8" r="8.8"/><circle cx="839.2" cy="1082.8" r="8.8"/><circle cx="835.2" cy="1083.1" r="8.8"/><circle cx="841.4" cy="1098" r="8.8"/><circle cx="842.6" cy="1093.7" r="8.8"/><circle cx="837.9" cy="1095" r="8.8"/><circle cx="832.2" cy="1097.6" r="8.8"/><circle cx="829.7" cy="1094.6" r="8.8"/><circle cx="839.4" cy="1097.1" r="8.8"/><circle cx="856.9" cy="1148.2" r="8.8"/><circle cx="859.7" cy="1126.7" r="8.8"/><circle cx="860.3" cy="1127.2" r="8.8"/><circle cx="857" cy="1128.5" r="8.8"/><circle cx="871.7" cy="1131.4" r="8.8"/><circle cx="860.4" cy="1136.5" r="8.8"/><circle cx="871.6" cy="1129.5" r="8.8"/><circle cx="855.6" cy="1150.4" r="8.8"/><circle cx="850.5" cy="1128.4" r="8.8"/><circle cx="863.4" cy="1148.9" r="8.8"/><circle cx="853.6" cy="1112.5" r="8.8"/><circle cx="863.4" cy="1127.2" r="8.8"/><circle cx="859.8" cy="1035.1" r="8.8"/><circle cx="863.5" cy="1034.4" r="8.8"/><circle cx="859.5" cy="1038.3" r="8.8"/><circle cx="871.3" cy="1033.4" r="8.8"/><circle cx="859.4" cy="1036.1" r="8.8"/><circle cx="865" cy="1029.3" r="8.8"/><circle cx="859.3" cy="1037.3" r="8.8"/><circle cx="861.5" cy="1032" r="8.8"/><circle cx="840.2" cy="1071.7" r="8.8"/><circle cx="839.5" cy="1060.2" r="8.8"/><circle cx="845.3" cy="1073.1" r="8.8"/><circle cx="836.6" cy="1077.9" r="8.8"/><circle cx="840.5" cy="1072" r="8.8"/><circle cx="843" cy="1085.6" r="8.8"/><circle cx="841.3" cy="1081.5" r="8.8"/><circle cx="831.8" cy="1184.1" r="8.8"/><circle cx="821.5" cy="1193.1" r="8.8"/><circle cx="816.9" cy="1187.9" r="8.8"/><circle cx="828.5" cy="1194.4" r="8.8"/><circle cx="800.6" cy="1126.6" r="8.8"/><circle cx="806.4" cy="1146.8" r="8.8"/><circle cx="801.2" cy="1146.4" r="8.8"/><circle cx="793" cy="1130.4" r="8.8"/><circle cx="875.8" cy="929.7" r="8.8"/><circle cx="874.3" cy="955.1" r="8.8"/><circle cx="882" cy="954.6" r="8.8"/><circle cx="886" cy="929" r="8.8"/><circle cx="877.9" cy="966.1" r="8.8"/><circle cx="876.7" cy="933.4" r="8.8"/><circle cx="896.3" cy="944.6" r="8.8"/><circle cx="884.1" cy="958.1" r="8.8"/><circle cx="866.9" cy="947.8" r="8.8"/><circle cx="873.8" cy="929.9" r="8.8"/><circle cx="876.2" cy="955" r="8.8"/><circle cx="882.8" cy="925.6" r="8.8"/><circle cx="873.3" cy="958.7" r="8.8"/><circle cx="894.3" cy="932.9" r="8.8"/><circle cx="872.4" cy="968.7" r="8.8"/><circle cx="857.1" cy="970.3" r="8.8"/><circle cx="866.1" cy="982.6" r="8.8"/><circle cx="866.5" cy="968.3" r="8.8"/><circle cx="859.7" cy="961" r="8.8"/><circle cx="861.8" cy="967.1" r="8.8"/></g>
<g fill="rgba(0,128,0,0.5)" stroke="rgba(60,40,0,0.55)" stroke-width="0.8"><circle cx="1141.4" cy="930.7" r="8.8"/><circle cx="759.5" cy="1022.3" r="8.8"/><circle cx="804.2" cy="1118.8" r="8.8"/><circle cx="816.6" cy="1120.2" r="8.8"/><circle cx="822.1" cy="1134" r="8.8"/><circle cx="826.2" cy="1150.6" r="8.8"/><circle cx="831.8" cy="1156.1" r="8.8"/><circle cx="830.4" cy="1164.4" r="8.8"/><circle cx="834.5" cy="1150.6" r="8.8"/><circle cx="811.1" cy="1160.2" r="8.8"/><circle cx="795.9" cy="1172.6" r="8.8"/><circle cx="790.4" cy="1172.6" r="8.8"/><circle cx="801.4" cy="1175.4" r="8.8"/><circle cx="780.7" cy="1189.2" r="8.8"/><circle cx="805.6" cy="1194.7" r="8.8"/><circle cx="823.5" cy="1198.9" r="8.8"/><circle cx="824.9" cy="1211.3" r="8.8"/><circle cx="822.1" cy="1219.5" r="8.8"/><circle cx="818" cy="1225.1" r="8.8"/><circle cx="818" cy="1233.3" r="8.8"/><circle cx="791.8" cy="1214" r="8.8"/><circle cx="829" cy="1153.3" r="8.8"/><circle cx="833.1" cy="1161.6" r="8.8"/><circle cx="827.6" cy="1158.8" r="8.8"/><circle cx="824.9" cy="1154.7" r="8.8"/><circle cx="798.7" cy="1169.9" r="8.8"/><circle cx="793.1" cy="1176.8" r="8.8"/><circle cx="823.5" cy="1168.5" r="8.8"/><circle cx="829" cy="1172.6" r="8.8"/><circle cx="820.7" cy="1216.8" r="8.8"/><circle cx="1643.3" cy="966.3" r="8.8"/><circle cx="334" cy="1127.7" r="8.8"/><circle cx="823" cy="1167.7" r="8.8"/><circle cx="824.9" cy="1154.6" r="8.8"/><circle cx="827.7" cy="1159.5" r="8.8"/><circle cx="831.5" cy="1157.7" r="8.8"/><circle cx="822.7" cy="1137" r="8.8"/><circle cx="829.8" cy="1157.7" r="8.8"/><circle cx="835.1" cy="1155.5" r="8.8"/><circle cx="826" cy="1158.6" r="8.8"/><circle cx="821.3" cy="1149.8" r="8.8"/><circle cx="824" cy="1157.8" r="8.8"/><circle cx="839.4" cy="1160.7" r="8.8"/><circle cx="834.7" cy="1157.5" r="8.8"/><circle cx="830.4" cy="1153.4" r="8.8"/><circle cx="827.6" cy="1141.3" r="8.8"/><circle cx="789.9" cy="1169.8" r="8.8"/><circle cx="800.1" cy="1176.2" r="8.8"/><circle cx="801.6" cy="1179.2" r="8.8"/><circle cx="794.4" cy="1177.5" r="8.8"/><circle cx="805.6" cy="1174" r="8.8"/><circle cx="801.3" cy="1173.5" r="8.8"/><circle cx="787.9" cy="1174.4" r="8.8"/><circle cx="791.8" cy="1174.4" r="8.8"/><circle cx="820" cy="1220.4" r="8.8"/><circle cx="815.4" cy="1232.5" r="8.8"/><circle cx="825" cy="1215.7" r="8.8"/><circle cx="818.8" cy="1218.2" r="8.8"/><circle cx="823.1" cy="1221.1" r="8.8"/><circle cx="822.4" cy="1204.6" r="8.8"/><circle cx="818.2" cy="1227.4" r="8.8"/><circle cx="821.9" cy="1207.7" r="8.8"/></g>
<g fill="rgba(70,130,0,0.85)" stroke="rgba(60,40,0,0.55)" stroke-width="0.8"><circle cx="1141.4" cy="930.4" r="8.8"/><circle cx="1184.5" cy="951.9" r="8.8"/></g>
</g>
<rect x="188.2" y="674.8" width="1978.4" height="622" fill="none" stroke="#000" stroke-width="1.7"/>
<line x1="274.4" y1="1296.8" x2="274.4" y2="1308.8" stroke="#000" stroke-width="1.6"/>
<text x="274.4" y="1345.8" font-size="38" text-anchor="middle">20</text>
<line x1="628.6" y1="1296.8" x2="628.6" y2="1308.8" stroke="#000" stroke-width="1.6"/>
<text x="628.6" y="1345.8" font-size="38" text-anchor="middle">30</text>
<line x1="982.8" y1="1296.8" x2="982.8" y2="1308.8" stroke="#000" stroke-width="1.6"/>
<text x="982.8" y="1345.8" font-size="38" text-anchor="middle">40</text>
<line x1="1337" y1="1296.8" x2="1337" y2="1308.8" stroke="#000" stroke-width="1.6"/>
<text x="1337" y="1345.8" font-size="38" text-anchor="middle">50</text>
<line x1="1691.2" y1="1296.8" x2="1691.2" y2="1308.8" stroke="#000" stroke-width="1.6"/>
<text x="1691.2" y="1345.8" font-size="38" text-anchor="middle">60</text>
<line x1="2045.4" y1="1296.8" x2="2045.4" y2="1308.8" stroke="#000" stroke-width="1.6"/>
<text x="2045.4" y="1345.8" font-size="38" text-anchor="middle">70</text>
<line x1="176.2" y1="1246.9" x2="188.2" y2="1246.9" stroke="#000" stroke-width="1.6"/>
<text x="152.7" y="1240.9" font-size="45.5" text-anchor="middle" transform="rotate(-90 152.7 1240.9)">30</text>
<line x1="176.2" y1="1072.4" x2="188.2" y2="1072.4" stroke="#000" stroke-width="1.6"/>
<text x="152.7" y="1066.4" font-size="45.5" text-anchor="middle" transform="rotate(-90 152.7 1066.4)">34</text>
<line x1="176.2" y1="897.9" x2="188.2" y2="897.9" stroke="#000" stroke-width="1.6"/>
<text x="152.7" y="891.9" font-size="45.5" text-anchor="middle" transform="rotate(-90 152.7 891.9)">38</text>
<line x1="176.2" y1="723.3" x2="188.2" y2="723.3" stroke="#000" stroke-width="1.6"/>
<text x="152.7" y="717.3" font-size="45.5" text-anchor="middle" transform="rotate(-90 152.7 717.3)">42</text>
<text x="1175" y="1385" font-size="38.2" text-anchor="middle">Longitude</text>
<text x="91.6" y="980" font-size="44.5" text-anchor="middle" transform="rotate(-90 91.6 980)">Latitude</text>
<text x="1177.5" y="731.8" font-size="46" text-anchor="middle" font-weight="bold">wild barley</text>
<circle cx="224" cy="980" r="12.5" fill="#008000"/><circle cx="224" cy="1044" r="12.5" fill="#ffa500"/>
<text x="255.5" y="990.5" font-size="38">haplotype1</text>
<text x="255.5" y="1054" font-size="38">haplotype2</text>
</g>
<g id="panel-d">
<text x="-2" y="1416.4" font-size="46" font-weight="bold">d</text>
<rect x="254.2" y="1556.7" width="54.4" height="18.5" fill="#ffa500" stroke="#000" stroke-width="2"/>
<rect x="254.2" y="1427.4" width="54.4" height="129.3" fill="#008000" stroke="#000" stroke-width="2"/>
<text x="299.9" y="1593.2" font-size="30.5" text-anchor="end" transform="rotate(-45 299.9 1593.2)">SL</text>
<rect x="320.8" y="1457" width="54.4" height="118.2" fill="#ffa500" stroke="#000" stroke-width="2"/>
<text x="366.5" y="1593.2" font-size="30.5" text-anchor="end" transform="rotate(-45 366.5 1593.2)">NL</text>
<rect x="387.4" y="1508.7" width="54.4" height="66.5" fill="#ffa500" stroke="#000" stroke-width="2"/>
<text x="433.1" y="1593.2" font-size="30.5" text-anchor="end" transform="rotate(-45 433.1 1593.2)">SD</text>
<rect x="454" y="1493.9" width="54.4" height="81.3" fill="#ffa500" stroke="#000" stroke-width="2"/>
<text x="499.7" y="1593.2" font-size="30.5" text-anchor="end" transform="rotate(-45 499.7 1593.2)">NM</text>
<rect x="520.6" y="1442.2" width="54.4" height="133" fill="#ffa500" stroke="#000" stroke-width="2"/>
<text x="566.3" y="1593.2" font-size="30.5" text-anchor="end" transform="rotate(-45 566.3 1593.2)">CA</text>
<line x1="217.2" y1="1575.2" x2="601.5" y2="1575.2" stroke="#000" stroke-width="2.4"/>
<line x1="231.2" y1="1576.4" x2="231.2" y2="1426.2" stroke="#000" stroke-width="2.4"/>
<line x1="217.2" y1="1575.2" x2="231.2" y2="1575.2" stroke="#000" stroke-width="2.4"/>
<text x="212.2" y="1585.5" font-size="30.5" text-anchor="end">0</text>
<line x1="217.2" y1="1538.2" x2="231.2" y2="1538.2" stroke="#000" stroke-width="2.4"/>
<text x="212.2" y="1548.5" font-size="30.5" text-anchor="end">10</text>
<line x1="217.2" y1="1501.3" x2="231.2" y2="1501.3" stroke="#000" stroke-width="2.4"/>
<text x="212.2" y="1511.6" font-size="30.5" text-anchor="end">20</text>
<line x1="217.2" y1="1464.4" x2="231.2" y2="1464.4" stroke="#000" stroke-width="2.4"/>
<text x="212.2" y="1474.7" font-size="30.5" text-anchor="end">30</text>
<line x1="217.2" y1="1427.4" x2="231.2" y2="1427.4" stroke="#000" stroke-width="2.4"/>
<text x="212.2" y="1437.7" font-size="30.5" text-anchor="end">40</text>
<text x="152" y="1501.3" font-size="30.5" text-anchor="middle" transform="rotate(-90 152 1501.3)">sample</text>
<rect x="781.9" y="1486.5" width="54.4" height="88.7" fill="#008000" stroke="#000" stroke-width="2"/>
<text x="827.6" y="1593.2" font-size="30.5" text-anchor="end" transform="rotate(-45 827.6 1593.2)">ISR-THS</text>
<rect x="848.6" y="1457" width="54.4" height="118.2" fill="#ffa500" stroke="#000" stroke-width="2"/>
<rect x="848.6" y="1427.4" width="54.4" height="29.6" fill="#008000" stroke="#000" stroke-width="2"/>
<text x="894.3" y="1593.2" font-size="30.5" text-anchor="end" transform="rotate(-45 894.3 1593.2)">SYR-THM</text>
<rect x="915.4" y="1457" width="54.4" height="118.2" fill="#ffa500" stroke="#000" stroke-width="2"/>
<text x="961.1" y="1593.2" font-size="30.5" text-anchor="end" transform="rotate(-45 961.1 1593.2)">GEO-THS</text>
<rect x="982.1" y="1486.5" width="54.4" height="88.7" fill="#ffa500" stroke="#000" stroke-width="2"/>
<text x="1027.8" y="1593.2" font-size="30.5" text-anchor="end" transform="rotate(-45 1027.8 1593.2)">IRN-THS</text>
<rect x="1048.8" y="1486.5" width="54.4" height="88.7" fill="#008000" stroke="#000" stroke-width="2"/>
<text x="1094.5" y="1593.2" font-size="30.5" text-anchor="end" transform="rotate(-45 1094.5 1593.2)">TUR-THM</text>
<rect x="1115.5" y="1530.9" width="54.4" height="44.3" fill="#ffa500" stroke="#000" stroke-width="2"/>
<rect x="1115.5" y="1501.3" width="54.4" height="29.6" fill="#008000" stroke="#000" stroke-width="2"/>
<text x="1161.2" y="1593.2" font-size="30.5" text-anchor="end" transform="rotate(-45 1161.2 1593.2)">EU-THM</text>
<rect x="1182.3" y="1427.4" width="54.4" height="147.8" fill="#008000" stroke="#000" stroke-width="2"/>
<text x="1228" y="1593.2" font-size="30.5" text-anchor="end" transform="rotate(-45 1228 1593.2)">EU-THS</text>
<rect x="1249" y="1427.4" width="54.4" height="147.8" fill="#008000" stroke="#000" stroke-width="2"/>
<text x="1294.7" y="1593.2" font-size="30.5" text-anchor="end" transform="rotate(-45 1294.7 1593.2)">ME-SHS</text>
<rect x="1315.7" y="1471.7" width="54.4" height="103.5" fill="#008000" stroke="#000" stroke-width="2"/>
<text x="1361.4" y="1593.2" font-size="30.5" text-anchor="end" transform="rotate(-45 1361.4 1593.2)">EU-SHW</text>
<rect x="1382.5" y="1442.2" width="54.4" height="133" fill="#008000" stroke="#000" stroke-width="2"/>
<text x="1428.2" y="1593.2" font-size="30.5" text-anchor="end" transform="rotate(-45 1428.2 1593.2)">EU-SHM</text>
<rect x="1449.2" y="1560.4" width="54.4" height="14.8" fill="#ffa500" stroke="#000" stroke-width="2"/>
<rect x="1449.2" y="1457" width="54.4" height="103.5" fill="#008000" stroke="#000" stroke-width="2"/>
<text x="1494.9" y="1593.2" font-size="30.5" text-anchor="end" transform="rotate(-45 1494.9 1593.2)">ETH-MHS</text>
<rect x="1515.9" y="1442.2" width="54.4" height="133" fill="#008000" stroke="#000" stroke-width="2"/>
<text x="1561.6" y="1593.2" font-size="30.5" text-anchor="end" transform="rotate(-45 1561.6 1593.2)">ETH-MNS</text>
<rect x="1582.7" y="1471.7" width="54.4" height="103.5" fill="#008000" stroke="#000" stroke-width="2"/>
<text x="1628.4" y="1593.2" font-size="30.5" text-anchor="end" transform="rotate(-45 1628.4 1593.2)">CA-SHS</text>
<rect x="1649.4" y="1471.7" width="54.4" height="103.5" fill="#ffa500" stroke="#000" stroke-width="2"/>
<text x="1695.1" y="1593.2" font-size="30.5" text-anchor="end" transform="rotate(-45 1695.1 1593.2)">CA-SNS</text>
<rect x="1716.1" y="1457" width="54.4" height="118.2" fill="#ffa500" stroke="#000" stroke-width="2"/>
<text x="1761.8" y="1593.2" font-size="30.5" text-anchor="end" transform="rotate(-45 1761.8 1593.2)">EA-SHM</text>
<line x1="745.4" y1="1575.2" x2="1786" y2="1575.2" stroke="#000" stroke-width="2.4"/>
<line x1="759.4" y1="1576.4" x2="759.4" y2="1426.2" stroke="#000" stroke-width="2.4"/>
<line x1="745.4" y1="1575.2" x2="759.4" y2="1575.2" stroke="#000" stroke-width="2.4"/>
<text x="740.4" y="1585.5" font-size="30.5" text-anchor="end">0</text>
<line x1="745.4" y1="1501.3" x2="759.4" y2="1501.3" stroke="#000" stroke-width="2.4"/>
<text x="740.4" y="1511.6" font-size="30.5" text-anchor="end">5</text>
<line x1="745.4" y1="1427.4" x2="759.4" y2="1427.4" stroke="#000" stroke-width="2.4"/>
<text x="740.4" y="1437.7" font-size="30.5" text-anchor="end">10</text>
<text x="706" y="1501.3" font-size="30.5" text-anchor="middle" transform="rotate(-90 706 1501.3)">sample</text>
<rect x="1887" y="1472.8" width="30" height="29.5" fill="#008000"/>
<rect x="1887" y="1533" width="30" height="29.5" fill="#ffa500"/>
<text x="1934" y="1497.5" font-size="30.5">haplotype1</text>
<text x="1934" y="1557.5" font-size="30.5">haplotype2</text>
</g>
<g id="panel-e">
<text x="-2" y="1712.5" font-size="46" font-weight="bold">e</text>
<text x="264" y="1808.6" font-size="30.5" text-anchor="middle">Sequence assemblies</text>
<text x="264" y="1845.5" font-size="30.5" text-anchor="middle">with haplotype1</text>
<text x="260.5" y="1882.4" font-size="30.5" text-anchor="middle">vs.</text>
<text x="264" y="1919.3" font-size="30.5" text-anchor="middle">MorexV3</text>
<text x="260.4" y="2188.6" font-size="30.5" text-anchor="middle">Sequence assemblies</text>
<text x="260.4" y="2225.5" font-size="30.5" text-anchor="middle">with haplotype2</text>
<text x="260.5" y="2262.4" font-size="30.5" text-anchor="middle">vs.</text>
<text x="264.4" y="2299.3" font-size="30.5" text-anchor="middle">MorexV3</text>
<clipPath id="c584_1724"><rect x="582.2" y="1722" width="275.5" height="275.5"/></clipPath>
<g clip-path="url(#c584_1724)">
<line x1="584.2" y1="1995.5" x2="855.7" y2="1724" stroke="#000" stroke-width="5" stroke-linecap="round"/>
<g fill="#000"><circle cx="602.7" cy="1740.6" r="2.5"/><circle cx="637.4" cy="1780" r="2.5"/><circle cx="596.1" cy="1808.4" r="2.5"/><circle cx="602.4" cy="1867.1" r="2.5"/><circle cx="602.4" cy="1869" r="2.5"/><circle cx="634.5" cy="1863.9" r="2.5"/><circle cx="642" cy="1858.8" r="2.5"/><circle cx="626.9" cy="1912.6" r="2.5"/><circle cx="632" cy="1915.8" r="2.5"/><circle cx="590.3" cy="1949.8" r="2.5"/><circle cx="602.4" cy="1959.5" r="2.5"/><circle cx="669" cy="1985.2" r="2.5"/><circle cx="728" cy="1985.2" r="2.5"/><circle cx="782.4" cy="1988.4" r="2.5"/><circle cx="817.6" cy="1975.9" r="2.5"/><circle cx="855" cy="1973.5" r="2.5"/><circle cx="816.8" cy="1803.5" r="2.5"/><circle cx="849.6" cy="1760.7" r="2.5"/><circle cx="736.7" cy="1836.5" r="2.5"/><circle cx="740.1" cy="1840.2" r="2.5"/><circle cx="584.2" cy="1995" r="2.5"/><circle cx="609.7" cy="1967.4" r="2.5"/></g>
</g>
<rect x="652.1" y="1724" width="109.1" height="271.5" fill="rgba(30,144,255,0.35)"/>
<line x1="724.3" y1="1724" x2="724.3" y2="1995.5" stroke="#586c80" stroke-width="3.5" stroke-dasharray="7.3 4.9"/>
<rect x="584.2" y="1724" width="271.5" height="271.5" fill="none" stroke="#000" stroke-width="2.2"/>
<text x="590.7" y="2029" font-size="24" text-anchor="middle">100</text>
<text x="576.7" y="2004" font-size="24" text-anchor="end">100</text>
<line x1="652.1" y1="1724" x2="652.1" y2="1733" stroke="#000" stroke-width="2"/>
<line x1="652.1" y1="1995.5" x2="652.1" y2="1986.5" stroke="#000" stroke-width="2"/>
<line x1="584.2" y1="1927.6" x2="593.2" y2="1927.6" stroke="#000" stroke-width="2"/>
<line x1="855.7" y1="1927.6" x2="846.7" y2="1927.6" stroke="#000" stroke-width="2"/>
<text x="658.6" y="2029" font-size="24" text-anchor="middle">150</text>
<text x="576.7" y="1936.1" font-size="24" text-anchor="end">150</text>
<line x1="720" y1="1724" x2="720" y2="1733" stroke="#000" stroke-width="2"/>
<line x1="720" y1="1995.5" x2="720" y2="1986.5" stroke="#000" stroke-width="2"/>
<line x1="584.2" y1="1859.8" x2="593.2" y2="1859.8" stroke="#000" stroke-width="2"/>
<line x1="855.7" y1="1859.8" x2="846.7" y2="1859.8" stroke="#000" stroke-width="2"/>
<text x="726.5" y="2029" font-size="24" text-anchor="middle">200</text>
<text x="576.7" y="1868.2" font-size="24" text-anchor="end">200</text>
<line x1="787.8" y1="1724" x2="787.8" y2="1733" stroke="#000" stroke-width="2"/>
<line x1="787.8" y1="1995.5" x2="787.8" y2="1986.5" stroke="#000" stroke-width="2"/>
<line x1="584.2" y1="1791.9" x2="593.2" y2="1791.9" stroke="#000" stroke-width="2"/>
<line x1="855.7" y1="1791.9" x2="846.7" y2="1791.9" stroke="#000" stroke-width="2"/>
<text x="794.3" y="2029" font-size="24" text-anchor="middle">250</text>
<text x="576.7" y="1800.4" font-size="24" text-anchor="end">250</text>
<text x="862.2" y="2029" font-size="24" text-anchor="middle">300</text>
<text x="576.7" y="1732.5" font-size="24" text-anchor="end">300</text>
<text x="720.8" y="2066" font-size="24" text-anchor="middle">MorexV3</text>
<text x="511.2" y="1856.8" font-size="24" text-anchor="middle" transform="rotate(-90 511.2 1856.8)">FT67 (w)</text>
<clipPath id="c995_1724"><rect x="993.8" y="1722" width="275.5" height="275.5"/></clipPath>
<g clip-path="url(#c995_1724)">
<line x1="995.8" y1="1991.1" x2="1263.4" y2="1724" stroke="#000" stroke-width="5" stroke-linecap="round"/>
<g fill="#000"><circle cx="1056.5" cy="1741.6" r="2.5"/><circle cx="1088" cy="1735.7" r="2.5"/><circle cx="1014.2" cy="1784.4" r="2.5"/><circle cx="1008.1" cy="1807.4" r="2.5"/><circle cx="1074" cy="1800.8" r="2.5"/><circle cx="1071.5" cy="1852.7" r="2.5"/><circle cx="1053.6" cy="1858.3" r="2.5"/><circle cx="1046.1" cy="1863.2" r="2.5"/><circle cx="1038.6" cy="1912.1" r="2.5"/><circle cx="1049" cy="1949.8" r="2.5"/><circle cx="1014.2" cy="1958.3" r="2.5"/><circle cx="1024.6" cy="1966.1" r="2.5"/><circle cx="997.7" cy="1971.5" r="2.5"/><circle cx="1002.6" cy="1993.5" r="2.5"/><circle cx="1027.3" cy="1992.6" r="2.5"/><circle cx="1041.3" cy="1991.6" r="2.5"/><circle cx="1115.8" cy="1992.6" r="2.5"/><circle cx="1204.6" cy="1875.4" r="2.5"/><circle cx="1201.2" cy="1986.2" r="2.5"/><circle cx="1228.8" cy="1974.7" r="2.5"/><circle cx="1254.5" cy="1993.1" r="2.5"/><circle cx="1265.4" cy="1971.8" r="2.5"/><circle cx="1262.9" cy="1808.1" r="2.5"/><circle cx="1266.3" cy="1802.3" r="2.5"/><circle cx="1265.4" cy="1786.9" r="2.5"/><circle cx="1148.5" cy="1835.5" r="2.5"/><circle cx="1152.1" cy="1839.4" r="2.5"/><circle cx="996.8" cy="1992.1" r="2.5"/><circle cx="1210.2" cy="1777.1" r="2.5"/></g>
</g>
<rect x="1063.7" y="1724" width="109.1" height="271.5" fill="rgba(30,144,255,0.35)"/>
<line x1="1135.9" y1="1724" x2="1135.9" y2="1995.5" stroke="#586c80" stroke-width="3.5" stroke-dasharray="7.3 4.9"/>
<rect x="995.8" y="1724" width="271.5" height="271.5" fill="none" stroke="#000" stroke-width="2.2"/>
<text x="1002.3" y="2029" font-size="24" text-anchor="middle">100</text>
<text x="988.3" y="2004" font-size="24" text-anchor="end">100</text>
<line x1="1063.7" y1="1724" x2="1063.7" y2="1733" stroke="#000" stroke-width="2"/>
<line x1="1063.7" y1="1995.5" x2="1063.7" y2="1986.5" stroke="#000" stroke-width="2"/>
<line x1="995.8" y1="1927.6" x2="1004.8" y2="1927.6" stroke="#000" stroke-width="2"/>
<line x1="1267.3" y1="1927.6" x2="1258.3" y2="1927.6" stroke="#000" stroke-width="2"/>
<text x="1070.2" y="2029" font-size="24" text-anchor="middle">150</text>
<text x="988.3" y="1936.1" font-size="24" text-anchor="end">150</text>
<line x1="1131.5" y1="1724" x2="1131.5" y2="1733" stroke="#000" stroke-width="2"/>
<line x1="1131.5" y1="1995.5" x2="1131.5" y2="1986.5" stroke="#000" stroke-width="2"/>
<line x1="995.8" y1="1859.8" x2="1004.8" y2="1859.8" stroke="#000" stroke-width="2"/>
<line x1="1267.3" y1="1859.8" x2="1258.3" y2="1859.8" stroke="#000" stroke-width="2"/>
<text x="1138" y="2029" font-size="24" text-anchor="middle">200</text>
<text x="988.3" y="1868.2" font-size="24" text-anchor="end">200</text>
<line x1="1199.4" y1="1724" x2="1199.4" y2="1733" stroke="#000" stroke-width="2"/>
<line x1="1199.4" y1="1995.5" x2="1199.4" y2="1986.5" stroke="#000" stroke-width="2"/>
<line x1="995.8" y1="1791.9" x2="1004.8" y2="1791.9" stroke="#000" stroke-width="2"/>
<line x1="1267.3" y1="1791.9" x2="1258.3" y2="1791.9" stroke="#000" stroke-width="2"/>
<text x="1205.9" y="2029" font-size="24" text-anchor="middle">250</text>
<text x="988.3" y="1800.4" font-size="24" text-anchor="end">250</text>
<text x="1273.8" y="2029" font-size="24" text-anchor="middle">300</text>
<text x="988.3" y="1732.5" font-size="24" text-anchor="end">300</text>
<text x="1132.3" y="2066" font-size="24" text-anchor="middle">MorexV3</text>
<text x="922.8" y="1856.8" font-size="24" text-anchor="middle" transform="rotate(-90 922.8 1856.8)">WBDC_349 (w)</text>
<clipPath id="c1408_1724"><rect x="1406" y="1722" width="275.5" height="275.5"/></clipPath>
<g clip-path="url(#c1408_1724)">
<line x1="1408" y1="1985" x2="1669.8" y2="1724" stroke="#000" stroke-width="3.4" stroke-linecap="round"/>
<g fill="#000"></g>
</g>
<rect x="1475.9" y="1724" width="109.1" height="271.5" fill="rgba(30,144,255,0.35)"/>
<line x1="1548.1" y1="1724" x2="1548.1" y2="1995.5" stroke="#586c80" stroke-width="3.5" stroke-dasharray="7.3 4.9"/>
<rect x="1408" y="1724" width="271.5" height="271.5" fill="none" stroke="#000" stroke-width="2.2"/>
<text x="1414.5" y="2029" font-size="24" text-anchor="middle">100</text>
<text x="1400.5" y="2004" font-size="24" text-anchor="end">100</text>
<line x1="1475.9" y1="1724" x2="1475.9" y2="1733" stroke="#000" stroke-width="2"/>
<line x1="1475.9" y1="1995.5" x2="1475.9" y2="1986.5" stroke="#000" stroke-width="2"/>
<line x1="1408" y1="1927.6" x2="1417" y2="1927.6" stroke="#000" stroke-width="2"/>
<line x1="1679.5" y1="1927.6" x2="1670.5" y2="1927.6" stroke="#000" stroke-width="2"/>
<text x="1482.4" y="2029" font-size="24" text-anchor="middle">150</text>
<text x="1400.5" y="1936.1" font-size="24" text-anchor="end">150</text>
<line x1="1543.8" y1="1724" x2="1543.8" y2="1733" stroke="#000" stroke-width="2"/>
<line x1="1543.8" y1="1995.5" x2="1543.8" y2="1986.5" stroke="#000" stroke-width="2"/>
<line x1="1408" y1="1859.8" x2="1417" y2="1859.8" stroke="#000" stroke-width="2"/>
<line x1="1679.5" y1="1859.8" x2="1670.5" y2="1859.8" stroke="#000" stroke-width="2"/>
<text x="1550.2" y="2029" font-size="24" text-anchor="middle">200</text>
<text x="1400.5" y="1868.2" font-size="24" text-anchor="end">200</text>
<line x1="1611.6" y1="1724" x2="1611.6" y2="1733" stroke="#000" stroke-width="2"/>
<line x1="1611.6" y1="1995.5" x2="1611.6" y2="1986.5" stroke="#000" stroke-width="2"/>
<line x1="1408" y1="1791.9" x2="1417" y2="1791.9" stroke="#000" stroke-width="2"/>
<line x1="1679.5" y1="1791.9" x2="1670.5" y2="1791.9" stroke="#000" stroke-width="2"/>
<text x="1618.1" y="2029" font-size="24" text-anchor="middle">250</text>
<text x="1400.5" y="1800.4" font-size="24" text-anchor="end">250</text>
<text x="1686" y="2029" font-size="24" text-anchor="middle">300</text>
<text x="1400.5" y="1732.5" font-size="24" text-anchor="end">300</text>
<text x="1544.5" y="2066" font-size="24" text-anchor="middle">MorexV3</text>
<text x="1335" y="1856.8" font-size="24" text-anchor="middle" transform="rotate(-90 1335 1856.8)">HOR_13821 (d)</text>
<clipPath id="c1819_1724"><rect x="1817.9" y="1722" width="275.5" height="275.5"/></clipPath>
<g clip-path="url(#c1819_1724)">
<line x1="1819.9" y1="1995.5" x2="1980.5" y2="1834.6" stroke="#000" stroke-width="4.2" stroke-linecap="round"/>
<line x1="1980" y1="1801" x2="2012.1" y2="1833.6" stroke="#000" stroke-width="4.2" stroke-linecap="round"/>
<line x1="2014.5" y1="1800.3" x2="2090.9" y2="1723.5" stroke="#000" stroke-width="4.2" stroke-linecap="round"/>
<g fill="#000"></g>
</g>
<rect x="1887.8" y="1724" width="109.1" height="271.5" fill="rgba(30,144,255,0.35)"/>
<line x1="1960" y1="1724" x2="1960" y2="1995.5" stroke="#586c80" stroke-width="3.5" stroke-dasharray="7.3 4.9"/>
<rect x="1819.9" y="1724" width="271.5" height="271.5" fill="none" stroke="#000" stroke-width="2.2"/>
<text x="1826.4" y="2029" font-size="24" text-anchor="middle">100</text>
<text x="1812.4" y="2004" font-size="24" text-anchor="end">100</text>
<line x1="1887.8" y1="1724" x2="1887.8" y2="1733" stroke="#000" stroke-width="2"/>
<line x1="1887.8" y1="1995.5" x2="1887.8" y2="1986.5" stroke="#000" stroke-width="2"/>
<line x1="1819.9" y1="1927.6" x2="1828.9" y2="1927.6" stroke="#000" stroke-width="2"/>
<line x1="2091.4" y1="1927.6" x2="2082.4" y2="1927.6" stroke="#000" stroke-width="2"/>
<text x="1894.3" y="2029" font-size="24" text-anchor="middle">150</text>
<text x="1812.4" y="1936.1" font-size="24" text-anchor="end">150</text>
<line x1="1955.7" y1="1724" x2="1955.7" y2="1733" stroke="#000" stroke-width="2"/>
<line x1="1955.7" y1="1995.5" x2="1955.7" y2="1986.5" stroke="#000" stroke-width="2"/>
<line x1="1819.9" y1="1859.8" x2="1828.9" y2="1859.8" stroke="#000" stroke-width="2"/>
<line x1="2091.4" y1="1859.8" x2="2082.4" y2="1859.8" stroke="#000" stroke-width="2"/>
<text x="1962.2" y="2029" font-size="24" text-anchor="middle">200</text>
<text x="1812.4" y="1868.2" font-size="24" text-anchor="end">200</text>
<line x1="2023.5" y1="1724" x2="2023.5" y2="1733" stroke="#000" stroke-width="2"/>
<line x1="2023.5" y1="1995.5" x2="2023.5" y2="1986.5" stroke="#000" stroke-width="2"/>
<line x1="1819.9" y1="1791.9" x2="1828.9" y2="1791.9" stroke="#000" stroke-width="2"/>
<line x1="2091.4" y1="1791.9" x2="2082.4" y2="1791.9" stroke="#000" stroke-width="2"/>
<text x="2030" y="2029" font-size="24" text-anchor="middle">250</text>
<text x="1812.4" y="1800.4" font-size="24" text-anchor="end">250</text>
<text x="2097.9" y="2029" font-size="24" text-anchor="middle">300</text>
<text x="1812.4" y="1732.5" font-size="24" text-anchor="end">300</text>
<text x="1956.5" y="2066" font-size="24" text-anchor="middle">MorexV3</text>
<text x="1746.9" y="1856.8" font-size="24" text-anchor="middle" transform="rotate(-90 1746.9 1856.8)">HOR_6220 (d)</text>
<clipPath id="c584_2104"><rect x="582.2" y="2102.2" width="275.5" height="275.5"/></clipPath>
<g clip-path="url(#c584_2104)">
<line x1="584.2" y1="2375.2" x2="709.3" y2="2246.4" stroke="#000" stroke-width="5.2" stroke-linecap="round"/>
<line x1="709.3" y1="2228.9" x2="727" y2="2246.4" stroke="#000" stroke-width="5.2" stroke-linecap="round"/>
<line x1="733.5" y1="2198.1" x2="755.4" y2="2220.1" stroke="#000" stroke-width="5.2" stroke-linecap="round"/>
<line x1="757.1" y1="2196.4" x2="850.1" y2="2102.5" stroke="#000" stroke-width="5.2" stroke-linecap="round"/>
<g fill="#000"><circle cx="603.1" cy="2155.9" r="2.5"/><circle cx="601.7" cy="2171" r="2.5"/><circle cx="629.6" cy="2168.6" r="2.5"/><circle cx="592.5" cy="2202.7" r="2.5"/><circle cx="627.2" cy="2218.6" r="2.5"/><circle cx="630.6" cy="2282.5" r="2.5"/><circle cx="637.4" cy="2282" r="2.5"/><circle cx="632.3" cy="2294.2" r="2.5"/><circle cx="602.7" cy="2337.4" r="2.5"/><circle cx="639.6" cy="2360.6" r="2.5"/><circle cx="660.9" cy="2354.5" r="2.5"/><circle cx="656.6" cy="2165.2" r="2.5"/><circle cx="662.6" cy="2179.1" r="2.5"/><circle cx="686.2" cy="2136.9" r="2.5"/><circle cx="698.6" cy="2156.6" r="2.5"/><circle cx="711.5" cy="2147.4" r="2.5"/><circle cx="755.6" cy="2156.6" r="2.5"/><circle cx="724.3" cy="2189.3" r="2.5"/><circle cx="686.7" cy="2212.3" r="2.5"/><circle cx="701" cy="2216.2" r="2.5"/><circle cx="665.3" cy="2226.2" r="2.5"/><circle cx="697.9" cy="2231.3" r="2.5"/><circle cx="708.1" cy="2222.8" r="2.5"/><circle cx="716.8" cy="2224.5" r="2.5"/><circle cx="706.4" cy="2232.8" r="2.5"/><circle cx="662.6" cy="2249.1" r="2.5"/><circle cx="728.4" cy="2205.4" r="2.5"/><circle cx="727.5" cy="2213" r="2.5"/><circle cx="724.3" cy="2221.3" r="2.5"/><circle cx="733.1" cy="2224.5" r="2.5"/><circle cx="728.4" cy="2231.3" r="2.5"/><circle cx="731.4" cy="2254" r="2.5"/><circle cx="750.5" cy="2240.3" r="2.5"/><circle cx="755.4" cy="2226.2" r="2.5"/><circle cx="760" cy="2271.5" r="2.5"/><circle cx="694.2" cy="2294.2" r="2.5"/><circle cx="701" cy="2298.1" r="2.5"/><circle cx="735.5" cy="2293.5" r="2.5"/><circle cx="741.1" cy="2300.1" r="2.5"/><circle cx="727.7" cy="2341.3" r="2.5"/><circle cx="711" cy="2373.7" r="2.5"/><circle cx="784.1" cy="2245.7" r="2.5"/><circle cx="782.4" cy="2325.2" r="2.5"/><circle cx="811.5" cy="2268.4" r="2.5"/><circle cx="814.4" cy="2170.1" r="2.5"/><circle cx="818.1" cy="2194.9" r="2.5"/><circle cx="853.3" cy="2166.4" r="2.5"/><circle cx="850.6" cy="2202.7" r="2.5"/><circle cx="849.1" cy="2229.6" r="2.5"/><circle cx="844" cy="2246.7" r="2.5"/><circle cx="849.6" cy="2247.1" r="2.5"/><circle cx="852.3" cy="2298.9" r="2.5"/><circle cx="851.8" cy="2355.2" r="2.5"/><circle cx="606.5" cy="2346.4" r="2.5"/><circle cx="613.3" cy="2346.4" r="2.5"/><circle cx="610.2" cy="2350.8" r="2.5"/><circle cx="757.3" cy="2192.7" r="2.5"/><circle cx="737.2" cy="2202.5" r="2.5"/><circle cx="741.6" cy="2201.5" r="2.5"/></g>
</g>
<rect x="652.1" y="2104.2" width="109.1" height="271.5" fill="rgba(30,144,255,0.35)"/>
<line x1="724.3" y1="2104.2" x2="724.3" y2="2375.7" stroke="#586c80" stroke-width="3.5" stroke-dasharray="7.3 4.9"/>
<rect x="584.2" y="2104.2" width="271.5" height="271.5" fill="none" stroke="#000" stroke-width="2.2"/>
<text x="590.7" y="2409.2" font-size="24" text-anchor="middle">100</text>
<text x="576.7" y="2384.2" font-size="24" text-anchor="end">100</text>
<line x1="652.1" y1="2104.2" x2="652.1" y2="2113.2" stroke="#000" stroke-width="2"/>
<line x1="652.1" y1="2375.7" x2="652.1" y2="2366.7" stroke="#000" stroke-width="2"/>
<line x1="584.2" y1="2307.8" x2="593.2" y2="2307.8" stroke="#000" stroke-width="2"/>
<line x1="855.7" y1="2307.8" x2="846.7" y2="2307.8" stroke="#000" stroke-width="2"/>
<text x="658.6" y="2409.2" font-size="24" text-anchor="middle">150</text>
<text x="576.7" y="2316.3" font-size="24" text-anchor="end">150</text>
<line x1="720" y1="2104.2" x2="720" y2="2113.2" stroke="#000" stroke-width="2"/>
<line x1="720" y1="2375.7" x2="720" y2="2366.7" stroke="#000" stroke-width="2"/>
<line x1="584.2" y1="2239.9" x2="593.2" y2="2239.9" stroke="#000" stroke-width="2"/>
<line x1="855.7" y1="2239.9" x2="846.7" y2="2239.9" stroke="#000" stroke-width="2"/>
<text x="726.5" y="2409.2" font-size="24" text-anchor="middle">200</text>
<text x="576.7" y="2248.4" font-size="24" text-anchor="end">200</text>
<line x1="787.8" y1="2104.2" x2="787.8" y2="2113.2" stroke="#000" stroke-width="2"/>
<line x1="787.8" y1="2375.7" x2="787.8" y2="2366.7" stroke="#000" stroke-width="2"/>
<line x1="584.2" y1="2172.1" x2="593.2" y2="2172.1" stroke="#000" stroke-width="2"/>
<line x1="855.7" y1="2172.1" x2="846.7" y2="2172.1" stroke="#000" stroke-width="2"/>
<text x="794.3" y="2409.2" font-size="24" text-anchor="middle">250</text>
<text x="576.7" y="2180.6" font-size="24" text-anchor="end">250</text>
<text x="862.2" y="2409.2" font-size="24" text-anchor="middle">300</text>
<text x="576.7" y="2112.7" font-size="24" text-anchor="end">300</text>
<text x="720.8" y="2446.2" font-size="24" text-anchor="middle">MorexV3</text>
<text x="511.2" y="2236.9" font-size="24" text-anchor="middle" transform="rotate(-90 511.2 2236.9)">WBDC_199 (w)</text>
<clipPath id="c995_2104"><rect x="993.8" y="2102.2" width="275.5" height="275.5"/></clipPath>
<g clip-path="url(#c995_2104)">
<line x1="995.8" y1="2365.9" x2="1144.9" y2="2221.5" stroke="#000" stroke-width="5.2" stroke-linecap="round"/>
<line x1="1144.4" y1="2197.6" x2="1168.1" y2="2221.3" stroke="#000" stroke-width="5.2" stroke-linecap="round"/>
<line x1="1167.4" y1="2196.9" x2="1258.6" y2="2103.7" stroke="#000" stroke-width="5.2" stroke-linecap="round"/>
<g fill="#000"><circle cx="1009.4" cy="2107.4" r="2.5"/><circle cx="1004.5" cy="2104.2" r="2.5"/><circle cx="1082.4" cy="2111.8" r="2.5"/><circle cx="1123.3" cy="2110.1" r="2.5"/><circle cx="1097.4" cy="2136.4" r="2.5"/><circle cx="1122.6" cy="2146.9" r="2.5"/><circle cx="1109.8" cy="2155.9" r="2.5"/><circle cx="1166.6" cy="2155.9" r="2.5"/><circle cx="1172" cy="2133.2" r="2.5"/><circle cx="1120.9" cy="2170.3" r="2.5"/><circle cx="1144.9" cy="2171.5" r="2.5"/><circle cx="1160.1" cy="2176.9" r="2.5"/><circle cx="1074" cy="2178.6" r="2.5"/><circle cx="1013.5" cy="2170.6" r="2.5"/><circle cx="1039.1" cy="2165.9" r="2.5"/><circle cx="1041.8" cy="2168.4" r="2.5"/><circle cx="1004" cy="2202.3" r="2.5"/><circle cx="1014.7" cy="2199.1" r="2.5"/><circle cx="1109" cy="2205.2" r="2.5"/><circle cx="1097.7" cy="2211.5" r="2.5"/><circle cx="1128.2" cy="2209.8" r="2.5"/><circle cx="1112.4" cy="2215.4" r="2.5"/><circle cx="1119" cy="2223.7" r="2.5"/><circle cx="1139.5" cy="2204.9" r="2.5"/><circle cx="1080.7" cy="2239.1" r="2.5"/><circle cx="1074" cy="2244.7" r="2.5"/><circle cx="1044" cy="2249.3" r="2.5"/><circle cx="1076.6" cy="2260.6" r="2.5"/><circle cx="1132" cy="2258.6" r="2.5"/><circle cx="1139.5" cy="2239.1" r="2.5"/><circle cx="1142.9" cy="2249.3" r="2.5"/><circle cx="1161.8" cy="2227.9" r="2.5"/><circle cx="1049" cy="2277.4" r="2.5"/><circle cx="1044" cy="2289.1" r="2.5"/><circle cx="1016.9" cy="2286.2" r="2.5"/><circle cx="1105.7" cy="2289.1" r="2.5"/><circle cx="1112.4" cy="2293.5" r="2.5"/><circle cx="1131.1" cy="2287.6" r="2.5"/><circle cx="1146.8" cy="2288.6" r="2.5"/><circle cx="1152.1" cy="2295.4" r="2.5"/><circle cx="1014.4" cy="2333.5" r="2.5"/><circle cx="1028" cy="2345.7" r="2.5"/><circle cx="1046.1" cy="2354.5" r="2.5"/><circle cx="1004" cy="2372.3" r="2.5"/><circle cx="1072.3" cy="2357.4" r="2.5"/><circle cx="1074.7" cy="2360.3" r="2.5"/><circle cx="1101.5" cy="2346.7" r="2.5"/><circle cx="1105.7" cy="2357.9" r="2.5"/><circle cx="1122.4" cy="2365.7" r="2.5"/><circle cx="1084.8" cy="2375.7" r="2.5"/><circle cx="1189.9" cy="2235.7" r="2.5"/><circle cx="1201.7" cy="2287.6" r="2.5"/><circle cx="1210" cy="2294.7" r="2.5"/><circle cx="1222.5" cy="2332.8" r="2.5"/><circle cx="1225.2" cy="2169.3" r="2.5"/><circle cx="1228.8" cy="2119.1" r="2.5"/><circle cx="1245" cy="2128.6" r="2.5"/><circle cx="1259.1" cy="2133.2" r="2.5"/><circle cx="1264.6" cy="2109.8" r="2.5"/><circle cx="1265.4" cy="2165.9" r="2.5"/><circle cx="1260.3" cy="2240.8" r="2.5"/><circle cx="1266.6" cy="2235.9" r="2.5"/><circle cx="1258.3" cy="2253" r="2.5"/><circle cx="1238.5" cy="2258.6" r="2.5"/><circle cx="1238.5" cy="2267.1" r="2.5"/><circle cx="1265.8" cy="2346.4" r="2.5"/><circle cx="1254.7" cy="2367.2" r="2.5"/><circle cx="1264.2" cy="2364.2" r="2.5"/><circle cx="1149.7" cy="2202.5" r="2.5"/><circle cx="1152.1" cy="2200.6" r="2.5"/><circle cx="1167.8" cy="2192.7" r="2.5"/><circle cx="1134" cy="2228.1" r="2.5"/><circle cx="1138.8" cy="2231.8" r="2.5"/><circle cx="1121.9" cy="2236.7" r="2.5"/></g>
</g>
<rect x="1063.7" y="2104.2" width="109.1" height="271.5" fill="rgba(30,144,255,0.35)"/>
<line x1="1135.9" y1="2104.2" x2="1135.9" y2="2375.7" stroke="#586c80" stroke-width="3.5" stroke-dasharray="7.3 4.9"/>
<rect x="995.8" y="2104.2" width="271.5" height="271.5" fill="none" stroke="#000" stroke-width="2.2"/>
<text x="1002.3" y="2409.2" font-size="24" text-anchor="middle">100</text>
<text x="988.3" y="2384.2" font-size="24" text-anchor="end">100</text>
<line x1="1063.7" y1="2104.2" x2="1063.7" y2="2113.2" stroke="#000" stroke-width="2"/>
<line x1="1063.7" y1="2375.7" x2="1063.7" y2="2366.7" stroke="#000" stroke-width="2"/>
<line x1="995.8" y1="2307.8" x2="1004.8" y2="2307.8" stroke="#000" stroke-width="2"/>
<line x1="1267.3" y1="2307.8" x2="1258.3" y2="2307.8" stroke="#000" stroke-width="2"/>
<text x="1070.2" y="2409.2" font-size="24" text-anchor="middle">150</text>
<text x="988.3" y="2316.3" font-size="24" text-anchor="end">150</text>
<line x1="1131.5" y1="2104.2" x2="1131.5" y2="2113.2" stroke="#000" stroke-width="2"/>
<line x1="1131.5" y1="2375.7" x2="1131.5" y2="2366.7" stroke="#000" stroke-width="2"/>
<line x1="995.8" y1="2239.9" x2="1004.8" y2="2239.9" stroke="#000" stroke-width="2"/>
<line x1="1267.3" y1="2239.9" x2="1258.3" y2="2239.9" stroke="#000" stroke-width="2"/>
<text x="1138" y="2409.2" font-size="24" text-anchor="middle">200</text>
<text x="988.3" y="2248.4" font-size="24" text-anchor="end">200</text>
<line x1="1199.4" y1="2104.2" x2="1199.4" y2="2113.2" stroke="#000" stroke-width="2"/>
<line x1="1199.4" y1="2375.7" x2="1199.4" y2="2366.7" stroke="#000" stroke-width="2"/>
<line x1="995.8" y1="2172.1" x2="1004.8" y2="2172.1" stroke="#000" stroke-width="2"/>
<line x1="1267.3" y1="2172.1" x2="1258.3" y2="2172.1" stroke="#000" stroke-width="2"/>
<text x="1205.9" y="2409.2" font-size="24" text-anchor="middle">250</text>
<text x="988.3" y="2180.6" font-size="24" text-anchor="end">250</text>
<text x="1273.8" y="2409.2" font-size="24" text-anchor="middle">300</text>
<text x="988.3" y="2112.7" font-size="24" text-anchor="end">300</text>
<text x="1132.3" y="2446.2" font-size="24" text-anchor="middle">MorexV3</text>
<text x="922.8" y="2236.9" font-size="24" text-anchor="middle" transform="rotate(-90 922.8 2236.9)">WBDC_207 (W)</text>
<clipPath id="c1408_2104"><rect x="1406" y="2102.2" width="275.5" height="275.5"/></clipPath>
<g clip-path="url(#c1408_2104)">
<line x1="1408" y1="2372" x2="1556.9" y2="2224.5" stroke="#000" stroke-width="5.2" stroke-linecap="round"/>
<line x1="1555.2" y1="2195.9" x2="1579.9" y2="2223.2" stroke="#000" stroke-width="5.2" stroke-linecap="round"/>
<line x1="1579.4" y1="2197.6" x2="1674.6" y2="2103.7" stroke="#000" stroke-width="5.2" stroke-linecap="round"/>
<g fill="#000"><circle cx="1450.7" cy="2139.6" r="2.5"/><circle cx="1453.4" cy="2171.8" r="2.5"/><circle cx="1415.3" cy="2199.6" r="2.5"/><circle cx="1415.8" cy="2203" r="2.5"/><circle cx="1418" cy="2207.9" r="2.5"/><circle cx="1458.8" cy="2204" r="2.5"/><circle cx="1461.7" cy="2204" r="2.5"/><circle cx="1426.5" cy="2226.2" r="2.5"/><circle cx="1453.2" cy="2233" r="2.5"/><circle cx="1439.1" cy="2269.3" r="2.5"/><circle cx="1456.1" cy="2291.3" r="2.5"/><circle cx="1459.7" cy="2292" r="2.5"/><circle cx="1462.9" cy="2292.5" r="2.5"/><circle cx="1486.2" cy="2180.3" r="2.5"/><circle cx="1484.5" cy="2213.2" r="2.5"/><circle cx="1534.8" cy="2148.6" r="2.5"/><circle cx="1528.5" cy="2166.2" r="2.5"/><circle cx="1551.3" cy="2175.9" r="2.5"/><circle cx="1540.4" cy="2211.5" r="2.5"/><circle cx="1524.6" cy="2217.6" r="2.5"/><circle cx="1531.4" cy="2225.2" r="2.5"/><circle cx="1543" cy="2229.3" r="2.5"/><circle cx="1550.5" cy="2220.1" r="2.5"/><circle cx="1558.1" cy="2211.5" r="2.5"/><circle cx="1572.6" cy="2211.5" r="2.5"/><circle cx="1486.4" cy="2249.1" r="2.5"/><circle cx="1488.9" cy="2265" r="2.5"/><circle cx="1509.5" cy="2262.3" r="2.5"/><circle cx="1521.2" cy="2262.5" r="2.5"/><circle cx="1537.7" cy="2268.9" r="2.5"/><circle cx="1583.6" cy="2271.3" r="2.5"/><circle cx="1517.8" cy="2294.2" r="2.5"/><circle cx="1511.2" cy="2303" r="2.5"/><circle cx="1555.2" cy="2291.1" r="2.5"/><circle cx="1564.4" cy="2300.1" r="2.5"/><circle cx="1483.8" cy="2363" r="2.5"/><circle cx="1488.6" cy="2358.1" r="2.5"/><circle cx="1534.3" cy="2362.8" r="2.5"/><circle cx="1534.8" cy="2371.3" r="2.5"/><circle cx="1492.5" cy="2375.2" r="2.5"/><circle cx="1551.8" cy="2375.2" r="2.5"/><circle cx="1595.7" cy="2190.6" r="2.5"/><circle cx="1602.3" cy="2189.8" r="2.5"/><circle cx="1606.2" cy="2198.8" r="2.5"/><circle cx="1592.8" cy="2223.5" r="2.5"/><circle cx="1641.4" cy="2196.4" r="2.5"/><circle cx="1657.6" cy="2233.7" r="2.5"/><circle cx="1679" cy="2156.9" r="2.5"/><circle cx="1667.4" cy="2272.8" r="2.5"/><circle cx="1667.8" cy="2281.1" r="2.5"/><circle cx="1674.4" cy="2282" r="2.5"/><circle cx="1600.3" cy="2351.3" r="2.5"/><circle cx="1677.8" cy="2352" r="2.5"/><circle cx="1635.1" cy="2374.5" r="2.5"/><circle cx="1579.9" cy="2194" r="2.5"/><circle cx="1564.1" cy="2202.5" r="2.5"/><circle cx="1434.2" cy="2344" r="2.5"/><circle cx="1437.1" cy="2346.9" r="2.5"/></g>
</g>
<rect x="1475.9" y="2104.2" width="109.1" height="271.5" fill="rgba(30,144,255,0.35)"/>
<line x1="1548.1" y1="2104.2" x2="1548.1" y2="2375.7" stroke="#586c80" stroke-width="3.5" stroke-dasharray="7.3 4.9"/>
<rect x="1408" y="2104.2" width="271.5" height="271.5" fill="none" stroke="#000" stroke-width="2.2"/>
<text x="1414.5" y="2409.2" font-size="24" text-anchor="middle">100</text>
<text x="1400.5" y="2384.2" font-size="24" text-anchor="end">100</text>
<line x1="1475.9" y1="2104.2" x2="1475.9" y2="2113.2" stroke="#000" stroke-width="2"/>
<line x1="1475.9" y1="2375.7" x2="1475.9" y2="2366.7" stroke="#000" stroke-width="2"/>
<line x1="1408" y1="2307.8" x2="1417" y2="2307.8" stroke="#000" stroke-width="2"/>
<line x1="1679.5" y1="2307.8" x2="1670.5" y2="2307.8" stroke="#000" stroke-width="2"/>
<text x="1482.4" y="2409.2" font-size="24" text-anchor="middle">150</text>
<text x="1400.5" y="2316.3" font-size="24" text-anchor="end">150</text>
<line x1="1543.8" y1="2104.2" x2="1543.8" y2="2113.2" stroke="#000" stroke-width="2"/>
<line x1="1543.8" y1="2375.7" x2="1543.8" y2="2366.7" stroke="#000" stroke-width="2"/>
<line x1="1408" y1="2239.9" x2="1417" y2="2239.9" stroke="#000" stroke-width="2"/>
<line x1="1679.5" y1="2239.9" x2="1670.5" y2="2239.9" stroke="#000" stroke-width="2"/>
<text x="1550.2" y="2409.2" font-size="24" text-anchor="middle">200</text>
<text x="1400.5" y="2248.4" font-size="24" text-anchor="end">200</text>
<line x1="1611.6" y1="2104.2" x2="1611.6" y2="2113.2" stroke="#000" stroke-width="2"/>
<line x1="1611.6" y1="2375.7" x2="1611.6" y2="2366.7" stroke="#000" stroke-width="2"/>
<line x1="1408" y1="2172.1" x2="1417" y2="2172.1" stroke="#000" stroke-width="2"/>
<line x1="1679.5" y1="2172.1" x2="1670.5" y2="2172.1" stroke="#000" stroke-width="2"/>
<text x="1618.1" y="2409.2" font-size="24" text-anchor="middle">250</text>
<text x="1400.5" y="2180.6" font-size="24" text-anchor="end">250</text>
<text x="1686" y="2409.2" font-size="24" text-anchor="middle">300</text>
<text x="1400.5" y="2112.7" font-size="24" text-anchor="end">300</text>
<text x="1544.5" y="2446.2" font-size="24" text-anchor="middle">MorexV3</text>
<text x="1335" y="2236.9" font-size="24" text-anchor="middle" transform="rotate(-90 1335 2236.9)">Hocket (d)</text>
<clipPath id="c1819_2104"><rect x="1817.9" y="2102.2" width="275.5" height="275.5"/></clipPath>
<g clip-path="url(#c1819_2104)">
<line x1="1819.9" y1="2367.9" x2="1969.3" y2="2217.6" stroke="#000" stroke-width="5.2" stroke-linecap="round"/>
<line x1="1968.3" y1="2193.2" x2="1992.6" y2="2217.6" stroke="#000" stroke-width="5.2" stroke-linecap="round"/>
<line x1="1992.1" y1="2192" x2="2079.5" y2="2103.7" stroke="#000" stroke-width="5.2" stroke-linecap="round"/>
<g fill="#000"><circle cx="1838.4" cy="2111.8" r="2.5"/><circle cx="1870.3" cy="2126.6" r="2.5"/><circle cx="1837.2" cy="2165.7" r="2.5"/><circle cx="1862.5" cy="2161.5" r="2.5"/><circle cx="1851.3" cy="2182" r="2.5"/><circle cx="1873.2" cy="2182" r="2.5"/><circle cx="1840.3" cy="2286.7" r="2.5"/><circle cx="1867.6" cy="2289.6" r="2.5"/><circle cx="1838.1" cy="2333.5" r="2.5"/><circle cx="1833.3" cy="2348.9" r="2.5"/><circle cx="1872.9" cy="2346.2" r="2.5"/><circle cx="1826.2" cy="2368.9" r="2.5"/><circle cx="1925.7" cy="2140.1" r="2.5"/><circle cx="1946.9" cy="2143" r="2.5"/><circle cx="1933.8" cy="2151.8" r="2.5"/><circle cx="1891.9" cy="2160.1" r="2.5"/><circle cx="1898" cy="2174" r="2.5"/><circle cx="1912.3" cy="2190.6" r="2.5"/><circle cx="1904.8" cy="2200.6" r="2.5"/><circle cx="1912.6" cy="2210.1" r="2.5"/><circle cx="1936.4" cy="2211.3" r="2.5"/><circle cx="1952.7" cy="2205.2" r="2.5"/><circle cx="1963.7" cy="2200.6" r="2.5"/><circle cx="1935.9" cy="2224.5" r="2.5"/><circle cx="1955.7" cy="2224" r="2.5"/><circle cx="1946.2" cy="2235.7" r="2.5"/><circle cx="1898.2" cy="2245.2" r="2.5"/><circle cx="1900.7" cy="2261.1" r="2.5"/><circle cx="1960.3" cy="2240.1" r="2.5"/><circle cx="1964.2" cy="2239.3" r="2.5"/><circle cx="1986.1" cy="2228.9" r="2.5"/><circle cx="1991.2" cy="2151.8" r="2.5"/><circle cx="1996" cy="2124.4" r="2.5"/><circle cx="1996.5" cy="2129.3" r="2.5"/><circle cx="1995.5" cy="2267.4" r="2.5"/><circle cx="1926.5" cy="2280.1" r="2.5"/><circle cx="1936.7" cy="2294.2" r="2.5"/><circle cx="1976.3" cy="2295.7" r="2.5"/><circle cx="1946.4" cy="2367.7" r="2.5"/><circle cx="1945.2" cy="2372.8" r="2.5"/><circle cx="1904.8" cy="2371.8" r="2.5"/><circle cx="1996.8" cy="2371.1" r="2.5"/><circle cx="2053.9" cy="2114.9" r="2.5"/><circle cx="2063.7" cy="2124.4" r="2.5"/><circle cx="2083.9" cy="2129.6" r="2.5"/><circle cx="2090.7" cy="2140.3" r="2.5"/><circle cx="2090.4" cy="2142.7" r="2.5"/><circle cx="2085.1" cy="2160.8" r="2.5"/><circle cx="2023.5" cy="2170.3" r="2.5"/><circle cx="2052.7" cy="2184.2" r="2.5"/><circle cx="2048.3" cy="2194.5" r="2.5"/><circle cx="2085.8" cy="2182" r="2.5"/><circle cx="2026.2" cy="2223.2" r="2.5"/><circle cx="2040.1" cy="2245.2" r="2.5"/><circle cx="2047.1" cy="2264" r="2.5"/><circle cx="2079.7" cy="2223.2" r="2.5"/><circle cx="2080.2" cy="2240.6" r="2.5"/><circle cx="2085.1" cy="2240.6" r="2.5"/><circle cx="2080.2" cy="2251.3" r="2.5"/><circle cx="2079.5" cy="2288.1" r="2.5"/><circle cx="2083.4" cy="2347.9" r="2.5"/><circle cx="2090.7" cy="2347.4" r="2.5"/><circle cx="2082.4" cy="2375.7" r="2.5"/><circle cx="1992.6" cy="2187.9" r="2.5"/><circle cx="1976.1" cy="2197.6" r="2.5"/><circle cx="1971.2" cy="2199.6" r="2.5"/><circle cx="1929.9" cy="2255" r="2.5"/></g>
</g>
<rect x="1887.8" y="2104.2" width="109.1" height="271.5" fill="rgba(30,144,255,0.35)"/>
<line x1="1960" y1="2104.2" x2="1960" y2="2375.7" stroke="#586c80" stroke-width="3.5" stroke-dasharray="7.3 4.9"/>
<rect x="1819.9" y="2104.2" width="271.5" height="271.5" fill="none" stroke="#000" stroke-width="2.2"/>
<text x="1826.4" y="2409.2" font-size="24" text-anchor="middle">100</text>
<text x="1812.4" y="2384.2" font-size="24" text-anchor="end">100</text>
<line x1="1887.8" y1="2104.2" x2="1887.8" y2="2113.2" stroke="#000" stroke-width="2"/>
<line x1="1887.8" y1="2375.7" x2="1887.8" y2="2366.7" stroke="#000" stroke-width="2"/>
<line x1="1819.9" y1="2307.8" x2="1828.9" y2="2307.8" stroke="#000" stroke-width="2"/>
<line x1="2091.4" y1="2307.8" x2="2082.4" y2="2307.8" stroke="#000" stroke-width="2"/>
<text x="1894.3" y="2409.2" font-size="24" text-anchor="middle">150</text>
<text x="1812.4" y="2316.3" font-size="24" text-anchor="end">150</text>
<line x1="1955.7" y1="2104.2" x2="1955.7" y2="2113.2" stroke="#000" stroke-width="2"/>
<line x1="1955.7" y1="2375.7" x2="1955.7" y2="2366.7" stroke="#000" stroke-width="2"/>
<line x1="1819.9" y1="2239.9" x2="1828.9" y2="2239.9" stroke="#000" stroke-width="2"/>
<line x1="2091.4" y1="2239.9" x2="2082.4" y2="2239.9" stroke="#000" stroke-width="2"/>
<text x="1962.2" y="2409.2" font-size="24" text-anchor="middle">200</text>
<text x="1812.4" y="2248.4" font-size="24" text-anchor="end">200</text>
<line x1="2023.5" y1="2104.2" x2="2023.5" y2="2113.2" stroke="#000" stroke-width="2"/>
<line x1="2023.5" y1="2375.7" x2="2023.5" y2="2366.7" stroke="#000" stroke-width="2"/>
<line x1="1819.9" y1="2172.1" x2="1828.9" y2="2172.1" stroke="#000" stroke-width="2"/>
<line x1="2091.4" y1="2172.1" x2="2082.4" y2="2172.1" stroke="#000" stroke-width="2"/>
<text x="2030" y="2409.2" font-size="24" text-anchor="middle">250</text>
<text x="1812.4" y="2180.6" font-size="24" text-anchor="end">250</text>
<text x="2097.9" y="2409.2" font-size="24" text-anchor="middle">300</text>
<text x="1812.4" y="2112.7" font-size="24" text-anchor="end">300</text>
<text x="1956.5" y="2446.2" font-size="24" text-anchor="middle">MorexV3</text>
<text x="1746.9" y="2236.9" font-size="24" text-anchor="middle" transform="rotate(-90 1746.9 2236.9)">Akashinirki (d)</text>
</g>
</svg>
</body></html>
